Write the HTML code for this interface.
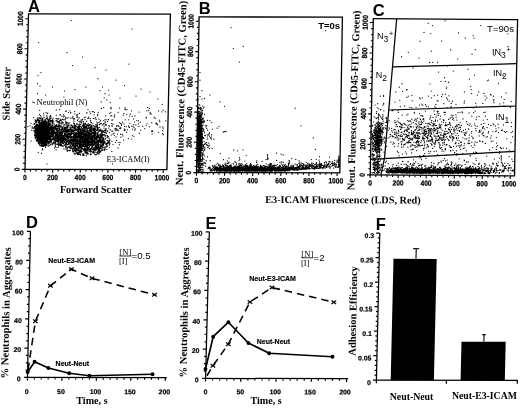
<!DOCTYPE html>
<html lang="en"><head><meta charset="utf-8"><title>Figure</title>
<style>
html,body{margin:0;padding:0;background:#fff;}
body{width:520px;height:408px;overflow:hidden;}
svg{display:block;}
.tk{font-family:"Liberation Sans", Arial, Helvetica, sans-serif;font-weight:bold;font-size:7.5px;stroke:#000;stroke-width:0.25px;}
.tk2{font-family:"Liberation Sans", Arial, Helvetica, sans-serif;font-weight:bold;font-size:6.9px;stroke:#000;stroke-width:0.2px;}
.tk3{font-family:"Liberation Sans", Arial, Helvetica, sans-serif;font-weight:bold;font-size:6.8px;stroke:#000;stroke-width:0.2px;}
.lb{font-family:"Liberation Sans", Arial, Helvetica, sans-serif;font-weight:bold;font-size:7px;stroke:#000;stroke-width:0.15px;}
.pl{font-family:"Liberation Sans", Arial, Helvetica, sans-serif;font-weight:bold;font-size:16.5px;}
.sb{font-family:"Liberation Serif", "Times New Roman", Times, serif;font-weight:bold;}
.sr{font-family:"Liberation Serif", "Times New Roman", Times, serif;}
</style></head><body>
<svg width="520" height="408" viewBox="0 0 520 408">
<rect width="520" height="408" fill="#fff"/>
<g transform="matrix(1 0.002 -0.0225 1 25.0 169.4)">
<rect x="0" y="-155.6" width="141.9" height="155.6" fill="none" stroke="#000" stroke-width="1.3"/>
<path d="M0 0v3.2M0 0h-3.2M5.5 0v2M0 -6h-2M11.1 0v2M0 -12.1h-2M16.6 0v2M0 -18.1h-2M22.1 0v2M0 -24.1h-2M27.7 0v3.2M0 -30.1h-3.2M33.2 0v2M0 -36.2h-2M38.7 0v2M0 -42.2h-2M44.3 0v2M0 -48.2h-2M49.8 0v2M0 -54.3h-2M55.3 0v3.2M0 -60.3h-3.2M60.9 0v2M0 -66.3h-2M66.4 0v2M0 -72.3h-2M71.9 0v2M0 -78.4h-2M77.4 0v2M0 -84.4h-2M83 0v3.2M0 -90.4h-3.2M88.5 0v2M0 -96.4h-2M94 0v2M0 -102.5h-2M99.6 0v2M0 -108.5h-2M105.1 0v2M0 -114.5h-2M110.6 0v3.2M0 -120.6h-3.2M116.2 0v2M0 -126.6h-2M121.7 0v2M0 -132.6h-2M127.2 0v2M0 -138.6h-2M132.8 0v2M0 -144.7h-2M138.3 0v3.2M0 -150.7h-3.2" stroke="#000" stroke-width="1.1" fill="none"/>
<text transform="translate(0 10.5) scale(0.88 1)" text-anchor="middle" class="tk">0</text>
<text transform="translate(-5.4 0) rotate(-90) scale(0.88 1)" text-anchor="middle" class="tk">0</text>
<text transform="translate(27.7 10.5) scale(0.88 1)" text-anchor="middle" class="tk">200</text>
<text transform="translate(-5.4 -30.1) rotate(-90) scale(0.88 1)" text-anchor="middle" class="tk">200</text>
<text transform="translate(55.3 10.5) scale(0.88 1)" text-anchor="middle" class="tk">400</text>
<text transform="translate(-5.4 -60.3) rotate(-90) scale(0.88 1)" text-anchor="middle" class="tk">400</text>
<text transform="translate(83 10.5) scale(0.88 1)" text-anchor="middle" class="tk">600</text>
<text transform="translate(-5.4 -90.4) rotate(-90) scale(0.88 1)" text-anchor="middle" class="tk">600</text>
<text transform="translate(110.6 10.5) scale(0.88 1)" text-anchor="middle" class="tk">800</text>
<text transform="translate(-5.4 -120.6) rotate(-90) scale(0.88 1)" text-anchor="middle" class="tk">800</text>
<text transform="translate(137.1 10.5) scale(0.88 1)" text-anchor="middle" class="tk">1000</text>
<text transform="translate(-5.4 -150.7) rotate(-90) scale(0.88 1)" text-anchor="middle" class="tk">1000</text>
</g>
<path d="M43 131.7h0M44.4 143.8h0M41.7 123.9h0M38.9 143.3h0M40.9 129.4h0M40.7 126.9h0M40.1 134.7h0M45.3 132.9h0M44.6 134.9h0M43.5 124.3h0M38.7 128.9h0M42.9 137.1h0M46.2 135.9h0M36.8 141h0M40.9 134.2h0M37.1 128.4h0M34.5 134.5h0M37.2 124.9h0M44.2 142.9h0M43.7 127.9h0M42.1 137.4h0M40.5 126.8h0M42.8 131.7h0M43.5 130.7h0M36 129.8h0M40.8 138.6h0M38.5 137.6h0M39.3 129.7h0M47.9 128.7h0M39.3 135.3h0M42.9 133.3h0M47.1 141.3h0M42.5 139.5h0M43.5 133.8h0M43.3 132.9h0M37.4 127.6h0M43.4 128.1h0M49.3 128.3h0M35.9 130.4h0M47 131.8h0M43.5 139h0M40 131h0M46.5 126.5h0M43.3 137.4h0M45.7 146.1h0M42.1 139.1h0M46.1 144.2h0M42.7 132.3h0M46.1 139.1h0M39.9 125.5h0M43.9 141.9h0M40.9 144.8h0M43.6 136.8h0M37.5 138.2h0M40.3 142h0M42.1 129.5h0M47.1 137.3h0M48.3 128.9h0M36.9 128.6h0M39.3 129.3h0M46 133.5h0M40.9 136.7h0M42.6 124.4h0M46.2 142.2h0M41.5 138.7h0M41.3 131.3h0M41.8 133.2h0M50 138.7h0M41 136.5h0M41.6 122.5h0M44.6 139.2h0M37.9 140h0M42.9 136.5h0M41 133h0M48.4 144h0M46 126.5h0M42.9 135.1h0M46.1 144.3h0M41.4 132.4h0M47.8 131.9h0M43 134.8h0M45.7 131.4h0M44.6 128.1h0M41.6 138.3h0M38.9 132.7h0M39.2 126.2h0M40.1 130.6h0M43.9 144.5h0M45.3 126.8h0M42.2 126.7h0M42.1 143.6h0M46.2 135.2h0M45.4 144.7h0M38.2 135.5h0M42.6 128h0M43.2 133.6h0M38.1 141.6h0M44.2 140.5h0M39.1 133.4h0M47.5 135h0M43.9 133.4h0M43.4 130.2h0M42.5 134h0M37.8 130h0M44.7 139.1h0M46.9 133.6h0M35 128.3h0M46.5 134.7h0M46.6 125.7h0M43.6 139.5h0M35.9 129.7h0M48.7 137.4h0M42.7 138.3h0M41.7 134h0M38.5 137.9h0M48.1 132.3h0M40.5 138.6h0M42.8 136.7h0M39.4 127.7h0M40.1 134.1h0M37.1 132h0M42.3 132.7h0M47.4 132.7h0M43.1 131h0M39.8 122.4h0M41.5 131.4h0M40.4 133.4h0M43 134.7h0M41.3 126.1h0M41.6 138.1h0M36.7 124.9h0M39.3 132h0M39.9 128.9h0M38.2 129.9h0M44.6 141.5h0M49.5 132.3h0M36.3 131h0M42 135.4h0M40.1 140.7h0M46.4 128.9h0M42.9 127.2h0M43.3 126.7h0M39.5 127.7h0M45.1 128.6h0M40.5 135.7h0M42.3 127.9h0M37.9 134.1h0M37.4 135.9h0M49.1 130h0M40.7 134.5h0M44.3 145.2h0M42.8 136.1h0M41 129.4h0M40.7 133.2h0M45.9 128.3h0M41.6 135.6h0M42.3 139.7h0M43.1 128.5h0M48.4 133.4h0M46.1 141.9h0M44.8 130.9h0M40.4 134.9h0M36.6 126.2h0M47.4 129.1h0M47.4 131.2h0M45.5 131.7h0M46.6 131h0M46.8 130.9h0M47.2 133.5h0M40.9 138h0M50 136.2h0M47 136h0M45.3 143.8h0M47 136.4h0M37.7 132.4h0M35.2 132.4h0M46.8 132.9h0M42.9 139.8h0M46.9 132h0M35.4 130h0M44.2 132.7h0M43.2 136.7h0M41.9 125.5h0M43.2 127.9h0M39 135.3h0M36 134h0M42.2 131.4h0M38.5 129.6h0M35.4 127.4h0M45.3 134h0M42.7 141.7h0M44.9 127.3h0M38.4 143.4h0M40 139.1h0M38.4 130.4h0M38.9 138.6h0M43.9 124.5h0M44.6 125.8h0M44.6 131.5h0M36.6 129.7h0M47.1 135.2h0M42.9 137.2h0M40.9 129.4h0M46.4 131.8h0M42.6 126.4h0M43.4 125.1h0M41.7 127.2h0M48.3 134.7h0M42.9 137.9h0M39.8 127h0M40.6 136.6h0M43.2 142.2h0M37.6 130h0M38.7 128.2h0M48.2 137h0M43.7 140.9h0M43.2 136.3h0M42.8 140.9h0M43.2 134.9h0M46.7 142.6h0M45.5 142.5h0M44 133.5h0M38.2 142.8h0M45.4 135.4h0M39.9 134.1h0M48 128.7h0M37.2 131.3h0M42.4 139h0M43 125.4h0M36.9 137.4h0M50.9 137.4h0M49.7 136.8h0M46.5 133.8h0M44.7 138.5h0M44.2 134.8h0M43.4 138.5h0M38 128.9h0M41.8 139.5h0M42.2 121.8h0M48.5 139.3h0M44.5 132.7h0M43 139.3h0M50 128.9h0M40.4 129.6h0M50.2 130.4h0M47.4 132.8h0M47.2 127.9h0M46.1 142.3h0M43.5 145.4h0M44 129.5h0M41.8 122.5h0M42.1 141.6h0M43.2 141.3h0M50 140.4h0M45.6 142h0M42.7 128.3h0M40.3 132.5h0M40.1 124.5h0M45.3 140.8h0M43.3 129.6h0M37.9 133.8h0M42.7 129.8h0M47 139.8h0M41.2 145.6h0M42 137h0M42 125.9h0M43.5 136.5h0M41.9 130.6h0M39.1 128.4h0M47.1 141.3h0M39.5 134.4h0M45.7 127.1h0M50 132.5h0M41.6 128.8h0M40.2 135.5h0M43.9 134.8h0M43 141.6h0M38.4 138h0M45.1 124h0M41.8 139.7h0M42.1 136.9h0M38.2 140.1h0M44.5 130.6h0M37.3 126.9h0M37.9 139.4h0M48.9 127.8h0M48 141.4h0M50 130.3h0M44.2 132.2h0M45.5 125.2h0M42.1 126.3h0M40.3 131.2h0M36.8 135.5h0M49.8 139.9h0M47.4 126.9h0M38.7 126.4h0M39.1 137.9h0M40.7 133.2h0M44.3 124.1h0M42.1 146h0M44 128.5h0M44.4 135.8h0M41.6 135.1h0M42.8 143.2h0M44 131.1h0M42.6 140.6h0M45.3 129.5h0M45.7 129.4h0M43.3 131.7h0M44.8 136.3h0M46.9 136.9h0M46.2 129.1h0M42.3 138.7h0M41.3 141.2h0M39.9 141.5h0M45.9 130.7h0M44 135.3h0M39.4 133.6h0M37.6 126.8h0M42.7 137.7h0M37.7 130.4h0M43.5 131.4h0M37.7 131.4h0M48.1 136.8h0M47.9 126.6h0M48 138.6h0M40.8 132.5h0M45.4 130.1h0M42.4 124.9h0M41.2 126h0M41.4 136.1h0M37 126.8h0M36.4 133.5h0M46.7 141.5h0M42.1 140.7h0M44 144.4h0M47.6 132.7h0M39.4 140.2h0M43.8 136.1h0M44.8 141.6h0M41.3 133.8h0M47.7 142.5h0M44 139.7h0M37.4 137.9h0M38.7 136.7h0M46.7 137.1h0M45.1 135.8h0M49.2 141.4h0M45.8 131h0M41.2 133h0M41.6 140.3h0M37.8 132.7h0M50.3 133h0M40 125.2h0M43.8 129.4h0M35.3 130.8h0M47.5 136h0M37.2 139.3h0M47.9 128.1h0M44.6 136.5h0M38.2 137.7h0M40.7 145.5h0M40.9 129.1h0M42.8 137.9h0M40.5 135.6h0M39.2 126.7h0M41.6 133.7h0M38.3 131.6h0M42.8 137.9h0M47.1 138.1h0M36 130.1h0M43 125.2h0M40 143.3h0M38.5 135.1h0M46.9 141.2h0M40.6 142.9h0M49.9 131.6h0M39.4 138.8h0M44.8 132.7h0M42 133.4h0M39.5 132.9h0M45.7 134.4h0M42.3 141.2h0M45.8 135.2h0M42.8 133h0M38 131.5h0M42.5 136.2h0M43.2 128.2h0M47.4 131.3h0M38.8 133.1h0M42.8 130.3h0M35.1 132.1h0M46 130.4h0M42.7 136.9h0M48.1 134.4h0M38 135.4h0M39.6 132.9h0M37.8 135.2h0M44.7 136.3h0M39.3 142.7h0M39.7 133.4h0M39.5 127.7h0M45 138.8h0M38.5 126.8h0M34.6 130.6h0M51.6 134.8h0M41.5 139.9h0M44.1 142.4h0M42.9 126.7h0M43.7 131.8h0M43.2 124.9h0M38.2 132.6h0M35.8 130.7h0M38.3 128.8h0M36.9 130.6h0M46.4 129.6h0M46.8 138h0M38.6 143.3h0M41.4 133h0M49.4 132.2h0M45.4 128.1h0M38.1 132.3h0M47.8 127.9h0M38 137.9h0M41.7 134.5h0M36.1 131.9h0M38.5 135.8h0M49.4 133.3h0M46.8 124.3h0M41.2 137.6h0M39 135.3h0M41.2 140.2h0M42.9 142h0M42.6 126.8h0M42.6 128.8h0M42.7 143.3h0M42.8 129.1h0M48.9 127.1h0M42.4 130.6h0M39.5 123.1h0M42.7 134.2h0M40.2 125.2h0M39.6 125.6h0M42.7 140h0M38.2 128.8h0M45.8 133.9h0M42.5 138.1h0M44.2 139.5h0M42.2 131.7h0M39.7 133.8h0M38.6 128h0M41.9 145.3h0M40.5 137.9h0M44.1 126.9h0M43 134h0M36.7 137.8h0M43.3 137.2h0M40.2 142.6h0M41.6 130.3h0M43.4 125.6h0M43.7 135.7h0M42.3 134.9h0M41.3 134.4h0M41.8 129.4h0M40.5 134.4h0M43.4 125.8h0M37.5 127.5h0M44.1 131.8h0M43.7 136.3h0M42.3 132.8h0M41 127.9h0M45.5 139.5h0M35.3 129.4h0M45.1 131h0M44.1 125.1h0M44.3 129h0M44.8 138.5h0M40 122.9h0M41.8 133.4h0M45.9 139.1h0M45 131.8h0M44 135.7h0M36 125.7h0M45.5 143h0M48.4 142h0M47.6 136.2h0M44.1 122.6h0M35.8 126.1h0M47.3 141h0M42.3 145.2h0M44.7 142.4h0M36.1 129h0M37 131.9h0M40.1 133.6h0M48.9 137.6h0M41.3 123.7h0M44.2 140.4h0M42.5 125h0M41.9 136.1h0M37.2 128.9h0M45 139.6h0M44.8 135.3h0M43.5 130.9h0M39.4 134.4h0M42.7 129h0M46.4 135.1h0M45.7 127.6h0M47.9 129.7h0M44.8 136.8h0M41.6 130.2h0M44.7 131.3h0M35.5 138.6h0M45.7 139.7h0M42.7 137.4h0M44.4 137.4h0M41.3 133.6h0M39 127.2h0M41.5 124.7h0M47.1 132.3h0M44.8 137.7h0M40.2 143.1h0M42.9 129.6h0M46.5 134.5h0M42.4 129.1h0M45.5 126.5h0M46.1 134.8h0M48.2 135.5h0M44.4 134.3h0M44.4 129.9h0M46.6 127.9h0M40.5 124.6h0M42.8 146.3h0M47.2 125.8h0M42.3 137.8h0M42.8 131.6h0M43.9 126.5h0M49.2 141.7h0M42.9 145.3h0M49.8 128.8h0M38.6 131.4h0M42.1 140.8h0M42.1 136.1h0M47.8 130.9h0M36.1 136.6h0M38.8 125.2h0M40 128.8h0M47.8 133.9h0M45.3 133.4h0M40.8 131.5h0M47.7 134.6h0M41.9 137.7h0M38.8 133h0M39.1 140.3h0M43.9 137.5h0M39.8 131.6h0M46.1 135h0M44.2 134.4h0M38.8 127.4h0M43.3 142h0M41.4 124.7h0M47.2 142.3h0M40.1 139.9h0M41 133.1h0M48.6 129.8h0M43.3 138.9h0M44 136h0M50.1 141.5h0M42.4 130.3h0M38.5 134.9h0M43.5 123.8h0M45.1 139.3h0M39.2 134.5h0M35.4 130.2h0M36.4 140.7h0M46.1 139h0M42.3 134.2h0M44 124.6h0M45.8 141.4h0M45.3 130.9h0M38.9 133.9h0M41.3 132.1h0M38.3 135.6h0M48.2 139h0M42.9 142.4h0M39.6 127h0M41.4 144.1h0M42 127.7h0M46.2 136.3h0M38.2 138h0M41.3 127.6h0M47.4 131.6h0M42.5 133.6h0M46.3 142h0M41.9 136.9h0M41.3 137.8h0M48.6 138.5h0M45.3 137.4h0M46.1 144.4h0M40.7 136.9h0M50.9 138.8h0M45.6 146.1h0M45.9 132.7h0M42.1 132h0M45 127.9h0M41.4 131.3h0M35.2 128.4h0M44.7 137.5h0M39.6 123.8h0M41.5 143.2h0M40.2 135.4h0M41.4 132.1h0M48.6 129.6h0M44.2 126.7h0M48.1 131.2h0M43.1 132.9h0M38.9 131.7h0M37.4 127.3h0M40.7 134.7h0M43.4 146.3h0M44.6 132.2h0M44.4 124.9h0M42.5 122.9h0M41.6 138.6h0M42.7 128.9h0M40.5 134.1h0M40.2 129.5h0M35.3 133.5h0M42.9 143.2h0M49.1 129.6h0M46.2 140.2h0M39.9 126.8h0M49.6 127.5h0M42.7 124.9h0M42.7 124.7h0M41.7 136.9h0M41 127.2h0M42.6 140.2h0M38 134.9h0M41.3 126.5h0M42.7 132.4h0M41.9 129.3h0M37.9 135.8h0M42 136h0M47.2 130.8h0M44.2 135.2h0M43.6 139.8h0M50.1 136h0M39.9 136.3h0M43.4 138.6h0M39.9 140h0M40.6 140.3h0M46.1 125.2h0M45.8 133.6h0M49.4 129.6h0M35.8 129.1h0M46.5 140.8h0M41.7 128.5h0M39.9 132.7h0M38.8 132.4h0M41.3 129.1h0M36.1 128.3h0M44.7 126.3h0M44.4 127.3h0M50.3 129.7h0M42.1 141.7h0M39.5 135.7h0M38.8 128.7h0M37.4 130.4h0M45 141.3h0M40 127.6h0M46.2 143.8h0M42.5 134.4h0M44.6 138.5h0M43.5 139h0M45.9 144.6h0M43.2 127.1h0M48.7 142.6h0M45 131.8h0M44.8 129.2h0M44.9 134.9h0M36.3 131.6h0M42.2 127.4h0M41.8 123.3h0M44 128h0M43.5 138.3h0M37.4 141h0M35.1 129.5h0M41.7 133.3h0M42.6 135.8h0M39.7 126.4h0M43.4 127.6h0M40.1 134.2h0M45.5 132.3h0M39.7 126.5h0M42.8 136.5h0M47.5 132.9h0M38.4 133.3h0M40.9 131.7h0M39.1 134.3h0M46.6 133.4h0M37.7 128.9h0M40.8 131h0M42.9 138.9h0M38.5 137.6h0M38.6 141.8h0M40.8 122.6h0M36.4 130.3h0M41.1 134.9h0M43.7 131.1h0M42.1 130.5h0M40.9 134.9h0M46.7 126.9h0M45.6 143.1h0M42.6 140.5h0M38.9 129.6h0M45.9 139.9h0M40.3 128.8h0M37.6 140.6h0M39.3 132h0M49.7 129.7h0M44 131.7h0M48.3 129.7h0M40.8 134.9h0M47.3 135.8h0M40.2 133.8h0M42.3 130.2h0M46.5 135.1h0M42.6 135.5h0M44.5 141.6h0M48.6 136.6h0M40.7 131.1h0M35 131.7h0M41.7 132.9h0M43.1 130.4h0M43.5 130.2h0M49.1 128.8h0M44.5 142h0M46.7 134.4h0M37.9 139.6h0M47 132.9h0M46.6 133.4h0M44.2 137.2h0M43.7 139.5h0M51.2 136.8h0M38.7 129h0M42.5 128.8h0M45.1 145.2h0M46.4 132.7h0M41 131.8h0M44.4 143.8h0M41.7 141h0M43.6 137.6h0M42.4 131.3h0M42.9 136.6h0M47 138.2h0M38.6 132.2h0M41.9 124.6h0M46.1 125.7h0M38.1 136h0M43.8 136.7h0M38.1 131.7h0M48.2 127.1h0M42 124.3h0M46.4 140.4h0M43.6 141.6h0M50.1 140.8h0M36.9 129.2h0M47.9 129h0M49.5 131h0M43.9 133h0M39.9 139.9h0M44.3 138.2h0M46.4 138.3h0M43.2 135.4h0M45.2 138.7h0M40.6 143.2h0M47.1 131.6h0M46.2 125.3h0M43.7 144.7h0M43.3 142.6h0M47.8 139.6h0M40.9 125.8h0M39.7 134.7h0M42.1 132.3h0M48.5 135.3h0M36.6 131.8h0M48.5 138.2h0M40.1 131h0M37.9 138.9h0M48.8 136.4h0M42.6 132h0M37 132.4h0M41.3 130.9h0M47.3 140h0M48.5 133h0M41 135.7h0M44.9 131.7h0M46.3 124.7h0M40 139.5h0M44.6 127.3h0M42.9 138.4h0M40.5 136.4h0M40.7 122.8h0M43.3 127.8h0M43.1 130.6h0M40.4 128.2h0M41 126h0M48.1 139.6h0M44 132.6h0M47.1 137.1h0M48.5 132h0M45.7 136.4h0M39.2 133.3h0M46.7 138.4h0M41.5 134.1h0M38.5 135.6h0M46.1 132.7h0M46.6 129.5h0M46.4 138h0M45.1 132.3h0M46 136.6h0M42.6 136.4h0M45.9 129.8h0M38.2 142.4h0M47.4 133h0M41.9 128.7h0M38.9 132h0M44.7 135.3h0M38.8 129.7h0M38.8 133.1h0M42.9 132.5h0M45.3 139.4h0M42.3 138.5h0M47.8 136.5h0M43.1 141.8h0M42.6 140.6h0M45.6 145.3h0M47.9 141.8h0M41.4 133h0M41.9 135.5h0M42.3 135.1h0M43.4 136h0M38.9 134.7h0M47.7 129.5h0M45.1 129.9h0M44.7 134.7h0M44.8 134.3h0M41.1 122.7h0M44.7 139.9h0M51.2 135.8h0M41.2 125.8h0M45 141.1h0M43.3 136.9h0M43.2 136.8h0M41.7 139.9h0M42 130h0M44.7 129.3h0M39.7 132.9h0M39.7 124h0M42 127h0M44.3 138h0M36.4 132.6h0M35 135.4h0M38.6 129.7h0M50.3 135.3h0M38.1 129.5h0M46 140.6h0M36.7 132.7h0M44.4 134.3h0M41.5 133.9h0M42.7 138.6h0M45.6 131.3h0M43.9 137.1h0M43.6 135.1h0M38.5 133.6h0M45.7 137.8h0M41.9 140.5h0M46.8 140.8h0M42.8 136.4h0M41.6 142h0M47.1 134.4h0M39.4 142.3h0M41.8 134.5h0M36.7 125.4h0M43.5 132.8h0M37.9 136.5h0M39 123.1h0M41.1 137.3h0M47.6 132h0M39.8 126.6h0M47 135h0M41.3 131.5h0M37.9 130.5h0M39.8 136.3h0M40.1 141.3h0M45.2 130.6h0M48.4 137.6h0M37.7 132h0M47 141.8h0M48.3 138.2h0M39.6 129.6h0M38.6 138h0M42.5 130.6h0M37.9 129.3h0M41.8 136h0M42 123.6h0M43.8 125.2h0M44.2 130.9h0M42 130.4h0M48.2 135.2h0M43 130.9h0M39.7 136.8h0M43.6 138h0M44 127h0M38.8 134.9h0M40.1 127.4h0M46.6 141.5h0M44.6 137.2h0M39.9 133.7h0M36.3 128h0M44.4 138.8h0M46.6 129.2h0M44 140.2h0M42 138.6h0M40.5 129.7h0M42 141.5h0M40.5 131.7h0M46.4 132.5h0M41.2 134.6h0M41 128.8h0M37.5 130.3h0M42.8 132.9h0M38.9 143.5h0M42.2 143.7h0M47.8 133h0M44.7 144.8h0M45.3 134h0M44.6 136.7h0M43.3 139.8h0M42.4 135.8h0M46.5 136.1h0M38 125.4h0M49.2 143.5h0M43.2 131.3h0M39.6 131.5h0M39.9 140.1h0M43.7 139.5h0M39.7 138.8h0M48.3 141.2h0M39.4 144.6h0M39.6 139.7h0M42.8 131.7h0M47.9 141.6h0M46 137h0M36.8 124.4h0M39.5 135.9h0M51.2 134h0M44.5 128.8h0M43 136.9h0M47.9 132h0M49 127.6h0M43.6 145.7h0M44.6 124.3h0M45.8 135.9h0M40.2 137.6h0M38.1 137.5h0M43.2 126h0M38.6 131.3h0M42.7 134.9h0M43.4 139.3h0M39.1 125.8h0M42.4 140.5h0M42.2 141.1h0M45 136.7h0M47.8 130.7h0M40.7 136.3h0M39.2 134.2h0M35.5 138.4h0M38.7 125.2h0M45.5 135.1h0M43.2 133h0M38.3 126h0M41.3 135.2h0M43.1 134.3h0M45.3 131.6h0M40.3 136.2h0M41.8 124.5h0M34.6 132.4h0M37.7 136.1h0M50.4 136.9h0M41.4 125.9h0M44 124.2h0M41.3 135.3h0M39.3 136.5h0M43 138h0M42.6 128.2h0M42.3 128.3h0M39.1 123.7h0M44 136.3h0M45.9 139.1h0M47.1 138.3h0M40.7 145.6h0M47.3 136.5h0M48.4 142.8h0M48.2 128h0M42.3 143.3h0M42.2 143.6h0M46.8 137.9h0M36.7 134.6h0M44 135.2h0M40.6 129.1h0M41.3 143.9h0M35 137.2h0M38.9 136.7h0M42.9 136.5h0M47.1 141.5h0M47.6 138h0M42.6 138.8h0M42.1 126.2h0M39.2 136.8h0M41.9 130.4h0M45.8 133.6h0M42.9 140.3h0M36.1 137.1h0M39 122.8h0M36.3 136.3h0M37.5 125.4h0M49 129.4h0M44 137.7h0M36 131.1h0M46 139.7h0M41.3 138.9h0M39.9 138.3h0M41.4 127.9h0M44.3 130h0M45.9 127.4h0M48.4 131.3h0M48.6 127.6h0M48.5 130.5h0M49.3 133.5h0M46 127.9h0M42.4 125h0M44.4 137.2h0M41.2 134.1h0M47.2 141.3h0M41.3 140.6h0M38.7 131.2h0M49.6 139.4h0M46.1 125h0M47.3 142.5h0M47.9 133.3h0M44.6 126.6h0M40.9 128.6h0M38.5 138.3h0M43.9 134.6h0M48.5 131.6h0M40.8 139.9h0M37.8 126.4h0M40.9 130.4h0M37.3 127.6h0M44.1 137.2h0M45 127.8h0M46.6 130.7h0M38.8 126.2h0M43.8 138.1h0M46.5 126.6h0M40.1 124.8h0M44.5 135.3h0M42.6 138.4h0M39.7 141.3h0M49.4 129.7h0M42.8 134.8h0M42.4 136.4h0M46.3 138.4h0M44.5 137.9h0M40.2 130.8h0M40.5 126.9h0M45.3 123.2h0M45.7 125.4h0M49.4 138.5h0M44.9 132h0M47.9 127.3h0M50 131.5h0M43.8 144.4h0M36.2 130.8h0M37.6 129.4h0M50.3 138.1h0M39.1 133.7h0M48.7 130.8h0M45.7 124.2h0M47.6 131.5h0M42.5 132.5h0M42.1 136.2h0M43.4 137.7h0M43.8 135.6h0M40.6 135.1h0M42.8 127.4h0M35.2 129.5h0M44.2 127.9h0M38.8 129.1h0M43.9 132.3h0M46.9 126.4h0M42.7 126.7h0M46.6 133.9h0M35.7 133.7h0M48.1 130.4h0M40.2 136.9h0M45.9 133h0M43.8 127.4h0M44 129.7h0M44.3 143.2h0M44.2 144h0M36.5 127.7h0M51.3 136h0M43.1 132.4h0M42 132.3h0M35.6 136.9h0M47.1 134.9h0M46.3 142.9h0M48.8 130.1h0M45.5 127.5h0M38.5 138.6h0M49.1 139.5h0M37.3 140.4h0M42 126.8h0M44.3 141.3h0M47.1 137.7h0M44.9 145.8h0M44.8 126.1h0M39.5 134.9h0M37.1 131.3h0M43.3 123.6h0M39.7 128.8h0M37 140.5h0M37.2 130.1h0M40.7 128.9h0M36.8 139.6h0M43.8 128.9h0M44.9 133.9h0M36.1 128.7h0M39.9 128.6h0M47.2 140h0M42 144.1h0M41.5 126.2h0M41.4 124.3h0M37.7 126.6h0M36.9 132.2h0M44.5 138.3h0M44.4 133.2h0M36.7 128.5h0M38.5 134.4h0M45.5 128h0M45.7 134.1h0M40 129.4h0M45.6 139.7h0M41.6 127.2h0M44.9 131.4h0M40.4 122.8h0M41.7 129h0M46.5 140.3h0M50.3 132.2h0M37.8 125.5h0M47.4 134.2h0M48.7 133.4h0M47.5 142.1h0M43.7 130h0M37.7 140.2h0M45.9 136.1h0M39.7 133.5h0M46.3 139.3h0M38.8 134.8h0M49.8 140h0M50.3 132.4h0M50.2 132.6h0M42.9 129.6h0M37.5 139.6h0M42.2 136.1h0M35.2 130.7h0M43.4 137.7h0M38.4 135.5h0M42.2 128.4h0M42.5 145.2h0M49 134.9h0M42.8 143.7h0M48.6 141.5h0M39.4 132.9h0M41.5 137.3h0M47.2 127.6h0M37.3 129h0M36.9 141.1h0M50.5 139.6h0M39.5 128h0M44 127.7h0M38.9 132.1h0M37.7 135h0M37.3 137.2h0M45.2 140.1h0M39.7 129.6h0M46.2 139.2h0M41.5 134.8h0M46.7 131.5h0M44.3 133.6h0M44.3 133.8h0M45.8 135.7h0M40.3 136.3h0M41.1 130.4h0M35.1 128h0M41 138.6h0M42.3 129.8h0M38.6 143.6h0M45.1 129.7h0M36.5 137.6h0M39.3 122.6h0M46.9 144.8h0M47.2 143h0M42 132.3h0M44.6 133.6h0M38.9 129.1h0M46.7 134h0M37.8 137.2h0M41.7 133.6h0M47.6 140.9h0M37.9 140.7h0M41.3 135.7h0M43.8 135.9h0M36.8 132.4h0M48.4 136.7h0M44.6 126.6h0M36 135.3h0M42.8 135h0M39.4 127.5h0M43.4 127.3h0M39.7 127.5h0M47.4 136.1h0M47.5 129.1h0M42.8 123.6h0M46.9 127.9h0M40.5 132.4h0M40.7 135.4h0M37.7 140.1h0M45.7 139.3h0M47.3 142h0M48.9 131.4h0M44.1 141.1h0M42 130.3h0M44.8 129.9h0M42.9 143.7h0M49.7 139.8h0M47.3 135.7h0M39.2 138h0M39.8 139h0M44.4 133.2h0M41.9 125.8h0M48.5 135.2h0M41.2 129h0M41.7 142.4h0M40.9 136.7h0M47 134.1h0M37.4 124.9h0M40.4 133.5h0M39.6 136.7h0M46.3 135.8h0M43.1 131.4h0M35.3 135.9h0M42.6 135.6h0M36.2 140.3h0M44.4 125.4h0M44.7 137.3h0M42.9 129.3h0M45.4 136.6h0M45.7 138.5h0M43.7 129.9h0M42.1 134.7h0M47.4 126.6h0M48.1 125.1h0M37 136.4h0M47.9 134h0M45.4 123.3h0M47.4 128.7h0M45.1 134.1h0M37.6 139.7h0M44.2 122.1h0M36.5 132h0M44.6 137h0M41.3 136h0M34.5 135.1h0M44.3 143.5h0M42.8 133h0M41.9 127h0M45.8 130.4h0M41.6 146h0M39.2 126.9h0M37.3 134.7h0M40.5 131h0M42.4 136.9h0M41.8 135.5h0M40.8 137.2h0M38.1 140.3h0M35.2 130.7h0M44.3 131.4h0M45.1 128.5h0M37.8 129.7h0M47.6 134.6h0M39.4 126.2h0M40.2 140.1h0M42.5 128.4h0M46.3 130.5h0M45.9 131.6h0M42.9 127.2h0M47.3 127.2h0M43.4 134.7h0M36.5 137.5h0M35.8 137.5h0M46.6 124.2h0M36.6 132.5h0M41.6 125.6h0M42.5 138.6h0M40.8 131.8h0M40.9 133.6h0M49.4 134h0M47.1 124.2h0M43.1 124.5h0M42.9 125.8h0M46.3 132.1h0M37.5 134.5h0M43.4 140.3h0M42.1 135.1h0M45.6 135.3h0M43.7 133.9h0M46 139.7h0M43.2 136.1h0M39.9 127h0M39.9 125.1h0M42.3 133.6h0M42.3 131h0M37.6 136.7h0M50.2 141.9h0M36.6 132.2h0M39.6 138.8h0M45.3 143.4h0M42.9 134.3h0M44.2 124.4h0M43.8 126.3h0M40.4 137.9h0M43.2 139.9h0M43.3 135.4h0M45 122.4h0M38.2 130.6h0M41.3 132.7h0M45.5 130.5h0M43.4 128.3h0M45.9 140.3h0M48.4 131.9h0M43.7 135.9h0M43.8 135h0M46.8 144h0M38.4 130.6h0M40.1 132.1h0M40.1 139.3h0M41.3 139.9h0M38.6 129h0M41.8 134.1h0M44.9 136.5h0M47.6 140.6h0M43 134.3h0M42.6 132h0M47.6 131.2h0M40.7 128h0M42.3 135.3h0M43.8 128.4h0M41.8 136.9h0M46.3 138.7h0M43.6 139.7h0M41.4 145.7h0M46.1 131.3h0M43.4 138.6h0M46.2 138.1h0M45.7 134.3h0M47.6 135.6h0M48.1 130.5h0M42.9 131.7h0M36.8 138.1h0M49.2 133.1h0M46.3 123.3h0M43.5 142.1h0M41 137.3h0M43.1 138.2h0M43.1 134.9h0M39.8 133.7h0M40.2 129.5h0M37 128.3h0M39.7 133h0M46.3 136.4h0M46.5 129.2h0M42 144.9h0M43.2 126.7h0M41.6 130.5h0M37.9 134.5h0M49 126.3h0M44.7 137.7h0M39.5 131.2h0M42.4 146.1h0M47.1 134.8h0M41.9 135.3h0M36.6 126.4h0M43.5 129.6h0M44.6 131.8h0M42.6 130.6h0M47.6 139.4h0M44.5 126.4h0M43.1 121.7h0M41.8 142.3h0M45.5 130.3h0M47.2 130.9h0M43.3 126.5h0M45.1 139.9h0M41.5 130.7h0M36.5 134.2h0M46.5 141.9h0M45.1 136.6h0M50.3 138.3h0M43.3 141.8h0M47 133h0M49.1 133.4h0M47.6 139h0M40.2 136.1h0M42.2 131.9h0M43.6 134h0M38.5 129.7h0M45.2 138.7h0M47.7 140.5h0M40.8 133.4h0M41.7 123.4h0M42.1 132h0M41.9 144.8h0M39.7 130.4h0M44.9 123.4h0M43.1 142.9h0M50.6 138.4h0M45.8 126.2h0M45.5 139.1h0M42 126.8h0M42.6 132.6h0M39.1 130h0M47.4 127.1h0M42.9 131.3h0M46.4 134.6h0M46.8 134.1h0M44.1 138.7h0M44 130.8h0M56.5 129.7h0M48.5 122h0M45.1 139.3h0M37.6 130.7h0M45.6 126.6h0M43.8 128.4h0M55.4 140h0M47.6 128.3h0M52.4 128.2h0M43.3 134.8h0M37.4 118.9h0M42.7 130h0M43.2 134.4h0M52.9 125.5h0M41.2 131.3h0M43.5 129h0M44.8 128.2h0M43.5 131.4h0M38.2 130.5h0M46.2 123.1h0M47.8 125.4h0M48 134.2h0M38.4 137.6h0M45 140.7h0M35.2 121.5h0M51.1 139.9h0M39.5 135h0M44 129.7h0M43 133.5h0M42.2 136.1h0M39.3 143h0M35.1 119.9h0M56.1 137.1h0M47.2 129.5h0M47.3 129h0M45.1 136.6h0M49 123h0M45.8 128.1h0M52.8 133.5h0M48.7 119.8h0M47.6 137.4h0M44.2 129.4h0M47.4 131.9h0M52.7 134.3h0M44.9 130.4h0M43.2 127h0M43.9 143.6h0M33.8 124h0M50.1 127.1h0M40.6 118.4h0M44.3 138.5h0M42.7 131.8h0M35.7 132h0M43 131.1h0M34.6 127h0M40 123h0M43.8 123.8h0M45.7 133.7h0M46 131.3h0M44.9 142.9h0M48.3 127h0M38.4 120.9h0M42 140.4h0M41.8 119.9h0M44.6 136.1h0M42.1 140.8h0M40.6 128.2h0M55.6 138h0M43.7 126.9h0M44.2 117h0M44.4 131.4h0M54.1 132.1h0M48.6 124.9h0M52.4 139.1h0M47.7 126.6h0M52.1 127.6h0M45.9 128.9h0M49.2 125.5h0M42.1 132.9h0M35 123.9h0M42 135.9h0M52 135h0M52.9 130h0M50 117.3h0M39.4 125.1h0M38.7 127h0M45.3 135.2h0M37 124.9h0M48.4 134.2h0M51.1 133.9h0M46.3 125.9h0M45.3 127.4h0M46.8 132.8h0M34.4 123.5h0M51.7 134.3h0M51.2 129.9h0M45.7 129.2h0M47.5 126.1h0M55.2 125.7h0M48.3 134h0M46 126.6h0M42.7 134h0M36.7 137.1h0M42.2 130.8h0M46.2 118.4h0M44.2 124.3h0M46.2 137.6h0M50.2 129.2h0M48.4 124.6h0M47.4 130h0M49.7 135.1h0M46.9 132.6h0M45.6 135.4h0M48.6 124.5h0M35.4 126.2h0M53.3 129.9h0M38 128.7h0M45.9 128.6h0M52.4 121.2h0M46 141.3h0M40.1 141.4h0M52.2 144.8h0M46.9 137h0M46.5 126.7h0M46.3 138h0M51.8 130h0M50.7 136.2h0M47.2 123.6h0M36.5 124h0M43.4 133.6h0M46.4 144.4h0M56.6 132.4h0M53 121.8h0M45.1 130.1h0M45.7 122.9h0M46.8 129.5h0M36.8 124.5h0M51.6 131.1h0M48.4 138.5h0M44.1 137.4h0M39 131.1h0M47.1 130.7h0M54.2 133h0M42 130.7h0M39.5 133.7h0M48.4 131h0M36.3 132.5h0M43.2 136.1h0M41.7 143.3h0M44.2 131.6h0M42.5 118.7h0M47.8 141.4h0M44.5 127.6h0M43.1 128.2h0M49.6 136h0M51.6 134.6h0M51.3 141.2h0M50 136.2h0M44 121.4h0M47.1 132.1h0M36.1 133.8h0M54.4 124.1h0M47.7 126h0M42.1 133.4h0M46.8 115.7h0M43.8 114.8h0M41.3 127.8h0M48.9 133.1h0M43.1 126.2h0M42.1 129.9h0M45.2 119.9h0M39.4 134.3h0M53.4 131.2h0M39.3 131.2h0M56.4 137.6h0M51.2 127.4h0M40.2 135.8h0M46.7 140.4h0M53 135h0M44.7 140.7h0M38.7 124.1h0M46.6 137.8h0M57.8 135h0M36.9 121h0M49.2 130.5h0M45.9 126.3h0M45.2 126h0M43.6 130.7h0M44 138.4h0M52.1 129.2h0M49.5 132.2h0M39.9 117.8h0M55.3 133.2h0M38.1 138h0M49.9 137.6h0M47 134.4h0M53.1 127.8h0M48.1 123.3h0M52.3 131h0M45.8 120h0M51.8 122h0M48 138.3h0M41.8 143.7h0M53.1 120.7h0M48.7 134.4h0M47 121.5h0M42.5 131.2h0M48.6 122.9h0M37.1 129h0M37.7 127.6h0M50.2 127.8h0M36.6 132.6h0M44.3 125.5h0M47.4 137.7h0M46.4 131.3h0M48.5 130.8h0M45.2 125h0M52.8 129.4h0M53.6 130.2h0M44.7 133h0M49.8 141.4h0M51 128.1h0M43.5 133.8h0M50.8 144.5h0M53.7 133.4h0M46.5 132.2h0M52.3 135.7h0M47.8 119.1h0M35.5 122.1h0M43.1 132.6h0M43.5 134.3h0M49.1 123.9h0M40.8 126.9h0M43.3 129h0M40.2 128.2h0M45.7 135.9h0M46.4 131.4h0M51.8 133h0M50.7 120.4h0M46.9 122.4h0M47.4 133.3h0M46.6 118.1h0M46.6 132.7h0M55.2 127.2h0M44.9 135.3h0M47.8 125.5h0M52.7 125.1h0M39.4 123.9h0M48 131.3h0M34.5 128h0M43.8 128.1h0M38.8 136.5h0M49.9 128.3h0M46.8 122h0M41.1 129h0M42.9 119.1h0M39.4 120.5h0M48.3 127h0M54.9 138.9h0M44.7 136.8h0M51.5 126.8h0M40.3 133.2h0M47.8 127.9h0M37.5 129.9h0M53.4 136.8h0M53 127h0M34.7 127.1h0M37.4 130.4h0M40.1 129.9h0M51.8 125.3h0M43.4 143.4h0M45 126.6h0M50.2 137.2h0M46.7 132.1h0M47.3 140.2h0M41.3 127.8h0M43.9 131h0M49.8 135.1h0M48.7 121.2h0M34.1 124.3h0M47.3 141.1h0M37.9 117.7h0M41 127.9h0M50.7 129h0M48.1 128.5h0M43.7 140.2h0M45.4 123.9h0M38.9 136.8h0M39.3 133.9h0M40.5 115.7h0M46.7 135.5h0M45.9 135.4h0M51.7 126.7h0M46.9 132.3h0M46.7 132.6h0M47.9 126.9h0M45.1 125.6h0M47.7 125.4h0M50.6 129.1h0M50.6 120.8h0M42.6 129.3h0M41 129.9h0M47.6 130h0M43 136.4h0M48.6 146.1h0M42.5 140h0M39.2 118.2h0M54.2 133.7h0M44.3 129.6h0M53.8 127.2h0M53.7 131.8h0M39.1 139.9h0M40.2 125.9h0M44.3 124.7h0M39.3 125.7h0M46.3 135h0M45.8 122h0M52.3 131.6h0M47.1 127.5h0M44.2 124.1h0M55.1 135.3h0M40.5 133.5h0M51.6 120.3h0M44 121.8h0M47.1 139.9h0M46 132.8h0M46.6 134.5h0M45.5 126.3h0M41.1 126.4h0M42.4 133.2h0M48.4 126.9h0M45.1 121.5h0M38.8 128.9h0M41.6 136.5h0M41.6 121.4h0M45.4 138.5h0M46.8 136h0M46.3 123.6h0M41.8 129.6h0M45.9 130h0M37.5 133.6h0M45.4 120h0M40.1 137.2h0M38.5 129.7h0M49.5 134.3h0M38.5 131.4h0M47.4 142.6h0M42.8 120.2h0M38.3 137.3h0M36.2 122h0M48.5 136.5h0M48 141.2h0M50.3 120.4h0M56.6 135.6h0M47.3 128.4h0M47.3 128.3h0M44.9 130.4h0M46.3 122.2h0M43.5 122.3h0M40.3 134.3h0M34.4 123.6h0M47.1 119.2h0M46.5 139h0M39.8 131.9h0M44.4 122h0M42.8 125.1h0M39.1 130.9h0M45.3 122.7h0M43.1 142.3h0M42.2 130.6h0M49.6 134.1h0M39.2 120.9h0M48.2 123.7h0M41.9 123.3h0M48.1 132.9h0M45.9 128.2h0M47 128.3h0M39.6 131.5h0M40.9 131.1h0M40.4 140.8h0M46.5 128.9h0M50 123.2h0M51.9 131.4h0M42.5 141h0M46 126h0M35.8 128.7h0M40.3 132.3h0M41.5 131.4h0M36.2 122h0M34.8 126.3h0M48.6 138.2h0M40.6 137.8h0M35.4 135.4h0M46.5 127.8h0M43.5 127h0M49.5 138.3h0M40.9 120.2h0M54.9 131.7h0M37.6 125.7h0M44.6 124.6h0M40.8 119.9h0M53.8 136.4h0M35.8 122.6h0M41 126.5h0M46.8 128.5h0M48.7 125.2h0M51.3 142.5h0M47.4 126.8h0M42.5 119.5h0M46.4 126.7h0M50.4 128.7h0M43.4 127.4h0M43.6 125.3h0M42.5 130.8h0M41.4 141.5h0M38.5 127.8h0M42 128.5h0M36 125.3h0M57.6 137h0M55.4 137.7h0M51.9 126h0M44 128.8h0M41.7 131.1h0M52.6 132.6h0M46.3 123.8h0M48.6 124.8h0M40.9 133.3h0M51.6 133.9h0M45.9 131h0M41.3 124.4h0M48.2 132.7h0M42.5 118.4h0M42.5 136.1h0M49.9 122.5h0M44.8 120.4h0M52.6 129.2h0M48.6 126.1h0M48.2 121h0M36 131.9h0M37.4 130.4h0M50.4 144.1h0M38.8 119.1h0M41.4 117.1h0M48.8 128.5h0M43.2 132.7h0M48 133.5h0M40 137.6h0M47 119h0M51.7 125.1h0M47.1 129.6h0M49.1 134.7h0M45.5 127h0M39.8 121.2h0M53.5 138.7h0M34.8 135.5h0M41.4 128.1h0M44.9 120.8h0M37.2 124.4h0M45.7 125.1h0M47.2 127h0M48.4 124.1h0M51.5 127.3h0M39.8 128.7h0M48.1 127.3h0M49.6 136.2h0M43.6 129.2h0M39.6 129.1h0M39.5 140.5h0M49.7 133.5h0M49.9 132.4h0M40.2 129.1h0M37.2 129.1h0M52.6 136.1h0M35.9 122.1h0M46.1 139.3h0M40.4 141.4h0M45.9 126.5h0M44 117.6h0M53.8 128.5h0M44 136.4h0M51.3 130h0M51.4 129.1h0M42 141.4h0M40 124h0M54.8 140.4h0M43 136.8h0M45 119.9h0M43.4 132h0M44.4 125.7h0M41.6 122.1h0M49.6 116.8h0M52.7 119.6h0M42.9 133h0M36.9 125.5h0M45.5 132.4h0M36.3 120.2h0M41.3 127h0M52.5 129.6h0M47.4 117.8h0M38.8 132.3h0M49.8 132.3h0M41 128.6h0M54.3 137.2h0M49.6 145.3h0M36.9 121.7h0M35.2 133h0M44.9 130.7h0M41.6 140.9h0M41.7 140.7h0M33.7 127.8h0M50 116.6h0M41.3 135.5h0M39.2 137.1h0M37.2 138h0M46.7 139.8h0M40.4 129h0M48.9 125.1h0M43.6 126.3h0M51.6 131.2h0M42.9 132.9h0M41.3 125.7h0M33.4 128.2h0M38.6 135.7h0M49.5 133.6h0M39 120.1h0M47.2 126.2h0M48 120.6h0M41.1 120.4h0M45.6 134.5h0M35.6 120.6h0M43.4 121.7h0M50.5 129.2h0M54.9 138.4h0M44.2 127.2h0M43.6 127.1h0M47.9 137.9h0M51.8 135.2h0M48.1 134.3h0M40.7 136.7h0M47.3 122.8h0M50.9 133h0M40.9 124.4h0M37.2 136.6h0M48.2 137.1h0M47.4 122.5h0M50.9 141.8h0M45.7 121.2h0M41.3 138.5h0M42.6 131.3h0M39 122.2h0M39.5 120.4h0M41.8 127.2h0M42.3 129.4h0M51.8 126h0M37.9 133.1h0M44.9 119.3h0M41.7 129.4h0M54.1 132h0M46.8 116h0M43 132.2h0M50.1 121.3h0M42.4 124.9h0M54.4 130.3h0M49.4 138.1h0M55.5 128.5h0M52.1 143.1h0M49.8 142.3h0M46 138.9h0M38.7 139.2h0M49.4 133.8h0M45.7 126h0M49.3 136.1h0M45.2 137.7h0M41.1 131.2h0M39.2 127.1h0M49.4 118.8h0M52.9 137h0M43.5 132.6h0M47.9 120.6h0M53.5 132.6h0M40.3 134.8h0M44.7 135.1h0M50 127.6h0M49.8 125h0M36.6 133.6h0M43.5 134.3h0M48.2 125.4h0M50.7 126.8h0M53.7 137.1h0M34 130.9h0M44.9 124.1h0M49.6 133.1h0M52.6 131.7h0M55.3 140.8h0M39.8 122.8h0M43.1 136.7h0M39.1 132.5h0M50.2 123.8h0M37.5 136.8h0M52.3 138.7h0M50.9 121.6h0M48.2 146h0M41.3 122.7h0M49.8 128.9h0M36.9 134.6h0M43.9 134.6h0M44.7 129.6h0M50.6 141.8h0M47 133.9h0M46.9 141.3h0M45.3 131.9h0M49.6 127.9h0M44.3 122.1h0M51.4 132.4h0M35.2 129.2h0M52.4 122.6h0M44.3 121.5h0M52 129.8h0M45.8 129.1h0M54.2 139.6h0M42 130h0M45.8 130.5h0M44.3 132.5h0M46.5 122.9h0M35.7 128.2h0M44.3 138.2h0M43.8 138.4h0M40.6 133.1h0M44.2 128.1h0M36.2 122.4h0M53.6 142.2h0M48 135h0M56.5 129.5h0M38.4 122.4h0M47 116h0M35.4 138h0M46.6 132.2h0M41.1 123.9h0M43.3 127.9h0M45.6 139.9h0M49 130.2h0M37.6 119.4h0M51.1 118.3h0M37.4 130.2h0M37.9 141h0M40.4 129.8h0M53.1 129.1h0M42 131.4h0M41.5 137.7h0M42 118.5h0M44 131.9h0M43.7 131.5h0M45.2 129h0M32.2 128.1h0M51.8 132.6h0M40 145.7h0M46.1 142.7h0M46.8 134.5h0M55.2 127.8h0M27.9 126.5h0M56.6 128.9h0M48.6 123.8h0M39.4 114.7h0M32.9 102.2h0M53.9 133.2h0M47 142.6h0M49.5 120.9h0M42.9 134.9h0M38.9 124.9h0M51.7 133.7h0M37.7 120.3h0M51.9 128.3h0M32.2 126.9h0M33.9 130.6h0M55 129.7h0M36.3 135.5h0M50 130.1h0M46.8 132.2h0M61.8 135.9h0M59.1 127.3h0M49.7 119.1h0M50.3 125.8h0M31 123.3h0M38.3 152.3h0M42.5 148.9h0M43.6 124.4h0M34.5 123.9h0M37.9 132.2h0M38.5 134.8h0M53.1 123.5h0M48.3 119.6h0M42.5 149.9h0M42.9 140.6h0M47.2 113.6h0M39.7 110.3h0M43 120.7h0M31.8 130.2h0M50.1 136.2h0M52.4 127.1h0M47.8 113h0M48.7 132.5h0M47.8 136.5h0M60.6 131.8h0M46.6 124.7h0M34.9 134.4h0M37 128h0M50.4 118.5h0M53.2 131.8h0M50.9 116.7h0M51.4 140.8h0M46.4 134.9h0M33.6 117.5h0M39.6 131.2h0M31.1 141.1h0M34.5 126.7h0M45.7 147.3h0M43.7 113h0M30 125.8h0M50.6 115.3h0M50.8 129.7h0M34.3 102.6h0M46.1 112.5h0M50.5 124.7h0M42.7 130.8h0M51.5 134.6h0M46.4 134.4h0M53.2 143.1h0M46.4 137.3h0M43.7 137.4h0M48.9 119.7h0M51 128.8h0M46.9 164h0M41.5 153.4h0M38.9 137.7h0M42.1 137.2h0M40.5 139.6h0M77.8 146.3h0M78.2 154.2h0M82 147.8h0M87.9 132.6h0M60.5 144h0M74.5 126.5h0M81.9 143.2h0M78.5 144.1h0M85.4 127.1h0M81.7 130.3h0M67.5 147.3h0M78 135.1h0M64.8 141.1h0M91.7 135h0M92.2 149h0M77.6 154.4h0M79.1 146h0M98.7 146.7h0M84.5 141.2h0M58.1 136.1h0M89.7 145.4h0M86.6 138.9h0M77.8 128.2h0M64.6 136h0M84.1 145h0M79 135.8h0M109.6 144.7h0M77.3 138.3h0M101.4 133.8h0M75 133.3h0M72.3 136.8h0M100.6 139.1h0M81.3 149h0M85.2 131.2h0M67 144.4h0M78.2 135.8h0M70.4 138.1h0M79.2 151.8h0M106.8 146.5h0M104.6 149.3h0M82.3 140.9h0M84.9 148h0M89.9 135.4h0M101.2 135.4h0M87.3 136.4h0M76.7 152.6h0M77.9 152.5h0M98.2 136.1h0M74.8 138.1h0M93.9 138.2h0M82.1 147.8h0M85 139.2h0M99.6 138.9h0M84 139.9h0M65.4 140.1h0M82.5 128.7h0M87 137.1h0M78.3 134.6h0M77.2 150.8h0M91.1 127.1h0M101 138.7h0M80.7 124.7h0M71.6 148.3h0M109.2 145h0M88 143.1h0M91.3 151.8h0M91.3 154.3h0M102.6 150h0M96.6 136.3h0M92.2 129.8h0M93.4 132.2h0M71.7 124.8h0M75 154.4h0M81.7 138.4h0M84.4 141.2h0M83.4 141.7h0M83.5 135.5h0M77.4 149.5h0M61.5 141h0M94.3 139.7h0M71.4 146.9h0M89.8 134.4h0M88.4 136.7h0M84.1 142h0M58.6 139.1h0M67 148.2h0M75.1 134h0M104.7 143h0M71.7 141.6h0M78.5 140h0M68.3 144.7h0M76.6 137.5h0M87.7 150.4h0M92 140.4h0M83.6 149.9h0M75.1 135.3h0M96.1 135.9h0M96.1 138.2h0M80.9 138.5h0M98 143.8h0M74.2 125.2h0M79 152.2h0M95.9 145.9h0M79.6 132.7h0M67.1 150.3h0M74 143.2h0M90.6 130.9h0M96.6 141.5h0M83.8 146.4h0M63.5 136.2h0M78.9 131.4h0M96.8 139.3h0M100.6 146.2h0M82 138.2h0M84.6 138h0M86.3 152.1h0M91.4 141h0M77.8 134.3h0M97.9 133.3h0M87.5 139.9h0M98.5 150h0M89.5 135.8h0M92.2 132.2h0M73.4 147h0M77.6 140.2h0M65.8 138.7h0M80.8 129.9h0M94.3 142.6h0M81.5 144.9h0M100 150.7h0M97.1 130.6h0M79.6 146.3h0M102.9 140.5h0M93.4 140.9h0M70.9 131.9h0M76.9 143.2h0M86.1 124.9h0M85.8 148.5h0M74.5 136.2h0M73.1 144.5h0M92.5 145.2h0M87.7 135.3h0M90.5 130h0M73.4 137h0M86.6 127.4h0M103.5 140.1h0M85.7 143.7h0M95.1 137.3h0M80.1 132.1h0M61 136.8h0M91 142.6h0M90.4 148.5h0M86.7 129.6h0M68.1 131.4h0M79.9 138.6h0M84.4 131.6h0M66.8 136.8h0M68.8 134.3h0M90.6 130.5h0M96.9 137.7h0M75.5 139.4h0M73.7 139.3h0M73.3 143.8h0M89.6 128.2h0M82.2 146.6h0M96.5 137.4h0M98.7 143.8h0M81.9 144.5h0M77.6 131.3h0M78.4 141.9h0M66.7 149.1h0M68.5 138.5h0M87.5 146.2h0M83.6 142.6h0M64 145.3h0M76.5 136.4h0M91.7 143.1h0M89.6 144.5h0M82.1 133.8h0M76.3 148.7h0M73 140h0M78.5 137.9h0M66.6 136h0M77.2 140.8h0M74 149.2h0M92.4 136.9h0M80.4 132.2h0M82.3 133.5h0M81.4 148.1h0M85.5 142.1h0M77.5 142.2h0M82.7 144.1h0M96.8 144.2h0M94.1 139.9h0M87.1 131.8h0M100.9 136.3h0M86 141.3h0M69.8 142.4h0M59.5 135.3h0M73.6 136h0M82.1 151.3h0M88.3 136.6h0M97.4 143h0M75.2 136.9h0M72.1 132.2h0M93.3 128.3h0M98.8 136.8h0M76.5 132.9h0M87.5 147.4h0M101.4 132h0M87.3 137h0M82.2 145.4h0M100.8 145.5h0M91.6 147.6h0M84.7 126.6h0M76.7 136.3h0M66.2 131h0M81.6 151.1h0M81.5 139h0M97.7 145.3h0M102.3 138.6h0M83.4 140.7h0M98.9 144.6h0M69.9 137h0M87.6 150.7h0M99.4 148h0M84.5 148.4h0M63.2 139.1h0M78.5 137h0M90.2 137.7h0M64.2 135.7h0M86.1 143.3h0M70.2 145.8h0M92.1 140.7h0M67.2 134.9h0M58.3 138.6h0M72.5 141.2h0M103 144.2h0M82.9 133.1h0M86.3 143.3h0M70.2 144.8h0M97.6 141.8h0M85.3 138.3h0M89 132.1h0M60.4 133.6h0M59.5 144.1h0M80.4 134.5h0M79.9 143.7h0M92.7 145h0M102.9 149.8h0M79.6 141.8h0M79.4 143.4h0M89 147.8h0M103.5 132.1h0M71.9 139.7h0M91.4 126.3h0M79.7 123.8h0M78.5 133h0M93.9 128.3h0M72.4 143.4h0M68.7 147.1h0M91.9 138.2h0M82.7 138.9h0M79.5 137.9h0M81.2 137.8h0M89.7 141.6h0M78 142.6h0M93.3 137h0M88.6 134.1h0M102.9 137.3h0M100 147.8h0M94.5 137.5h0M80.3 151.6h0M84.6 138.2h0M75.1 150.6h0M80.1 134.2h0M90.5 144.5h0M101.3 145.3h0M64.8 137.5h0M77.7 140.2h0M69.7 141.4h0M66 134.2h0M76.1 153h0M100.4 148.2h0M92.8 144.1h0M83.5 126.8h0M83.4 143h0M60.8 134.7h0M92.4 143.9h0M88.8 147.9h0M68.6 132.9h0M85.8 142h0M80.5 147h0M76.1 140.9h0M69.8 136.4h0M74 130.8h0M70.4 133.7h0M89.3 130.2h0M88 148.4h0M87.4 141.2h0M80.6 130h0M77.6 139.6h0M99.1 151h0M87.8 149.8h0M84 128.2h0M76.3 133.7h0M80.2 141.5h0M67.2 135.8h0M64.5 131.8h0M81.6 135.8h0M60.9 136.5h0M94.3 136.4h0M98 142.8h0M62.3 132.4h0M86.8 140.5h0M85.9 126.8h0M84.6 151.8h0M88.8 126.4h0M93.1 140.1h0M94.7 143.6h0M107.1 145.1h0M83.5 142.1h0M94.7 151h0M61.4 129.4h0M81.4 139.3h0M66.8 140h0M101.8 137.4h0M90.4 150.9h0M65.7 133h0M81.6 136h0M83.5 137.8h0M85.8 138.5h0M97.8 142.4h0M95.9 139.3h0M101.5 142.4h0M76.5 143.4h0M75.7 150.5h0M102.2 134.6h0M79.6 153h0M64.8 135h0M65.4 144h0M84 141.3h0M95.3 138.5h0M80.9 152.8h0M76.9 133.4h0M104.9 135.2h0M77.1 148.1h0M102.7 142h0M86.3 155.5h0M86.4 153.7h0M80 145.4h0M87.2 142.3h0M77 145.6h0M74.1 128.7h0M81.4 141.2h0M74.5 140.5h0M87.3 136.5h0M84.3 142.1h0M79.7 128h0M80.5 147h0M80.1 150.1h0M83.1 141.1h0M75.2 151.8h0M79.2 143h0M92.1 132.3h0M80.5 131.9h0M81.2 146.6h0M79.8 154.4h0M85.4 131.4h0M88.4 140.6h0M89.1 134.2h0M61.3 136.1h0M68.9 141.4h0M93.9 135.2h0M100.6 139.9h0M85.1 138.6h0M98.6 149.9h0M82.7 140h0M81.6 138.2h0M62.5 146h0M72.7 130.9h0M75.3 145.3h0M95.5 149.1h0M105.4 146.8h0M76.9 138.1h0M88.2 140.2h0M86.9 126.5h0M72.8 138.1h0M60.1 140.6h0M73.1 146.1h0M63.9 139.7h0M78.9 136.5h0M81.3 133.1h0M80.7 139.4h0M80.9 140.8h0M89.6 150h0M70.7 139.1h0M95 136.8h0M60.8 137.5h0M84 136.1h0M88.4 138.4h0M91.7 131h0M74.1 143h0M93.6 140.1h0M93.4 141.8h0M83.1 149.2h0M83.1 131.6h0M96.3 150h0M88.2 143.3h0M70.7 133.3h0M85.4 151.9h0M90.5 129.1h0M85.8 131.2h0M85.7 138.4h0M81.2 143h0M81.6 138.3h0M64 136.2h0M98.2 140.3h0M86.1 151h0M63.1 139.4h0M85.2 131.4h0M72.1 141.8h0M69.5 140.5h0M70.2 141.9h0M95.7 137.6h0M98.3 143h0M86.5 135.6h0M94.8 152.9h0M66.8 143.3h0M92.2 138.1h0M76.1 133.3h0M69.8 140.3h0M78.4 144.1h0M77 146.2h0M77.1 130.6h0M94.5 149.9h0M82.2 146.4h0M100.9 151.8h0M79.6 127.8h0M87.8 137.3h0M84.4 135.9h0M85.3 149.5h0M80.3 130.3h0M81.7 137.2h0M74.1 144.4h0M75.8 136.3h0M78.5 154.5h0M90.7 129.9h0M88.4 143.9h0M95.6 139h0M65.3 142.6h0M86.6 137.9h0M80.8 133.1h0M79.3 141.3h0M85.3 129.6h0M86.7 137.6h0M85 147.3h0M64.1 135h0M81.8 134.5h0M103.7 144.5h0M78 149.3h0M80.1 140.6h0M72.3 144.1h0M70.9 127.7h0M77.8 132.5h0M100.4 146.2h0M94 134.1h0M73.7 134.1h0M96.4 154.4h0M81.4 132.3h0M73.9 132.4h0M71 130.3h0M62.3 128.6h0M90.3 130.4h0M82.7 145.9h0M80.5 138.2h0M77.3 145.8h0M81.7 133.7h0M82.6 125.9h0M71.2 131.8h0M82.2 139.7h0M96.3 138h0M73.6 133.3h0M86.5 147.8h0M67.9 130.3h0M88.2 147.3h0M91.6 136.6h0M95.1 131.8h0M88.9 140.2h0M101.8 135h0M70 125.1h0M97.3 140.7h0M75.9 138.9h0M75 145.8h0M97.7 143.1h0M86.3 132h0M100.7 136.2h0M86.8 131.2h0M76.2 149.6h0M79.6 151.6h0M95.6 143.1h0M86 144.7h0M70.2 142.7h0M71.7 132.1h0M101.7 150.6h0M81.9 149.1h0M78.8 141.4h0M89.7 137.8h0M83.4 136.8h0M86.3 135.7h0M93.1 133.2h0M87.6 124.9h0M94.9 141.9h0M67.6 135.1h0M84.1 138.2h0M78.6 153.1h0M84.7 144.6h0M82.8 134.2h0M74.9 143.8h0M78.7 127.6h0M95.8 149.1h0M76.1 141.4h0M67 137.1h0M91.2 144.9h0M96.2 152.3h0M79.8 135.9h0M85.1 132.1h0M80.7 139.8h0M98 152.8h0M93.9 135.2h0M85.4 143h0M79.8 134.5h0M62 143.3h0M87.6 137.9h0M89.5 134.9h0M97.3 153.2h0M96 138.9h0M68.8 131.5h0M99.3 131.3h0M94.9 136h0M101.4 137.3h0M92.3 140.7h0M89.4 133.9h0M74.8 134.9h0M92 147.4h0M97.7 130h0M73.2 144h0M68.4 142.4h0M89.2 136.7h0M85.2 142.4h0M91.5 134.4h0M92 137.2h0M73.5 131h0M88 143.9h0M98.3 151.8h0M79 134.1h0M79.9 149.1h0M94.3 133.5h0M93.6 135.8h0M95.4 146.9h0M78.8 140.4h0M70 143.4h0M73.4 138.8h0M92.2 141.9h0M85.2 146.4h0M94.9 151.2h0M86.4 143.2h0M102.7 139.5h0M99.2 148.2h0M74.4 132.6h0M106.9 146h0M89.9 136.4h0M85.5 140.7h0M93 141.7h0M80.6 142.3h0M71.4 133h0M103.5 141.8h0M90.2 138.1h0M67.1 126.9h0M75.2 126.9h0M94.9 142.9h0M107.1 140.8h0M78.8 137h0M61 137.6h0M81.7 144.5h0M62.9 128.4h0M76.8 144.1h0M105 138.9h0M90.6 136.2h0M94.1 139.4h0M91.7 148.3h0M88.5 144.6h0M96.6 147.9h0M68.7 133.2h0M79.2 137.2h0M95.1 131.3h0M74.4 134.7h0M78.2 136.2h0M99.7 137.2h0M104 147h0M76 142.7h0M73.3 145.2h0M91.6 141.4h0M87.5 148.7h0M75.2 140.1h0M91.8 148.2h0M91.2 144.4h0M85.1 145.8h0M101.8 131.2h0M94.7 129h0M98.4 144.4h0M74.6 137.8h0M88.2 136.5h0M76.6 130.3h0M87.4 139.6h0M87.3 139.7h0M83.3 130.7h0M77.7 129.2h0M94.9 135h0M63.2 135.6h0M94.8 136.7h0M84.2 146.4h0M87.7 130.6h0M61.4 145.4h0M72.7 129.9h0M76.1 146.1h0M78.7 143.4h0M78.3 149.7h0M86.9 136.8h0M93 141.4h0M80.3 131.2h0M86.9 142.6h0M89.8 136.8h0M75.2 135.2h0M74.2 147.8h0M109.8 143.4h0M72.9 127h0M100.3 146.6h0M85 146.6h0M103.4 134.6h0M75.7 136.1h0M90.9 140.8h0M88.4 138.2h0M81.1 140.6h0M88.2 145.4h0M74 135.2h0M78.9 133.7h0M94.1 136.2h0M82.9 155.6h0M79.2 139.8h0M82.8 138.2h0M72.2 130.4h0M101.6 150.3h0M89.4 141.6h0M95.2 133.8h0M74.1 142.4h0M78.9 150.5h0M97.3 146.3h0M88.9 149.5h0M85.3 143.5h0M77.5 139.1h0M85.3 144.4h0M70 148.6h0M87.1 147h0M68.1 147.2h0M67.3 140.4h0M102.5 147.3h0M74.9 148.9h0M96.9 130.4h0M73.9 153h0M83.4 136.3h0M96.3 142.6h0M88.7 138.2h0M82.5 138.2h0M92 129h0M70.9 140.5h0M86.3 139.1h0M104.3 150.4h0M90.8 139.4h0M86.3 143h0M58.1 135.6h0M79.2 136.4h0M67.1 127.4h0M94.4 148.6h0M74.4 140.5h0M88.9 135.5h0M70.9 140.6h0M109 138.3h0M68.7 132.9h0M85.9 142h0M87 137.9h0M72.6 127.6h0M92.2 135.5h0M95.6 134.2h0M87 138.1h0M109.2 140.8h0M85.1 127.2h0M78 136.1h0M90.6 139.3h0M68.5 143.3h0M105.6 138.7h0M80.9 138.6h0M60.9 140.8h0M102.6 145h0M100.7 140.9h0M91.4 138.9h0M72.4 133.7h0M96.6 130.2h0M94.9 146h0M73.9 150.4h0M97.7 147.7h0M96.6 138.4h0M64.4 129.1h0M62.6 138.5h0M74.6 139.4h0M85.3 149h0M90.2 134.3h0M81.2 136.6h0M83.3 139.4h0M82.7 137.5h0M85.4 134.9h0M91.9 126.6h0M90.8 127.2h0M83.5 134.4h0M87.6 138.3h0M78.2 147.5h0M77.5 153.2h0M106 144.6h0M83.9 155h0M87.8 139.2h0M74.1 134.9h0M86.4 131.5h0M84.5 136.6h0M75.9 137.2h0M68.8 150.5h0M84.7 135.1h0M86.3 146.3h0M91.5 137.1h0M100.8 131.2h0M80.1 141.5h0M57.7 139.3h0M82.3 130.5h0M59.7 131.1h0M67.1 132.3h0M97.9 148.6h0M91.8 144.1h0M75.6 141.2h0M75.8 143.2h0M83 136h0M60.9 142h0M90.6 135.5h0M79.6 128.8h0M70.1 140.6h0M97.6 141.6h0M75.2 147.7h0M97.8 127.3h0M71.2 137.2h0M94 143.8h0M78.4 131.7h0M73.2 141.1h0M82.2 136.5h0M90.6 131.3h0M89.6 149.3h0M95.2 148.7h0M78.9 132h0M79.1 133.6h0M92.6 133.7h0M66.4 140.8h0M86.2 150h0M80.4 146.3h0M88.6 132.3h0M107.6 136.6h0M77.6 138.1h0M84.2 142.4h0M71 134.8h0M87.7 139.5h0M98.1 142.1h0M83.8 154.4h0M74.8 130.2h0M74 141.3h0M65.7 147.2h0M85.9 133.8h0M102.4 141.3h0M103 149.7h0M62.8 140.7h0M88.7 142.1h0M67.5 144.5h0M94.8 138.8h0M94.8 139h0M86.6 147.8h0M95.4 142.9h0M85 144h0M91.9 130.9h0M108.7 141.9h0M99 150.8h0M75.5 146.6h0M73.6 142h0M81.2 135.6h0M81.3 134.8h0M85.3 143.6h0M76.3 150.8h0M93.1 141h0M84.9 150.5h0M89.2 137.9h0M84.5 149.6h0M92.6 132.6h0M68.4 140.3h0M105.6 132.9h0M89 145.6h0M90.4 145h0M92.6 133h0M98.9 135.1h0M94.3 137.1h0M87.6 128.3h0M82 132.4h0M62.4 131.4h0M87.3 146.5h0M80.3 150.8h0M80.3 136.1h0M59.6 139.9h0M85.2 135.9h0M100.7 138.9h0M97.4 147.7h0M101.1 143h0M67.5 138.1h0M71.6 134.5h0M92.8 152.4h0M80.6 134.8h0M107.5 142.6h0M87.6 131.9h0M87.2 135.4h0M90.5 141.2h0M80.9 136.6h0M86.2 144.4h0M75.5 139.9h0M84.1 128.9h0M88 148.2h0M65.6 133.9h0M90.8 140.6h0M87.6 134.1h0M71.7 143.5h0M81.6 137.6h0M70.6 139.1h0M63.7 143.6h0M73.6 135h0M90.3 154.7h0M81.1 135.2h0M79.5 141.6h0M97.2 127.8h0M72.5 150.6h0M86.6 141.9h0M80.7 143.1h0M88.6 140.9h0M85.8 142.5h0M100.7 133.8h0M71.8 137.8h0M85 130.9h0M74.2 136.4h0M102.2 144.2h0M83.5 137.7h0M91.9 137.1h0M103.5 141.5h0M80.7 147.1h0M72.2 141h0M98.6 144.2h0M91.5 128.9h0M81.9 136.9h0M104.3 148h0M87.9 133.3h0M60.9 134.8h0M89.4 132.5h0M83.9 150.6h0M84.5 134.1h0M82 144.7h0M90.6 149.2h0M88 144.2h0M65.9 146.5h0M86.3 141.8h0M80.3 138.6h0M103.5 137.8h0M69.8 134.1h0M71.8 142h0M73.4 138.2h0M75.9 140h0M75.5 144.2h0M85.5 139.6h0M99.3 130h0M67.3 132.3h0M64.1 129.5h0M99.6 141.9h0M102.5 131.6h0M64.2 128.2h0M62.9 129.7h0M86.5 147.1h0M99.4 138.5h0M98.3 149h0M87.3 139.4h0M93.9 137.1h0M89.1 144.8h0M77.3 144.2h0M84.7 131.6h0M69.9 135.2h0M78.5 130h0M64.1 136.4h0M85 140.7h0M99.5 152.9h0M67.8 150.1h0M99.9 146.5h0M89.8 142.1h0M73.3 151.4h0M67.6 141.7h0M68 142h0M81.3 148.1h0M82.4 141.3h0M92.9 143h0M68.7 130.8h0M99 142h0M96.7 147.3h0M76 137.5h0M80.2 143.6h0M99.1 130.7h0M72.7 131.2h0M78.7 137h0M109.9 139.7h0M82.7 153.9h0M87.5 148.2h0M87.4 135.1h0M74.4 124.6h0M82.1 142.6h0M79 146.1h0M91 149.6h0M71.9 131.4h0M94.5 142.5h0M86.3 127.9h0M96.7 145.3h0M93.2 125.6h0M94.3 144.4h0M82.4 140.8h0M92.4 137.9h0M72.7 144h0M94.8 143.6h0M84.1 125.3h0M90.8 139h0M70.6 128.3h0M103.1 134.8h0M77 141.9h0M90.1 138.9h0M84.5 131.3h0M97.3 140.6h0M79.6 132.9h0M71.3 143.1h0M59.3 136.1h0M80.7 142.7h0M68.7 136.5h0M92 146.4h0M104.1 140.1h0M67.5 134h0M88.9 141.3h0M89.1 134.7h0M91.6 141.1h0M92.5 136.6h0M106.9 137.5h0M93 143.6h0M68.1 134.5h0M78.4 135.9h0M87.6 128.9h0M73.9 131.6h0M81.3 130.1h0M77.7 153.8h0M75.3 128.4h0M94.1 131.8h0M79.5 141h0M70.1 150.2h0M75.1 125.5h0M85.3 127.4h0M88.2 142.7h0M91.4 125.8h0M89.9 146.1h0M73.3 138.6h0M66.5 144.4h0M70.2 137.8h0M108.9 141.2h0M63.5 143.1h0M76.4 138.2h0M100.4 142.8h0M93.7 133.1h0M61.7 133.2h0M83.3 143.4h0M77.8 137.3h0M82.1 133.5h0M94.9 145.8h0M77 143.6h0M80.4 139.4h0M104.4 135.1h0M59.9 145.1h0M91.1 133.6h0M67.9 126.1h0M76.2 132.8h0M67 130.9h0M86.8 129.7h0M76.3 129.6h0M95.3 147.3h0M98.5 147.6h0M85.4 151.7h0M79.6 145.3h0M88.2 136.1h0M85.5 148.5h0M68.3 133.6h0M99.2 138h0M87.8 130.5h0M95.4 150.3h0M66.3 146.5h0M96.6 136.8h0M93 140.6h0M65.1 139.9h0M85.2 146.5h0M83.9 140.2h0M87.7 143.1h0M81.5 127.4h0M91.4 137.7h0M78.4 124.8h0M87.8 154.2h0M75.4 150.2h0M86 145.5h0M98.1 149.6h0M93.7 147.9h0M72.7 126h0M79.7 137.6h0M101.5 134.3h0M74.3 128.9h0M101.1 140.8h0M64.9 141.3h0M82.5 132h0M97 138.3h0M94.1 142.6h0M71 137.4h0M68.1 137h0M67.6 134.8h0M92.5 146.6h0M77.6 141.2h0M84.5 127.7h0M105.6 143.3h0M96 132.6h0M66 143.7h0M89 133.5h0M85.4 137h0M83.3 138.6h0M61.4 135.3h0M88.9 135.3h0M86.3 145.5h0M74.5 135.1h0M108 142.8h0M85 142h0M85.7 139.5h0M65.2 149.1h0M71.5 136.7h0M95.3 138.8h0M97.4 129.9h0M92.7 127.1h0M87.9 135.2h0M87.5 143.7h0M77.6 146.1h0M100.5 135.6h0M94.2 131.7h0M95.6 141.7h0M70.6 140h0M85.6 136.2h0M67.8 138.9h0M96.7 148.8h0M81.7 135.2h0M73.4 144.6h0M78.2 137.2h0M90.8 131.5h0M76.9 149.3h0M87.5 142.9h0M70.9 139.7h0M103.5 143.8h0M75.8 137.6h0M98.3 132.1h0M71.1 140.7h0M81.7 147.1h0M100.4 151h0M77.9 137.5h0M89.7 144.6h0M74.6 136.2h0M92.2 145.3h0M68 136.3h0M58.8 141.8h0M109.3 145.1h0M86.8 137h0M72.3 146.2h0M98.8 137.3h0M99.9 140.7h0M78.7 133.1h0M92.9 149.8h0M91.4 145.1h0M61.9 145.8h0M92.6 129.3h0M82 141.5h0M102 134.6h0M102.3 141.5h0M75.7 149.1h0M76.2 141h0M87.1 138.3h0M93.4 149.2h0M78.8 147.3h0M82.9 154.3h0M90.2 142.6h0M100.3 137.3h0M87.7 132.7h0M72.3 139.6h0M79.9 131.9h0M79.7 137.1h0M80.5 154.3h0M62.9 132.2h0M79.1 129.7h0M78.9 136.3h0M72.2 136.7h0M109.6 142.6h0M90.5 128.4h0M81.5 133.2h0M94.4 141.6h0M74 126.2h0M79.5 148.5h0M85.4 142.4h0M57.4 140.4h0M95.3 132h0M71.3 130.2h0M83.5 141.3h0M76.6 146h0M80.7 155.1h0M67.4 136.3h0M69.8 147.1h0M100.1 135.6h0M89.5 149.9h0M88.9 136.3h0M75.4 141.9h0M85 130.5h0M83 132.1h0M77.5 148h0M85 136.5h0M85 136.4h0M70.3 128.4h0M66.5 139.9h0M72.6 145h0M86 136h0M103.4 139.4h0M88.7 151.2h0M97.4 135.5h0M86 138.4h0M86.1 137.9h0M89.7 127.5h0M80.4 131.8h0M84.2 136.7h0M67.7 140.2h0M84.3 137.8h0M76.1 145.7h0M97.6 151.1h0M80 150.8h0M92.8 143.8h0M61 139.5h0M80.9 150.6h0M83.3 137.3h0M93.6 140.9h0M90.4 131.8h0M87.6 144.6h0M69.5 140.9h0M74.4 145.6h0M75.5 137.2h0M90.9 150.6h0M70.6 134.1h0M104.5 142.2h0M89.5 129.9h0M107.6 143h0M86.4 134.5h0M76.6 135.4h0M85.6 138.1h0M58.8 139.9h0M86.8 146h0M70 146.9h0M103 142.7h0M101.7 136.5h0M79.4 126.4h0M70.7 135.9h0M97.1 134.1h0M83.5 124.9h0M87.1 153.2h0M69.2 141.5h0M95.2 145h0M62.3 138.2h0M75.4 132.8h0M74.8 153.3h0M94.3 133.9h0M94.5 128.7h0M89.1 131.8h0M91.7 135h0M90.6 140.5h0M83.1 142.3h0M83.4 133.8h0M80.9 138.4h0M82.1 145.2h0M87.2 149.7h0M80.8 134h0M70.1 130.8h0M63 129.9h0M101 148.2h0M80.2 129.3h0M90.2 127.9h0M106.3 144.6h0M75.6 140.8h0M86.4 155.8h0M100.2 147.3h0M59.7 138.9h0M73.7 148.5h0M83.4 132.3h0M73.9 127.5h0M96.1 148.2h0M86.7 126.6h0M70.5 146h0M96.1 147.5h0M92.8 136.2h0M76.7 140.5h0M77.9 137h0M63.5 138.8h0M82.8 146.2h0M96 134h0M97.9 149.2h0M92 147.3h0M95.5 147.9h0M77.3 124h0M100.8 146.5h0M90.2 135.3h0M72.8 133.2h0M90.9 133.9h0M95.5 129.5h0M93.8 138h0M85.4 133.9h0M76.7 133.8h0M89.5 144h0M85.9 149h0M66.6 127.3h0M87.1 144.6h0M79.7 146.8h0M97.2 140.6h0M85.3 145.8h0M98.5 139.8h0M80.8 142.2h0M72.2 148.2h0M90.3 135.6h0M82.6 125.7h0M85.8 134.9h0M75.4 141.7h0M91.6 142.7h0M84.8 148.8h0M80.5 143.6h0M75.8 139.5h0M72.6 145.9h0M99.8 138h0M75.3 137.8h0M85.3 140.2h0M90.4 153h0M94.1 152.8h0M83.9 144.7h0M97.9 137.4h0M77.7 143.5h0M76.5 135.4h0M96 140.9h0M69 146.6h0M77.1 153.3h0M57.1 140.4h0M95 137.9h0M87.2 137.5h0M86.7 140.6h0M92.7 138.9h0M79.1 136.7h0M76 148h0M93.5 150h0M65.7 136.4h0M75.2 145.4h0M70.3 129.6h0M85.9 137.6h0M75 138.9h0M101.1 131h0M82.9 136.3h0M77.7 145.1h0M67.4 134.8h0M80.3 138.2h0M95.2 133.2h0M93.1 151.8h0M105.4 143h0M80.3 138.6h0M85.5 143.8h0M75.1 133.6h0M75.7 128.1h0M74.9 134.3h0M76.7 134.4h0M90.9 140.3h0M76.4 137.5h0M100.3 151.9h0M91.1 138.3h0M92.2 143.5h0M86.2 131.4h0M101.6 130.8h0M79.1 133.4h0M69.9 140.6h0M88.4 134.6h0M78.5 143.3h0M86.6 138.6h0M77.9 137.1h0M101.1 136h0M85.2 153h0M78.1 135.4h0M98.8 145.2h0M74.2 150.6h0M77.9 148.7h0M94 142.2h0M91.9 140.5h0M80.6 147.1h0M92.8 136.8h0M101 144.8h0M81.3 142.7h0M105.2 147.1h0M108.3 143.3h0M74.4 150.4h0M76.9 141h0M66.3 145.9h0M91.1 140.7h0M93.5 135.8h0M92 132.6h0M66.5 137.2h0M73 143.5h0M63.8 148.8h0M61.3 137.4h0M64.9 134.2h0M61.7 134h0M81 150.3h0M89.4 141.1h0M92.2 136.3h0M83.3 145.9h0M74.3 128.2h0M83.4 140.7h0M91.4 140h0M79.5 138.4h0M84.3 130.3h0M79.3 147.6h0M76.3 153.1h0M84 128.9h0M68.1 139.7h0M98.1 146.2h0M89.9 136.8h0M64.7 130.6h0M104.4 141.3h0M72.3 139.6h0M77.3 141.5h0M64.7 144.8h0M100.6 129.6h0M75.5 143.5h0M87.3 140.4h0M95.6 142.5h0M91 133.7h0M89.3 136.5h0M80.8 132.4h0M83.4 140.2h0M85.6 138h0M63.3 143.5h0M76.7 126.3h0M66.3 142h0M70.2 150.6h0M72.5 141.3h0M98.6 149.9h0M102.2 147h0M67.2 130.9h0M84.5 146.4h0M67.9 127.3h0M89.6 150.9h0M95.5 145h0M81.5 138.2h0M82.1 139.5h0M91.4 133.1h0M101 142.8h0M78.7 142.3h0M84.5 143.9h0M98.1 134.8h0M82.5 140.3h0M68.4 143.3h0M98.4 137.2h0M89.2 130.3h0M88.8 135.5h0M66 147.3h0M83.4 137.6h0M59.8 143.1h0M80.2 143.2h0M77.5 133.8h0M91.3 133.4h0M103.3 142.2h0M83 140.2h0M75.4 125.8h0M94 144.8h0M85.2 151.2h0M79.1 136.3h0M80.6 134h0M91.6 136.3h0M57.5 140.4h0M85.1 141.5h0M72.3 141.9h0M85.1 144.9h0M88.9 131.4h0M78.4 130.1h0M78.4 129.3h0M67.6 127.6h0M91 139.5h0M74.2 141.7h0M63.9 142.8h0M102.3 141.3h0M69.4 150.5h0M99.4 134.9h0M77.3 142.2h0M91 148.4h0M81.5 146.1h0M92.8 143.8h0M83.6 136.9h0M101 130.8h0M92.7 139.2h0M92.9 135.6h0M106.4 147.1h0M73.9 138h0M101.4 145.7h0M84.5 126.6h0M63.2 146.3h0M90.1 133.2h0M80.7 126.7h0M76.7 134.1h0M84.2 149.1h0M86.7 145.9h0M90.5 141h0M69.8 137.9h0M106.4 133.3h0M61.7 131h0M85.9 133.4h0M93.4 132.8h0M79.4 132.9h0M67.1 131.8h0M81.5 149.2h0M70.8 136h0M107.8 143.6h0M73.8 145.3h0M74.5 146.6h0M82.9 145.4h0M66.5 134h0M77.4 130.3h0M81.6 133.3h0M76.8 135.4h0M80 139.6h0M100.6 140.3h0M89.5 149.3h0M65.1 137.6h0M77.6 154.1h0M93.8 149h0M74.6 135.2h0M84.6 147h0M90.8 151.7h0M81 143h0M81.6 142.9h0M71.7 125.1h0M70.8 136.8h0M107.3 140.3h0M83.2 149h0M80.4 138h0M94.3 133.6h0M82.3 145.1h0M84.7 131.5h0M82.8 145.9h0M73.5 140.2h0M70.8 148.2h0M73.9 129.1h0M99 151.2h0M74.9 141.6h0M77.3 134h0M70.8 145.4h0M91 134.4h0M85.1 144.5h0M79.3 145h0M90.4 133.5h0M66.1 129h0M94.9 134.3h0M86.5 152h0M69.8 140.1h0M105.4 149.1h0M95.2 143h0M99.4 141.9h0M63.5 140.2h0M79.8 136.2h0M76.3 149.3h0M92.1 141.8h0M102.1 143h0M83.8 142.4h0M81.8 134.1h0M97.2 136.7h0M82.9 148.3h0M66.1 129.6h0M80.8 138h0M69.3 143.9h0M72.8 148.5h0M84.1 135.6h0M76.9 141.9h0M87.3 142.4h0M62.7 129h0M93.3 145.4h0M65.8 139.4h0M71.7 133.7h0M80.3 136.3h0M101.4 140.8h0M100.1 134.6h0M100.3 142.2h0M83.7 133.5h0M100.2 135.8h0M88 132.9h0M74.5 137.2h0M67.4 134.1h0M81.8 142.5h0M97.2 142.5h0M64.9 131.1h0M91 130.7h0M77.5 133.5h0M93.5 151.4h0M63.6 141.1h0M79.6 140.3h0M81.7 135.2h0M86.6 150.5h0M98 134.9h0M101.7 149.9h0M85 135.4h0M78.9 143.9h0M83 130.9h0M87.7 136.8h0M101.4 133.6h0M85.4 134.1h0M108.4 143.1h0M71.7 137.5h0M90.8 141.9h0M101.1 140.1h0M88.1 124.8h0M71.4 136.5h0M73.7 139.7h0M81.4 148h0M87.8 148.6h0M80.1 147.4h0M63.6 136.5h0M73.4 144.4h0M90.6 128.5h0M94.9 151.2h0M64.3 142h0M78.5 143.6h0M60.6 135h0M75.8 139.7h0M84.4 144.5h0M78.8 128.5h0M75.4 147.2h0M66.9 143.1h0M82.9 139.4h0M79.7 138.8h0M103.7 142.9h0M61.1 138.5h0M89.5 139.3h0M101.9 132.1h0M92.5 135.8h0M61.4 135.8h0M90.7 130.6h0M103.7 131.7h0M83.4 137.5h0M87.4 146.2h0M74 137.5h0M87.5 145.7h0M99 148.9h0M81 145.9h0M81.6 136.2h0M88.8 136.9h0M61.1 132.6h0M84.3 143.7h0M74.1 130.2h0M90.3 151.4h0M97.7 152.6h0M87.8 137.1h0M101.2 148.7h0M69.9 127.2h0M77.9 130.8h0M69.9 135.8h0M84.3 139.9h0M84.8 138.4h0M80.8 132.5h0M82.5 142.1h0M77.5 141.7h0M91.8 146h0M79.8 141h0M99.5 139.1h0M86.7 135.5h0M81.1 151.9h0M63.9 130.8h0M96.8 127.1h0M103.2 134.6h0M83.1 126.6h0M63.7 141.4h0M75.9 151.2h0M80 144.2h0M62.8 143h0M84.8 134h0M87.8 139.4h0M92.3 135.5h0M104.8 141.7h0M94.6 134.9h0M78.5 149.8h0M85 146.2h0M91.8 139.5h0M101.7 146.7h0M95.9 148h0M80.4 139h0M74.8 128.8h0M97.9 153.7h0M91.2 129.2h0M58.7 135.4h0M84.6 140.4h0M107.4 146h0M84.8 147.7h0M90.1 149.2h0M79.1 151.2h0M83.4 132.3h0M79.2 140.7h0M78.3 130.9h0M83.7 125.7h0M86.4 139.8h0M98.7 148.8h0M78.5 126.9h0M66.1 128.9h0M101.6 140.3h0M82.5 134.4h0M72.8 139.6h0M74 134.2h0M74.3 136.4h0M75.2 130.1h0M99.9 138.5h0M88.7 130.8h0M96.8 146.2h0M78.8 143.3h0M88.2 141.9h0M85.8 141.8h0M99.5 137.8h0M94.6 139.6h0M74.6 126.7h0M67.1 128.8h0M72.6 141.3h0M74.9 148.9h0M76.2 138h0M66.6 136.5h0M87.2 137.2h0M68.6 142.2h0M65.2 127.9h0M86.8 142.6h0M98 142.5h0M70.1 129.7h0M91.9 132.2h0M79.7 129.4h0M99.2 151.9h0M87.7 145.8h0M93.3 153.1h0M83.5 129h0M78.4 150.7h0M88 153.1h0M82.5 132.2h0M78.3 148.1h0M82.5 138.8h0M81 148.2h0M69.4 133.7h0M76.3 139.4h0M99 136.4h0M80.3 143.4h0M102.5 140.4h0M67.8 147.6h0M65.1 145.1h0M85.2 143.3h0M94 140.3h0M74.6 136.8h0M92 140.5h0M96.2 146.7h0M98.1 141.9h0M82 142h0M82.8 139.5h0M61.1 137.6h0M83.8 134.5h0M87.3 125.1h0M102.7 145.8h0M66.2 143.1h0M72 131.2h0M95.7 131.4h0M68.8 140.8h0M92.4 149.6h0M65.5 145.9h0M82.7 140h0M95 132.2h0M91 130.6h0M80.5 141.1h0M72.8 151.7h0M94.8 147.7h0M83.4 139.6h0M94.5 143.3h0M88.9 145.7h0M77.2 153.2h0M103 135.2h0M76.7 145.2h0M89.3 142.5h0M74.9 133.1h0M80.4 131.5h0M80.1 149.8h0M74.5 141.8h0M86.7 138.4h0M101.2 141.9h0M102.9 142h0M81.2 152.5h0M103.2 139.2h0M89.2 134h0M107.8 140.7h0M66.5 131.1h0M103.6 138.5h0M75.4 149.1h0M77.2 144.5h0M95.8 142.3h0M79.7 132.3h0M70.4 141.9h0M80.2 140.9h0M83.8 135.2h0M67.3 151.2h0M73.6 147.1h0M80.6 140.1h0M86.5 141.9h0M72.4 149.3h0M63 141.2h0M87.6 142.1h0M79 126.9h0M95.5 127.2h0M76.4 124h0M71.5 138.9h0M87.1 142.8h0M84.7 132.9h0M89.6 143.8h0M70.9 142.5h0M81.9 139.1h0M72.1 127.2h0M81.3 151.3h0M91.9 151.5h0M84 155.5h0M93.2 140.9h0M85 133.6h0M98.8 137.7h0M89.7 125.4h0M97.6 138.1h0M88.3 127.3h0M102.1 143.8h0M87.6 144.7h0M84.6 126.1h0M71.9 142.8h0M77.3 139.9h0M73.6 130.1h0M85.3 139.1h0M59.4 136.6h0M93.6 141h0M94 152.5h0M88.3 153.8h0M79.1 152.2h0M83.6 134.8h0M77.3 133.4h0M99 141.1h0M90.4 143.8h0M78.6 134.5h0M75.8 129.3h0M81.3 133.7h0M69.5 133.1h0M90.6 144.3h0M82.8 139.3h0M91.9 137.8h0M82.8 144.7h0M88.7 140.2h0M95.7 135.4h0M82.8 140h0M76.2 145.6h0M88.4 128.3h0M90.4 127.8h0M94.1 132.4h0M94.8 133.6h0M89.6 135.4h0M100.1 150h0M77.3 136.7h0M88.5 148.3h0M85.8 139.1h0M85.9 152.6h0M70.6 134.8h0M88.2 133.5h0M86.5 143.1h0M98.6 131.1h0M65.2 135.5h0M71.3 125.5h0M82.5 140.4h0M62.7 138.3h0M98.9 154h0M72.4 133.7h0M63.8 137.6h0M74.8 128.8h0M94.4 140.9h0M91.7 138.7h0M96 144.1h0M91.7 147.9h0M87.7 142.7h0M58.8 144h0M76.8 129.7h0M78.3 154.7h0M76.3 133.5h0M72.7 145.3h0M106.9 149.3h0M91.6 142.6h0M99.5 149.1h0M93.8 132.2h0M95.6 134.2h0M83 124h0M69.5 133.1h0M89.8 146.3h0M83.7 144.6h0M80.6 128.8h0M87.9 145.8h0M73.5 141.2h0M95.3 142.3h0M94.2 144.3h0M84.9 139.7h0M93.5 140.6h0M69.7 147.3h0M75.8 129.6h0M80.4 133.4h0M80.5 137h0M85.2 136.3h0M92.4 142.6h0M81 150.4h0M72 137.5h0M70.1 130.6h0M73.1 145.8h0M81.6 144.3h0M83.9 142.2h0M76 132.5h0M83.2 135.9h0M83.1 142.1h0M92.4 140.7h0M95.9 138.7h0M86.7 142.3h0M102.1 135.8h0M69.9 139.5h0M80.3 134.8h0M85.9 141.6h0M98.4 146.9h0M91.6 142.3h0M80.7 144.9h0M90.3 129.1h0M97.5 144.6h0M88.9 142.5h0M108.6 136.6h0M89.3 138.9h0M73.1 139.7h0M81.8 136.4h0M92 144.5h0M88.4 135h0M106.7 143.7h0M94.5 138.6h0M103.6 145.1h0M73.4 139.7h0M77.9 137h0M92.8 144.4h0M84.9 146.6h0M87 140.2h0M75.4 134.4h0M99 151.4h0M62.8 146h0M75.4 130.8h0M84 130.8h0M92.8 147h0M82.7 134.7h0M65.4 135.8h0M80.9 138.5h0M99.8 150.1h0M87.8 136.4h0M97.1 139.8h0M94.9 154.6h0M95.6 147.7h0M76.9 150.7h0M97.5 145.8h0M86.5 149.6h0M78.5 132.8h0M79.2 126.1h0M92.9 141.9h0M68.8 137.7h0M93.5 134.4h0M82.9 131.5h0M73.6 138.4h0M67.8 139.1h0M93.9 129.2h0M95.8 140.1h0M113 134.1h0M86.7 121.2h0M111.2 135.1h0M66 123.6h0M123 135.9h0M130.4 114.2h0M70.9 148h0M87.2 152.2h0M85 139.1h0M98.1 127.6h0M62.8 132.4h0M96.4 143.1h0M101.3 141h0M76.1 128.9h0M44.5 145.9h0M74.6 141.6h0M80 139.9h0M102 132h0M75.8 135.1h0M65.7 128.8h0M99.3 136.8h0M94.6 129.2h0M101.5 145.6h0M88.5 135.4h0M107.7 137h0M97.3 138h0M53.7 138h0M91.4 122.4h0M102.3 146.5h0M88.3 136h0M115.4 130.2h0M79 126.4h0M100.9 129h0M64.3 129.6h0M87.6 135.2h0M77.2 127.4h0M68.6 136h0M62.8 136.4h0M91.9 128.9h0M95.8 154.8h0M75.6 134h0M64.2 138h0M71 136h0M102.1 133.6h0M64.8 141h0M109.3 147.3h0M56 134.4h0M93 127.3h0M100.3 139.9h0M110.9 115.8h0M79.5 136.4h0M73.2 133.3h0M60.7 137.8h0M105 121.5h0M85.3 131h0M79 125.8h0M79.7 130.1h0M92.5 140.1h0M88.3 133.1h0M110.1 129.5h0M46.9 145.4h0M103.8 134.9h0M77.6 116.8h0M86.3 125.5h0M81.8 138.4h0M86.1 138.6h0M102.1 136.7h0M92 137h0M60.4 126.7h0M86.5 133.8h0M85.9 124.1h0M94.9 127.2h0M88.6 126.5h0M86.3 127.1h0M107.3 131.5h0M67.1 132.5h0M129.2 127.4h0M77.1 144.1h0M68.2 130.4h0M102.7 148.1h0M108.3 143.3h0M111.6 123.6h0M115.6 142.3h0M96.9 122h0M89.1 147.2h0M95.1 137.2h0M87.8 125.5h0M77.6 114.8h0M118.4 130.7h0M122.4 122.2h0M88.1 143.9h0M83.6 123.1h0M78.6 132.1h0M56 138.5h0M75.1 134.2h0M78.1 136.4h0M87.6 131.9h0M68.9 140.5h0M51.8 125.8h0M100.4 139.1h0M120.7 123.4h0M47.5 135.6h0M85.4 123.9h0M104.3 132.2h0M65.8 139.2h0M60.7 145h0M88.7 118h0M83.6 127.2h0M75.9 125.3h0M119.3 144.7h0M116.5 126.3h0M100.5 140.2h0M86.8 129.4h0M81.9 121.2h0M104.9 134.9h0M83.7 123.8h0M116.5 140.4h0M111.9 141.3h0M76.8 145.8h0M102.7 124.9h0M118.1 147.9h0M100.8 142.5h0M70.4 118h0M83.3 153.6h0M82 148.9h0M90.8 124.7h0M89.1 136.8h0M81.8 122h0M104.9 132.7h0M114.3 135.6h0M77.9 139.4h0M60.6 126.6h0M95.8 133.7h0M88.8 125.6h0M96.8 137.3h0M75.8 139.8h0M94.4 134.5h0M71.6 144.1h0M109.6 140.6h0M120.9 137.2h0M71.3 144.2h0M39.6 122.9h0M79.7 133.6h0M79 118.1h0M92.8 133.7h0M89.5 129.7h0M98.5 141.2h0M140.7 130h0M78.6 128.2h0M82.1 133h0M97.5 132.7h0M54.1 138.5h0M104.2 126.1h0M77.5 120.6h0M62 119.7h0M73.2 144.1h0M98.9 122.7h0M105.3 129.8h0M113.1 124.1h0M97.7 141.7h0M75.7 128.9h0M100 144.8h0M88 127.6h0M133.9 136.5h0M50.4 140.6h0M120.1 142.5h0M104.2 123.3h0M97.3 130.6h0M87.8 133.2h0M78.9 117.6h0M71.3 140.2h0M60 137.4h0M128.4 138.5h0M107.5 121.5h0M102.5 135.6h0M96.6 137.8h0M53.3 143.1h0M84.5 129.3h0M92.1 140h0M111.8 151.4h0M70.8 130.1h0M95 130.3h0M85.3 131.1h0M90.4 120.7h0M75.1 130.7h0M96.8 148.4h0M91.5 125.7h0M54.4 132.2h0M113 144.6h0M131.7 139h0M73.3 136h0M111.8 131h0M71.4 132.9h0M80 134.1h0M123.5 140.1h0M93.9 134.7h0M118.9 142.3h0M95.7 117.4h0M109.4 141.3h0M87 129.3h0M117.4 134.1h0M124.2 130.2h0M103.1 139.7h0M79.5 132.9h0M83.3 139.6h0M72.3 126.8h0M101.8 135.7h0M100.2 144.9h0M77.1 143.9h0M107.8 130.8h0M79.4 135.3h0M125 130.7h0M106.1 132.9h0M120.6 134.2h0M76.9 144.8h0M71.5 139.2h0M55.8 147h0M102.8 147.7h0M69.1 122.8h0M116 136.8h0M93.3 130.1h0M105.1 119.7h0M66.2 124.4h0M79.3 129.6h0M94.1 148.9h0M104.6 134.8h0M66.2 132.4h0M97.1 133.8h0M74.9 127.4h0M106 135.6h0M86.3 133.2h0M85 119.6h0M98.9 129.3h0M112.6 163.8h0M86.1 139.6h0M113.9 133.2h0M71.7 139.9h0M96 125.4h0M69.4 134.8h0M94.7 141.8h0M73.4 119.8h0M91.3 127.5h0M102.4 130.5h0M72.3 131.6h0M57.4 129.5h0M87.3 136.5h0M100.5 143.1h0M95 137.1h0M73.4 143.1h0M106.4 143.3h0M85.1 128.8h0M105.1 136.5h0M73.9 130.8h0M98.9 139.9h0M112.8 131h0M78 132.4h0M85 149.1h0M102.3 132.5h0M100.4 120.3h0M97.3 135.1h0M61.6 134.9h0M57.3 131.4h0M60.4 135.9h0M65.5 131.4h0M57.3 121.2h0M59 132.7h0M56.2 134.2h0M61.8 133.5h0M59.4 128.7h0M59.2 124.9h0M69.9 131.4h0M50.9 132.1h0M52.6 122.2h0M61.9 121.3h0M52.6 135.6h0M52.1 131.6h0M53.1 118.2h0M57.3 128.2h0M65.9 132.3h0M64.4 135.2h0M63.1 139.6h0M61.7 134h0M67.1 137.9h0M67.8 138.1h0M54.3 127.1h0M61.8 134.2h0M66.6 132.1h0M66.8 122.6h0M59.3 123.5h0M70.1 133.8h0M62.8 129.1h0M65.8 136.1h0M54.3 127.5h0M56 128.5h0M50.2 134.7h0M64.4 139.1h0M60.9 120.4h0M58 133.6h0M58.4 139.2h0M66.6 140.9h0M49.8 134.7h0M57.2 138.5h0M65.8 121.5h0M64.2 127.2h0M55.2 141.5h0M58.5 126.2h0M52.2 128.6h0M57.8 129h0M66.9 118.2h0M64.4 133.2h0M55.4 141.7h0M59.3 132.8h0M63.6 131.7h0M62.5 127.3h0M68.3 134.6h0M66.1 121.9h0M61.8 126.9h0M56.3 120.4h0M56.9 126.1h0M63.3 119.7h0M61.9 139.8h0M54.2 128.6h0M59.7 120.6h0M55.9 120.8h0M57.2 138.9h0M67 135.5h0M55.1 136.5h0M56.6 129.9h0M63.2 137.2h0M60.5 140.4h0M61 135.4h0M60 115.2h0M58.2 119.1h0M55.8 132.4h0M57.2 118.8h0M58.6 122h0M64.6 130.5h0M60.8 120.4h0M68.1 137.6h0M60.8 134h0M52.3 136.3h0M60.5 137.3h0M67 141.3h0M67.6 129.9h0M55.5 128.8h0M56.3 128.3h0M56.3 125.6h0M57.4 138.2h0M67.9 135.3h0M62.3 141.4h0M65 138.5h0M59.9 134.2h0M59.6 131.2h0M63.9 127.2h0M57.7 129.9h0M66.6 122.8h0M56.5 133.1h0M52.8 129.4h0M64.3 124.4h0M56.1 126.4h0M66.1 127.7h0M59.3 140h0M59.6 125.2h0M52.5 120.3h0M57.3 132.9h0M60.8 137.7h0M61.3 142.6h0M57.2 122.2h0M65.5 128.1h0M67.9 126.7h0M55.9 141.6h0M62.4 135.3h0M52.1 130.2h0M62.4 135.5h0M55.1 127.2h0M59.4 128.4h0M61.2 129.7h0M59 126.1h0M65.8 128h0M56.1 132.7h0M57.8 131.8h0M62 141.3h0M60.1 136.6h0M61.6 129.4h0M56 118.6h0M63.8 126.1h0M60.7 127h0M65.1 119.9h0M67.4 127h0M58.4 130.8h0M56.3 125h0M57.9 128.8h0M56.8 129.1h0M49.7 124.5h0M69 123.2h0M62.5 128.9h0M57.3 121.9h0M61.7 122.5h0M59.9 133.7h0M65.5 117.5h0M60.3 136.9h0M59.9 125.3h0M61.2 130.8h0M56.5 134.2h0M56.4 130.2h0M69 132.6h0M63.4 114.9h0M64.5 135.3h0M63.6 116.9h0M59.3 127.2h0M69.1 133.7h0M59.2 128.3h0M52.8 133.6h0M63.6 131h0M66.6 130.4h0M60.9 123.6h0M62.3 137.4h0M65.4 138.3h0M68.4 125.7h0M63.4 122.9h0M69.2 131.3h0M61.9 124h0M53 135.9h0M65.3 134.8h0M61.9 141h0M61 133.2h0M53.6 121.8h0M66 123.2h0M59.3 133.8h0M55.1 144.2h0M57 127h0M59.1 122.8h0M60.9 140.3h0M55.5 128.8h0M55.5 135h0M62.5 137.9h0M60 122.3h0M70.7 127h0M58.1 125.5h0M64.3 133.7h0M69.6 134.7h0M59.3 126h0M65.6 133.9h0M61.9 116.2h0M60.6 132.4h0M68.8 132.3h0M55.1 129.7h0M57.1 118.7h0M51 128.9h0M59.7 121.6h0M65.5 140.7h0M59 127.5h0M64.7 128.1h0M56.3 128.9h0M66.4 133.8h0M59.7 130.3h0M57.8 133.7h0M69 122.7h0M60.3 138h0M57.2 134.9h0M63.7 131.1h0M61 125.9h0M65.3 129.3h0M59.4 132.7h0M52.2 123.8h0M53.8 135.6h0M58.6 138.7h0M67 138.3h0M57.6 139.2h0M60.1 140.1h0M66.3 135.5h0M56.9 140.2h0M61.4 130.6h0M61.2 133.3h0M56.7 141.1h0M61 145.1h0M65.2 127.4h0M65.2 118.9h0M61.6 144.3h0M58.4 137.1h0M53.1 143.7h0M56 136.8h0M55.3 134h0M61 129.4h0M52.3 144.7h0M52.2 138.7h0M62 139.6h0M58.8 139.3h0M52 139.8h0M62.2 142.4h0M61.5 130.1h0M57.9 134h0M54.5 147.9h0M56.6 135.1h0M63.6 136.8h0M55.1 132.2h0M58.5 132.2h0M60.3 134.1h0M59.6 128.5h0M58.9 124.4h0M56.1 149.7h0M58.3 136.1h0M56.7 130.9h0M61 145.6h0M55.3 125.6h0M55.7 134.1h0M56 138.8h0M52.6 131.5h0M53.2 139.9h0M59.1 132.6h0M61.6 136.2h0M57.8 139.8h0M53.5 137.2h0M62.1 132.5h0M56.4 134.6h0M58.1 134.3h0M62.5 135h0M56.1 138.7h0M55.3 140.7h0M56.5 139.2h0M54.5 132.5h0M55.6 126.2h0M58.4 135.8h0M55 131.8h0M60.7 133.4h0M54.1 136.9h0M60 138.5h0M58.7 145.4h0M56.1 136h0M56.4 125.7h0M56.3 140.8h0M63.4 143h0M54.6 126.2h0M61.6 140.9h0M61 138.2h0M56.3 133.4h0M63.1 138.1h0M58.3 140.8h0M57.9 144.4h0M57.5 136.9h0M60.4 136.9h0M56.8 130h0M61.5 135.2h0M57.1 134.6h0M53.9 141.9h0M59.5 144.2h0M57.2 128.3h0M55.5 145h0M59.4 129.2h0M54 132.6h0M56.6 144.1h0M56.8 135.2h0M57.7 141.6h0M53.3 132.1h0M63.5 137.8h0M59.8 137.1h0M58 137.6h0M58.3 142.1h0M60.7 134.8h0M53.9 128.4h0M59.2 136h0M53.3 133.8h0M60.9 142.7h0M55.6 141.3h0M56.7 132.2h0M62.8 139.8h0M60.9 145.5h0M52.7 135.6h0M55 129.3h0M56.7 140.6h0M60.3 141.5h0M54.3 138.9h0M56.8 124.6h0M59.4 140.2h0M60.1 139.5h0M61.8 131.9h0M58.3 131.4h0M56.8 135.8h0M60 135.5h0M57.1 147.3h0M55.8 135.4h0M55.8 135.9h0M60.7 135.8h0M62.1 133.8h0M61.3 137.8h0M56.3 129.6h0M59.5 138.6h0M53.2 126.8h0M54.8 143.4h0M61.2 136.9h0M54.3 138.9h0M58 130h0M58 126h0M58.6 146.9h0M55 133.3h0M62.5 140.3h0M56.1 132h0M60.3 139.3h0M58.8 128h0M58 130.1h0M62.2 132.9h0M59.4 134.8h0M60.3 139.8h0M56.6 133.5h0M62.1 143h0M60.6 141.3h0M60.3 145.5h0M59.6 125.5h0M55.1 146.2h0M53.8 136.9h0M61.6 139.2h0M59.6 130.8h0M55.1 143h0M57.6 141.4h0M62.6 133.3h0M51.5 132.9h0M54.3 142.5h0M59.9 143.7h0M60.4 142h0M53.4 134.5h0M54 137h0M58.1 143.1h0M62.4 142.4h0M57.5 144.3h0M55 139.7h0M58.5 126.6h0M59.1 141.9h0M55.6 142.4h0M54.5 140.2h0M58.4 138.2h0M55.4 132.9h0M58.4 140.1h0M52.9 129.8h0M53.2 127.6h0M59.9 129.3h0M56.9 130.3h0M58.6 144.2h0M52 138.8h0M52.2 136.7h0M57.9 142.6h0M56.7 137h0M52.8 137.1h0M54.7 131.5h0M60.2 132.9h0M56 137.1h0M59.5 129.3h0M58.7 137.7h0M57.9 133.3h0M55.4 143.2h0M61.7 130h0M71.7 130.4h0M133.5 118.9h0M74.7 118.9h0M69.7 129.3h0M68.7 125.5h0M77 123.7h0M125.4 109.7h0M63.3 130.9h0M92.5 129.2h0M108.5 119.7h0M97.8 114.4h0M56.1 125.2h0M90.5 129.1h0M138.4 123.8h0M90.3 126.5h0M77.8 114.3h0M73.7 118.3h0M57.5 130h0M96.2 119.3h0M149.3 126.8h0M127.3 129.8h0M133.1 126.4h0M56.3 109.9h0M149.4 108.4h0M97.7 129.4h0M87.8 118.6h0M59.4 127.1h0M57.7 121.2h0M62.2 127.8h0M98.9 119.2h0M155.9 123.6h0M81 126.7h0M72.7 127.9h0M98 128.4h0M125.3 119.8h0M163.2 128h0M62.6 122.7h0M116.8 125.9h0M69.7 129.1h0M77 117.1h0M163.1 110.2h0M99.8 130.2h0M105.7 115.9h0M66.3 110.8h0M84.8 126.1h0M62.8 129.3h0M72 118.1h0M147.7 107.4h0M94.2 129.6h0M58.5 127.8h0M78.6 129.5h0M116.3 129.8h0M81.2 119.8h0M106.7 99.8h0M84.2 130.4h0M65 119.7h0M83.6 128.9h0M85.4 124h0M90.4 113.7h0M104.2 97.8h0M159.3 120.2h0M110.9 112.3h0M67.9 124.1h0M99.8 124.8h0M96.2 126.1h0M53.7 127.5h0M97.4 124.6h0M77.1 129.8h0M68.8 129.5h0M124.5 126.4h0M85.7 117.2h0M93.5 130.4h0M64 124.9h0M103.7 107.7h0M81.8 128.8h0M93.2 111.5h0M84.8 124.1h0M88 109.6h0M67 126.4h0M82.6 130.2h0M97.6 115.5h0M86.6 129.3h0M120.7 127.3h0M154.2 117.2h0M111.8 120.1h0M63.9 97.1h0M114.3 116.6h0M125.1 107.9h0M121.5 125.4h0M60.3 119h0M76.2 129.7h0M108.8 125.8h0M89.6 124.6h0M66 125.4h0M76.8 117.2h0M79.6 113.4h0M72.4 117.8h0M129.8 123.3h0M114.4 117.1h0M90.3 118.7h0M61.2 129.5h0M67.7 129.7h0M119.6 128.2h0M123.9 123.9h0M74.4 123.3h0M92.4 111.7h0M80 122.8h0M97.6 128.9h0M106.9 119.8h0M96 124.4h0M112 125.5h0M72.9 116.5h0M69.9 110.8h0M112.1 126.3h0M128.7 119.8h0M135 115.9h0M60.4 114.6h0M160 126.9h0M68 117.6h0M75.8 129.2h0M119.4 108h0M155.9 123.6h0M75.9 128.9h0M97.3 125.3h0M92.7 129.3h0M106 124.5h0M71.9 129.8h0M62.6 119.3h0M99.3 124.4h0M77 130.8h0M162.3 104.3h0M98.3 112.3h0M133.8 124.6h0M94.2 126.2h0M81.6 130.9h0M59.6 109.6h0M90.9 122h0M109.7 113.4h0M108.8 128.1h0M118.1 125.6h0M123.3 115.2h0M89.8 111.8h0M105.6 122.8h0M74 121.3h0M76.5 115.2h0M85.3 129.8h0M75.8 125.3h0M114.6 114.9h0M132.6 129.1h0M128.7 125.9h0M66.2 127.4h0M104.8 130.4h0M118.1 112.3h0M71.9 125.7h0M55.9 128.1h0M58.8 118.6h0M82.5 128.4h0M68.4 124.8h0M74.7 114.1h0M93.3 118.4h0M146.9 110.8h0M83.5 121.6h0M73.6 130.7h0M103.5 123.9h0M146.1 125.6h0M78 126.6h0M94.7 130.7h0M127.1 109.7h0M61.7 128.5h0M71.3 129.1h0M81.3 131h0M94.3 129.1h0M129.6 116.1h0M144.8 128.5h0M79.1 121.4h0M60.5 120.1h0M120.7 128.4h0M56.2 115.4h0M80.4 121.2h0M101.2 101.9h0M58.6 121.7h0M105.2 124.5h0M58 126.4h0M92.8 123.8h0M118.8 126.4h0M97.5 127.2h0M88.2 123.7h0M134.6 122h0M119.5 122.5h0M75.7 127.9h0M84.2 117.7h0M59 123.5h0M162.7 126.8h0M68.8 130.6h0M110.2 102.3h0M94.5 112.3h0M73.7 130.3h0M129.4 127.4h0M95.8 128.6h0M65.8 122.6h0M86.9 113h0M78 119.5h0M67.4 122.9h0M80.8 129.6h0M61.3 126.7h0M81.1 126.4h0M79.6 125.2h0M65.7 111.4h0M114.9 128.8h0M139.2 112h0M111.1 108.4h0M56.8 129.6h0M84.4 130.3h0M97.4 126h0M106 128.4h0M105.8 130.9h0M93.4 130.5h0M121.5 124.4h0M103.9 130.3h0M117 130.2h0M150.1 113.9h0M75.6 129h0M65.4 128.4h0M82 129.2h0M101.4 108.4h0M97.5 123.1h0M94 114.8h0M86.8 112.6h0M84.3 126.2h0M73.5 123.2h0M126.3 126.6h0M91.5 122.7h0M165.3 111.8h0M74.7 111.6h0M70.6 112.3h0M105.6 129.9h0M81.3 122.8h0M85.5 123h0M101.3 123.7h0M112.9 124h0M58.8 130.3h0M68.9 130h0M106.1 129.4h0M106.2 125.3h0M68.5 112.5h0M95.3 126.8h0M100.6 123.5h0M68.1 129h0M134.7 130.2h0M57.7 121.4h0M86 128h0M112.8 119.8h0M109.4 126h0M88.7 117h0M64.7 116.1h0M110.1 129.9h0M100.8 129.9h0M100.5 129.9h0M94.9 118.7h0M162.8 130.7h0M66.4 130.8h0M70.8 112.9h0M91.7 126.4h0M103.7 120.5h0M96 126.8h0M100 121.5h0M99.4 127.4h0M159.8 121.7h0M84.5 124.2h0M157.5 124.9h0M95.7 129.3h0M124.8 129.4h0M104 128.1h0M68 125.2h0M65.5 130h0M83.5 127.6h0M111 108.8h0M82.6 119.3h0M146.1 117.4h0M110.9 107.4h0M82.6 119.7h0M124.5 129.1h0M151.7 131.3h0M131.8 126h0M107.6 135.6h0M138.5 120.8h0M158.6 110.9h0M136.9 120.5h0M151.8 122.7h0M117.1 129.2h0M152.7 131.3h0M125.1 109.2h0M126.8 114.6h0M150.1 112.4h0M139.2 133.4h0M131.4 110.8h0M126.7 132.3h0M124 113.4h0M158.6 132.3h0M140.3 122.2h0M152 130.5h0M163.3 134.7h0M132.7 135.6h0M148.7 110.3h0M109.4 132.7h0M135.3 128.9h0M146.4 117.9h0M151.3 113.8h0M142.7 126.2h0M134 127.5h0M161.8 111.8h0M115.8 128.4h0M147 123.5h0M128.9 127.1h0M105.8 131.3h0M165.8 120.9h0M152.1 133.9h0M156.8 124h0M111.8 115.6h0M155.2 118.4h0M132.2 116.3h0M122.2 134.4h0M138.9 126.4h0M156.8 123.1h0M162.5 133.6h0M135.9 124.9h0M71.2 20.5h0M38.7 42.5h0M67 52.5h0M82.5 57h0M72.5 65.5h0M95 67.5h0M106 70h0M41 72.5h0M38 75.5h0M98 78.7h0M37.5 83.7h0M40 86h0M52.5 87h0M86 87h0M75 89.5h0M64.5 91h0M102.5 87h0M108.7 90h0M100 90.5h0M105 93.7h0M109 95h0M124.5 85.5h0M37.5 93.7h0M45.7 95h0M132 29h0M141 89h0M129 64h0M136 96h0M150 92h0M158 99h0M120 98h0M116 80h0" stroke="#000" stroke-width="1.25" stroke-linecap="round" fill="none" opacity="1"/>
<text x="36.5" y="105" class="sr" font-size="8.5">Neutrophil (N)</text>
<text x="106.6" y="162" class="sr" font-size="8.5">E3-ICAM(I)</text>
<g transform="matrix(1 0.002 -0.0167 1 196.5 172.6)">
<rect x="0" y="-155.7" width="143.3" height="155.7" fill="none" stroke="#000" stroke-width="1.3"/>
<path d="M0 0v3.2M0 0h-3.2M5.6 0v2M0 -6.1h-2M11.2 0v2M0 -12.1h-2M16.9 0v2M0 -18.2h-2M22.5 0v2M0 -24.2h-2M28.1 0v3.2M0 -30.3h-3.2M33.7 0v2M0 -36.3h-2M39.4 0v2M0 -42.4h-2M45 0v2M0 -48.4h-2M50.6 0v2M0 -54.5h-2M56.2 0v3.2M0 -60.5h-3.2M61.9 0v2M0 -66.6h-2M67.5 0v2M0 -72.6h-2M73.1 0v2M0 -78.7h-2M78.7 0v2M0 -84.7h-2M84.4 0v3.2M0 -90.8h-3.2M90 0v2M0 -96.8h-2M95.6 0v2M0 -102.9h-2M101.2 0v2M0 -108.9h-2M106.9 0v2M0 -115h-2M112.5 0v3.2M0 -121h-3.2M118.1 0v2M0 -127.1h-2M123.7 0v2M0 -133.1h-2M129.4 0v2M0 -139.2h-2M135 0v2M0 -145.2h-2M140.6 0v3.2M0 -151.3h-3.2" stroke="#000" stroke-width="1.1" fill="none"/>
<text transform="translate(0 10.5) scale(0.88 1)" text-anchor="middle" class="tk">0</text>
<text transform="translate(-5.4 0) rotate(-90) scale(0.88 1)" text-anchor="middle" class="tk">0</text>
<text transform="translate(28.1 10.5) scale(0.88 1)" text-anchor="middle" class="tk">200</text>
<text transform="translate(-5.4 -30.3) rotate(-90) scale(0.88 1)" text-anchor="middle" class="tk">200</text>
<text transform="translate(56.2 10.5) scale(0.88 1)" text-anchor="middle" class="tk">400</text>
<text transform="translate(-5.4 -60.5) rotate(-90) scale(0.88 1)" text-anchor="middle" class="tk">400</text>
<text transform="translate(84.4 10.5) scale(0.88 1)" text-anchor="middle" class="tk">600</text>
<text transform="translate(-5.4 -90.8) rotate(-90) scale(0.88 1)" text-anchor="middle" class="tk">600</text>
<text transform="translate(112.5 10.5) scale(0.88 1)" text-anchor="middle" class="tk">800</text>
<text transform="translate(-5.4 -121) rotate(-90) scale(0.88 1)" text-anchor="middle" class="tk">800</text>
<text transform="translate(139.4 10.5) scale(0.88 1)" text-anchor="middle" class="tk">1000</text>
<text transform="translate(-5.4 -151.3) rotate(-90) scale(0.88 1)" text-anchor="middle" class="tk">1000</text>
</g>
<path d="M198.5 133.2h0M200.4 138.9h0M197.7 139.4h0M200.6 125.2h0M198.4 157.1h0M199.5 156.5h0M198.7 156.7h0M199.6 151h0M200.5 137h0M199.9 128.8h0M197.8 130h0M198.9 121.6h0M199.4 135.7h0M201.4 119.5h0M198.6 140.9h0M198.7 142.4h0M198.3 134.4h0M199.1 133.7h0M200 137.8h0M198.1 146h0M200.8 134.2h0M200.7 155.2h0M200.1 129.1h0M199.9 132.1h0M202 131.6h0M198 138.2h0M198.6 141.9h0M201.7 142.4h0M197.8 137h0M199.6 155h0M199 120.2h0M198.1 142.8h0M198.1 140.5h0M199 125.3h0M199.5 124.1h0M199.8 139.6h0M199.9 150.1h0M199.3 143h0M199.2 138.1h0M199.9 135h0M198.5 134.5h0M197.7 136.2h0M200.2 144.5h0M199.8 143.8h0M200.7 130.5h0M197.8 146h0M198.2 121.1h0M199.6 141.7h0M198.1 134.3h0M200.4 138.9h0M199.9 125.1h0M198.1 129h0M200.1 136.8h0M197.5 134.7h0M198.7 134.2h0M199.5 129.5h0M200.7 141.8h0M200.1 148.8h0M200.9 127.4h0M197.5 142.9h0M202.9 130.8h0M198.2 142.3h0M199.5 149.7h0M201 139.7h0M199.8 136.9h0M200.6 126.8h0M197.8 151.4h0M197.9 156.6h0M198.7 119.7h0M198.5 145.2h0M199.3 136.8h0M198.8 126.1h0M197.8 157.5h0M199.5 143.8h0M197.6 161.4h0M198.4 131.4h0M199.6 133.6h0M198.2 124.4h0M199.2 139.4h0M200 120.9h0M200.9 133.9h0M200.6 149h0M200.2 143.1h0M199.8 147.9h0M197.7 141.3h0M198.2 147.3h0M198.2 138.4h0M198.6 126.4h0M199 143.7h0M198.1 139h0M198.7 131.1h0M200.5 126.3h0M198.7 151.4h0M198.9 130.5h0M199 142.5h0M198.8 145.2h0M201.7 138.8h0M200.3 122.3h0M201.2 147.9h0M198.5 138.2h0M200.1 122.9h0M199.5 149.3h0M199.1 137.7h0M198.2 120.9h0M199.4 111.5h0M200.3 131.2h0M202.4 138.4h0M200.9 138.6h0M199.4 142.7h0M198.3 141.7h0M198.5 128.5h0M198.9 146.9h0M200.5 139.4h0M200 136h0M198.2 143.1h0M199.8 129.8h0M199.4 130.4h0M201.5 135.4h0M197.5 130.6h0M199 154.2h0M198.1 142.2h0M199.1 146h0M198.1 154.3h0M199 160.1h0M198.5 130.7h0M198.1 156.4h0M199 134.7h0M198.5 137.3h0M198.1 141.9h0M198.9 140h0M199.2 138.7h0M199.5 141.7h0M198.7 117.1h0M200.5 122.9h0M197.5 127.3h0M199.3 141.8h0M198.6 140.6h0M200.4 141.8h0M200.6 156.9h0M199.5 139h0M198.6 125.1h0M197.3 145.1h0M198.6 158h0M198.2 160h0M199.2 138.3h0M200.9 139h0M201.4 140.4h0M199.5 144.8h0M199.3 137.5h0M199 134.4h0M199.5 154.5h0M198.9 154.9h0M201.2 137.4h0M198.3 133.9h0M199.3 132.6h0M198.5 128h0M200.3 125.5h0M201.2 134.4h0M199.9 131h0M199.4 141.6h0M199.2 133.8h0M199.8 129.1h0M198.6 135.6h0M201.1 111.9h0M201.2 140.9h0M200.3 135.5h0M200.1 152.1h0M198.7 134.9h0M201.3 135.5h0M197.6 131.2h0M198.4 160.9h0M201.6 139.6h0M198.7 151.8h0M198.3 136.4h0M197.3 146.7h0M200.4 128.3h0M200.6 131.4h0M199.4 135.7h0M197.3 131.6h0M199.1 146.4h0M198.3 148.2h0M200.2 150h0M200.9 128.1h0M199.7 132.5h0M199.7 138h0M201 143.9h0M201.2 124.3h0M197.9 137.4h0M199.7 148.8h0M197.9 141h0M198.4 138.5h0M200.5 126.2h0M198 136.6h0M199 146h0M200.7 147.8h0M199.8 121.2h0M197.4 144.5h0M199.1 135.1h0M199 129.4h0M198.2 158.3h0M201.6 143.3h0M199.3 127.6h0M199.3 128.2h0M200.4 139.3h0M199.4 123.4h0M197.7 137.9h0M199.3 143.6h0M199.7 124.7h0M199.4 140.1h0M200.5 141.8h0M200.3 130.9h0M199.8 141.7h0M199.1 145.3h0M199.3 142.7h0M201.5 129.6h0M197.4 148.8h0M200.6 133.9h0M199.8 140h0M198.5 139.8h0M199.3 138.4h0M200 117.4h0M197.7 150.4h0M199.5 143.1h0M199.9 139.1h0M198.3 145.5h0M199.4 134h0M200.9 135.4h0M199.5 143.3h0M198.3 117.4h0M197.5 132.5h0M200.4 134.3h0M199.1 133.1h0M199.2 130.6h0M199 141h0M198.4 147h0M201.3 141.1h0M200.1 147.9h0M201 142h0M197.9 154.5h0M200 153.8h0M200 133h0M198 131.3h0M198.3 133.2h0M198.4 135.7h0M200.4 144.6h0M199.5 143.4h0M198.5 141.3h0M200.1 130.9h0M198.5 134.8h0M199.4 136.2h0M199.2 140.7h0M198.3 108.7h0M200.4 139.9h0M199.3 143.3h0M199.1 153h0M201 144.6h0M200.3 121.3h0M199.5 146.2h0M197.9 141.2h0M199.3 140.4h0M198 116.3h0M197.6 124.2h0M199.7 134.9h0M199.6 124.5h0M198.7 127.5h0M199.3 145.9h0M197.5 143.7h0M200.5 165.9h0M198.4 139.7h0M199.7 153.1h0M200 133.3h0M198.2 127.8h0M199.7 141.7h0M199.4 151.3h0M199.7 132.5h0M198.8 149.5h0M200.4 143.4h0M200.1 137.9h0M201 139h0M200.5 138.8h0M197.7 133.7h0M198.6 140.6h0M199.8 142.3h0M200.4 130h0M198.5 112.7h0M199.3 145h0M199.6 131.3h0M199.2 144.3h0M200.4 128.8h0M198.2 143.5h0M199.9 135.7h0M198.4 136.1h0M199.8 137.6h0M198.2 143.1h0M199 120.9h0M200.3 150.2h0M198.2 149.8h0M199.4 141.7h0M200 121.2h0M199.2 147.2h0M199 138.8h0M199.3 155.3h0M198.3 134.7h0M200.1 135.8h0M200.1 147.8h0M201.2 114.9h0M199.6 134.2h0M200.5 135.6h0M198.7 115.5h0M199.8 128.4h0M198.2 141.9h0M199.6 141.7h0M198.9 155.7h0M200.4 147.3h0M199.1 146.8h0M198.9 142.8h0M200 139h0M198.5 127.7h0M198.8 158h0M200.7 155.2h0M198.6 142.3h0M198.8 130.7h0M200.6 125.8h0M199.7 147.3h0M199.7 120.9h0M199.6 150h0M197.7 143.7h0M198.4 147.2h0M198.3 164h0M200 145.5h0M198.8 137.4h0M200.9 141h0M199.3 140.1h0M200 138.4h0M198.5 140.4h0M198.6 129.1h0M199.8 141.5h0M200.3 123.9h0M198.5 150.9h0M200.7 133.5h0M199 127h0M201 143.8h0M197.9 146.9h0M198.9 140.1h0M200 122.6h0M199.2 125.5h0M198.6 144.8h0M200 161.1h0M200.3 140.4h0M198.8 142.1h0M200.1 143.9h0M198.8 130.3h0M198.4 150.9h0M200.7 131h0M198.7 139.7h0M198.7 130.9h0M200.1 125.6h0M198.2 131.9h0M198.2 130.2h0M199 134.9h0M199.4 154.4h0M200.3 140.8h0M199.1 133.2h0M198.6 143.6h0M197.8 134.2h0M198.9 150.7h0M198.8 147.4h0M200.5 134h0M197.5 140h0M199 127.3h0M199.8 137h0M201.1 128h0M197.5 140.2h0M199.4 147.4h0M198.6 137.2h0M201.1 143.2h0M199.7 156.5h0M201 132.9h0M199.2 153.6h0M200.5 129.4h0M199.7 126.8h0M198.6 141.4h0M200.3 136.3h0M198.9 124.2h0M199.1 147.8h0M197.9 130.3h0M199.9 136.4h0M201 136.5h0M199.6 125.9h0M199.9 141.7h0M197.9 126.4h0M198.4 122.1h0M198.6 154.3h0M201.5 130.5h0M198.8 131.6h0M199.6 136.4h0M198.7 161.4h0M199.4 143.5h0M199.1 147.6h0M198.9 148.3h0M199.8 160.3h0M199.8 115.6h0M197.9 148.1h0M197.8 142.1h0M199.9 139.2h0M200.2 150.1h0M197.7 146.7h0M200 120.6h0M197.7 142.9h0M199.1 137.4h0M200.7 149h0M197.4 119.3h0M199.2 145.5h0M199 140.7h0M198 146.9h0M200.1 142.2h0M198.2 118.6h0M198.5 146.7h0M198 139.7h0M199.7 130.4h0M199.9 148h0M200.8 137.1h0M199 156.2h0M198.3 150.8h0M200.9 126h0M198.5 147.6h0M200 138.2h0M201.1 137h0M200.1 136.6h0M198.1 131.8h0M198.3 144.2h0M200.2 122.3h0M198.4 143.1h0M200.1 125.2h0M199.5 125.7h0M199.4 138.3h0M199.2 127.5h0M198.4 151h0M200.8 126.3h0M199.4 155.3h0M200.9 145.8h0M198.2 140.9h0M197.3 147.2h0M200.8 139.7h0M197.9 164.4h0M199.3 144h0M198.8 133.4h0M199 143.1h0M198.8 135.9h0M198 139.4h0M197.8 134.2h0M199.5 133.3h0M198.4 148.4h0M201.2 136.8h0M199.3 146.8h0M200.8 134.4h0M198.7 138.6h0M200.1 133.4h0M198.5 152.9h0M198.1 156.9h0M198.9 138.4h0M199 148.5h0M202.2 121.6h0M197.7 127.4h0M198.5 147.3h0M200 120.5h0M199 167.9h0M199.4 149.3h0M200.1 156.1h0M199 138.4h0M198.4 126h0M197.6 131.4h0M199.1 130.2h0M199.8 147.3h0M199.4 128.3h0M200.5 129.6h0M198.7 155.7h0M199.5 126.3h0M198.2 133.5h0M199.8 164.4h0M198.7 122.7h0M199.9 113.5h0M198.5 132.6h0M197.4 143h0M198.1 139.7h0M198.8 133.7h0M198.4 126.6h0M198.9 148.3h0M199.8 133.3h0M199.2 132.5h0M199.7 139.2h0M199 154.4h0M198.4 141.8h0M198.1 167.1h0M199.8 145h0M200.4 115.9h0M198 133.5h0M198.1 140h0M198.2 132.9h0M199.6 130.8h0M199.3 133.4h0M198.9 129.4h0M199.1 133.7h0M199 143.3h0M198.9 128.3h0M199.7 136.7h0M198.4 131.7h0M198.6 149.4h0M199.4 157.2h0M202.2 138.6h0M198.5 144.3h0M201.5 134.4h0M198.1 145.4h0M199.2 137.2h0M198.1 127.1h0M200.7 150.9h0M199.3 162.7h0M199.4 145.7h0M200.3 138.3h0M200.7 143h0M198.4 157.6h0M199.5 134.3h0M198.6 147.7h0M200.5 140.1h0M201.7 133.5h0M198.9 145.6h0M199.5 138h0M198.2 127.3h0M199.2 142.1h0M199.3 141.2h0M200.4 144.1h0M199.6 139.6h0M200.5 149.8h0M197.7 146h0M200 167.7h0M200.1 144h0M198.6 167.8h0M199.4 126.8h0M198.6 145.2h0M201 136.6h0M198.9 153.6h0M200 147.5h0M199.6 148h0M199.4 131.4h0M197.8 140.8h0M198.4 149.5h0M199.3 133.8h0M199.1 140.1h0M199.1 152.7h0M200.1 138.7h0M199.2 142.4h0M200 152h0M199.3 144.6h0M199.6 124.3h0M198.6 141.8h0M197.5 141.8h0M200.2 142.7h0M200.2 163.1h0M199.9 151.3h0M198.3 142.4h0M200.4 131.9h0M199.3 148.8h0M199.4 141.8h0M198.4 154.5h0M198.6 143.9h0M198.5 151.2h0M199.6 131.2h0M198.4 138.9h0M199.2 140.6h0M198.6 132h0M197.7 145.4h0M199.2 136h0M199.3 136.1h0M199.3 132.6h0M200.4 121.8h0M199.2 149.4h0M198.1 145.2h0M201.4 144h0M199.2 153.1h0M200 142.1h0M199.3 136.7h0M200.5 134.7h0M197.9 142.8h0M200.4 116.2h0M199 134.3h0M198.2 140.5h0M198.6 145.8h0M198 150.9h0M199.2 133.9h0M197.9 135h0M200 141.2h0M198.6 131.9h0M198.7 136h0M201.4 138.2h0M200.1 118h0M198.4 123.7h0M199.6 143.5h0M197.3 133.7h0M198.3 148.1h0M199 134.6h0M198.3 129.4h0M198 146.9h0M199.9 136h0M198.5 143.9h0M198.3 133.2h0M198.5 131.6h0M198.4 136.6h0M200.1 130.3h0M199.5 137.1h0M197.5 130.3h0M200.7 141.5h0M200.4 146.3h0M198.9 144.4h0M198.1 127h0M199.2 152.1h0M198.5 121.6h0M199.8 140.9h0M199.1 140.3h0M200.6 145.9h0M197.3 133.9h0M198.5 134.6h0M199.5 151h0M198.6 151.5h0M198.7 129h0M197.9 137.5h0M201.3 129h0M199 112.3h0M200 150.3h0M198.3 133.1h0M198.6 140.3h0M199.1 141.9h0M201 124.1h0M200.7 147.2h0M201.5 130.1h0M200.9 122.4h0M200.9 141.1h0M198.9 141.1h0M198.4 134.2h0M200.7 137.2h0M198.4 157.5h0M199.8 145.9h0M198.5 139.9h0M198 136.5h0M199.2 158.3h0M198.2 135.6h0M198.8 119.1h0M200.2 151h0M199 134.2h0M200.3 115.5h0M198.7 125h0M199.6 124.6h0M198 117.3h0M200.7 129.9h0M199.5 155.9h0M199.8 137.7h0M197.3 139.1h0M197.5 142.7h0M199.1 149.6h0M198.9 153.1h0M198.8 119.1h0M199.9 123.1h0M201.7 136.6h0M198 160.2h0M199.6 133.6h0M199.2 150.4h0M200.4 132.2h0M197.3 138.1h0M198 154.8h0M197.9 135.3h0M199.4 139.7h0M198.6 143.1h0M198.3 140.6h0M197.3 150.2h0M198.3 157.7h0M198.9 147.7h0M198.3 136.1h0M200.5 136.6h0M201.7 139.9h0M199.7 136h0M197.4 129.2h0M200.8 128h0M201.5 131.3h0M199 118.9h0M199.6 169.3h0M200.4 147.1h0M199.4 133.2h0M200.6 130.2h0M199.8 151.5h0M198.5 125.2h0M198.6 129.1h0M198.9 150.4h0M198.4 139.2h0M200.6 146.1h0M199.5 140.1h0M198.9 139.5h0M200.1 131.7h0M199.2 144.3h0M200.3 140.7h0M201 140.1h0M199.4 134.7h0M198.5 152.5h0M197.8 141.3h0M201.1 143.8h0M199.6 126.7h0M198.5 122.6h0M199.1 147.1h0M197.9 133.6h0M200.7 129.1h0M199.5 142.8h0M198.7 153.6h0M197.5 137.9h0M201.5 134.1h0M199.3 143.8h0M198.5 140.6h0M199.1 120.4h0M199.3 147.2h0M197.9 132.3h0M200.5 160h0M199.8 131.5h0M199.2 141.6h0M198.4 139.4h0M198.6 166h0M198.9 136.9h0M197.8 151.3h0M199.5 139.1h0M200 134.9h0M198.6 147.8h0M198.7 143.3h0M199.1 137.5h0M201 127.5h0M200.8 142.4h0M198.6 138.5h0M202 143.4h0M198.8 133.6h0M199.7 124h0M200.6 132h0M198.8 120.1h0M199.3 146.6h0M199.8 140.5h0M199.1 143.9h0M199.1 139.3h0M200.8 154.3h0M199 154h0M200.6 150.3h0M198.5 111.9h0M198.8 130.2h0M200 139.8h0M199.7 148.2h0M200.3 109.7h0M199.2 156h0M199.1 143h0M198.6 156.7h0M197.4 128.8h0M198.7 131.8h0M200.3 127.4h0M199.1 132.9h0M199.4 131h0M200.6 119.8h0M198.1 154h0M199.6 144.7h0M198.5 131.3h0M200.4 116.6h0M197.5 153h0M198.8 115.7h0M198.6 128.2h0M198.8 126.3h0M198.5 132.1h0M201.3 142.2h0M198.9 148.5h0M199 142.7h0M197.6 128.5h0M197.7 154.3h0M198.3 152.5h0M197.8 148.7h0M199.7 163.6h0M198.5 128.6h0M198.7 131.6h0M199 131.1h0M198.1 133.6h0M197.8 147.3h0M198.4 142.1h0M199.4 134.7h0M199 151.4h0M198.2 139.2h0M200.9 131.7h0M199.6 132.2h0M199.9 124.7h0M200.9 135.1h0M198.1 130.9h0M200.2 136.9h0M199.5 142.8h0M199.5 143.6h0M197.5 135.9h0M198.3 159.8h0M199.2 126.9h0M199.1 146.5h0M200.9 137.7h0M198.7 142.4h0M199.4 131.6h0M198.8 131.1h0M197.7 147h0M198.8 121.2h0M199.3 140.3h0M201.1 121.9h0M200.6 118.5h0M198.6 140.3h0M198.2 133.9h0M199.1 159.4h0M198.5 121.1h0M201.9 138h0M200.1 139.2h0M199.1 140.8h0M198.6 134.6h0M198 123.1h0M199.1 146.8h0M198.7 143.4h0M198.7 142.3h0M200.9 150h0M200.2 145.4h0M198.8 132.7h0M200 148.8h0M198.4 130.6h0M199.6 142.7h0M200.1 127.6h0M202 134.7h0M198.3 148.1h0M199 135.9h0M199.1 149.1h0M198.5 134.6h0M199.1 156.6h0M199.2 137.3h0M198.8 166.7h0M199.5 138.3h0M197.6 128.7h0M199.1 134.7h0M200.3 158.7h0M197.8 127.2h0M199 122.7h0M199.4 141.9h0M199.1 152.3h0M198.7 135.5h0M199.2 130h0M199.9 136h0M198.1 137.8h0M199 151h0M200 158h0M198.5 138.1h0M197.9 131.6h0M200 125.6h0M200 120.1h0M200.3 137.2h0M199.2 122.6h0M198.5 147.1h0M200.9 135h0M200.6 130.3h0M200.1 153.2h0M198.6 121.2h0M199.3 148.3h0M198.2 141h0M198 142.7h0M199.3 138.7h0M199.6 126.7h0M199.8 144.7h0M199.3 151.4h0M201.5 115.6h0M198.1 141h0M200.7 136.3h0M198.7 136.2h0M200.2 142.2h0M198.2 137.7h0M201.6 132.4h0M200.8 150h0M197.4 130.3h0M200.7 133.2h0M199.4 134.2h0M200.2 129.5h0M199.2 133.3h0M199.1 153.7h0M197.7 131.4h0M198.7 165.6h0M199.2 122.2h0M197.4 114.9h0M198.1 132.4h0M199.2 125.3h0M199.7 151.4h0M198.7 144h0M200.8 126h0M198.7 137.1h0M199.9 134.7h0M200.7 165h0M198.4 141h0M200.5 140.3h0M199.1 144.4h0M198.3 141.9h0M201 137h0M201.1 127.9h0M198.9 139.9h0M200.4 139.7h0M200.3 123.5h0M199.2 139.5h0M201.7 123.2h0M199.1 121.1h0M198.5 138.5h0M199.3 144h0M199.1 148.6h0M198.8 133.1h0M198.9 123.4h0M197.8 130.5h0M199.9 135.2h0M197.7 138.8h0M200.5 142.4h0M200 135.9h0M198.8 150.1h0M198.8 132.2h0M198.5 144.2h0M199.3 145.3h0M201.2 140.9h0M199.6 143.9h0M198.8 127.5h0M201.2 146.1h0M198.8 133.6h0M198.9 137h0M201.6 125.7h0M200 141.8h0M200.6 132.7h0M200 130.8h0M199.9 145.3h0M200 129.9h0M200.1 141.7h0M201.7 138.3h0M198 145.4h0M199 126.2h0M197.6 141.7h0M199.4 142.4h0M197.9 159.6h0M199.3 158.3h0M200.5 146.9h0M198.7 149.6h0M198.4 112.4h0M200.1 132.3h0M198.4 128h0M199.2 145.2h0M199.1 144.6h0M197.8 145.8h0M200.3 144h0M198 143.7h0M200.3 136.7h0M199.7 132.2h0M198.1 147.4h0M198.9 139.2h0M200.2 149.2h0M198.9 134.4h0M201.7 133.7h0M198.2 131.5h0M200.6 144.6h0M197.4 131.8h0M199 114.1h0M200.4 129.3h0M199.6 138.5h0M198 136.2h0M197.8 153.6h0M198.4 143h0M198.6 149.7h0M198.7 154.1h0M198.6 150.6h0M198.3 149.5h0M200.8 142.2h0M201.6 135.7h0M199.8 146.7h0M198.9 133.1h0M198.1 147h0M199.6 133.4h0M199.6 146.6h0M198.2 152.9h0M199 152.2h0M200.1 134h0M199.6 152.7h0M199.2 121h0M199.4 140.7h0M198.4 124.8h0M199.2 139.3h0M199.3 126.5h0M198.4 139.4h0M199.1 131.7h0M200.3 151.6h0M200.4 160.9h0M197.6 151.5h0M200.4 143.1h0M199.7 137.8h0M199.7 136.4h0M197.7 128.3h0M199.3 130.8h0M199.9 147h0M199.7 134.4h0M198.4 144h0M198.6 130.4h0M199.6 163.1h0M199.4 153.4h0M200.7 137h0M198.6 145.3h0M200.6 149.6h0M198 138.9h0M199.4 134.5h0M200.8 152.9h0M198.1 148.2h0M199.6 147.8h0M201.4 148h0M197.8 142.1h0M200.4 142.4h0M198.7 121.5h0M199.2 140.4h0M199.3 151.2h0M200.6 135.8h0M198.9 159.4h0M200.4 134.8h0M200.1 127.8h0M199.2 145.6h0M200.4 136.6h0M199.6 145.6h0M199.1 132.8h0M202.6 142.1h0M197.9 143.3h0M198.1 150.5h0M198.8 131.8h0M199.4 137.5h0M199 151.3h0M201.8 150h0M198.6 147.5h0M198 128.9h0M199.2 141.6h0M198.7 135.7h0M198.7 136.6h0M200.3 122.3h0M199.6 117.2h0M200.5 148.6h0M198 149h0M199.9 123.6h0M199.2 135.7h0M198.5 140.6h0M197.4 134.9h0M199.1 144.7h0M197.9 136.5h0M200 124.1h0M199.7 134.5h0M199.8 143.5h0M202.4 126.8h0M200.7 145.9h0M199.9 145.1h0M199.5 145h0M199.5 138.1h0M198.7 145.5h0M200.3 130.7h0M197.7 133.3h0M199.9 153.8h0M199.4 149.9h0M200.3 127.1h0M198.8 137.3h0M198.6 132.2h0M200.1 126h0M199.4 135.5h0M200.3 138.7h0M198 137.6h0M200.2 115.6h0M199.4 161.8h0M199.9 126.4h0M200.4 138.2h0M198.1 148.7h0M200 140.3h0M199.1 147.8h0M198.9 115h0M199.2 129.9h0M198.6 132.5h0M199.3 124.9h0M199.5 122.2h0M198.5 148.8h0M200.4 124.5h0M199.3 150.3h0M198 149.5h0M199.7 134.9h0M199.8 123.9h0M197.6 134.3h0M199.5 131.2h0M198.8 132.5h0M199.5 130.6h0M199 139.6h0M199.6 135.5h0M199.4 138.2h0M199.3 151.6h0M199.8 159.3h0M200 138.4h0M200.6 136.8h0M199.6 136.9h0M200.7 147.6h0M200.2 145.3h0M198.7 140.6h0M198.4 138.2h0M200.7 143.6h0M200 149.1h0M198 144.5h0M200.5 118.9h0M199.4 131.8h0M199.7 122h0M200.3 122.2h0M200 140.9h0M199.2 118.5h0M199 135.8h0M198.6 161.2h0M198.6 143.1h0M199.5 157h0M202.1 152.6h0M202.1 128.4h0M199 137.1h0M197.5 144.4h0M199.1 150.6h0M198.9 154.2h0M198.9 147.4h0M197.3 144.2h0M199.1 128.1h0M198.5 150.6h0M199.3 132.9h0M197.5 150.9h0M199.2 152.9h0M197.8 125.2h0M198.3 160.9h0M198.5 137.7h0M198.6 150.9h0M198.6 149.5h0M198.6 159h0M198.5 152.1h0M198.4 156.9h0M198.6 148.5h0M198.8 131.3h0M201.3 135.2h0M200.3 145.4h0M198.5 149.7h0M197.7 142.1h0M200.5 130.5h0M199.2 126h0M199.6 139.7h0M200.5 169.3h0M198.5 134.7h0M199.4 145.3h0M200.8 145.3h0M199.1 140.6h0M199.3 118.1h0M199.2 132.1h0M199.2 132.6h0M199.4 145.5h0M198.6 133.2h0M198.4 137.5h0M198.8 128h0M199.9 132.7h0M200.5 161h0M199.4 147.7h0M198.9 143.9h0M200.6 129.1h0M199.8 125.8h0M200 149.1h0M199.1 139.2h0M198.7 145.8h0M199.8 141.8h0M199 140.7h0M200.5 112.1h0M198.2 149.6h0M199.6 157.3h0M199.2 140h0M198.1 138.5h0M198.8 141.9h0M198 137.7h0M198.8 120.5h0M198.9 135.8h0M202.2 136.4h0M198 151.4h0M199.9 128.3h0M198.7 136.4h0M199.6 139.1h0M198.8 144.5h0M198.3 160.4h0M200.8 144.5h0M200.5 145h0M199 156.2h0M198.8 121.7h0M197.4 155.1h0M199.4 148.3h0M199.8 139.9h0M199.3 128.3h0M199.7 144.5h0M201.2 132.6h0M198.7 154h0M200.6 107.4h0M201.7 138h0M199 140.3h0M200.8 134.7h0M199.6 147.8h0M198.5 128h0M200.8 127.5h0M200.2 115.8h0M197.4 136.2h0M200.2 140.2h0M199 136.8h0M199.4 128.8h0M197.9 138.1h0M199.8 144.5h0M199.4 142.2h0M198.2 119.6h0M198.8 134.3h0M200.8 128.4h0M201 108.5h0M197.5 147h0M199.8 142h0M198.9 128.6h0M198.6 145.2h0M199.5 141.4h0M200.9 132.5h0M199.9 141.8h0M198.1 137.9h0M199.3 131.9h0M199.7 149.5h0M200.5 121.6h0M199.2 159.2h0M199.4 141.6h0M199.5 134.5h0M200 142.9h0M200.8 133.4h0M199.6 159.7h0M199.2 144.1h0M198 138.6h0M199.5 137.3h0M201.5 146.8h0M198.6 149.4h0M197.4 137.4h0M199.7 151.1h0M199.3 138.9h0M199.2 138.8h0M197.5 148.7h0M199.7 131h0M200 122.2h0M199.4 148.3h0M200.1 135.3h0M198.2 149.4h0M199.3 135.5h0M201.7 137.1h0M199.6 137.4h0M201.8 143.8h0M199.6 144h0M199 141.5h0M198.4 154.4h0M200.8 142h0M197.7 143.7h0M198.5 132.2h0M198.8 140.5h0M199.6 153h0M199.3 146.7h0M197.5 142.1h0M197.9 139.6h0M201.2 127.9h0M199.3 131.7h0M199.2 150.1h0M198.8 140h0M199.6 140h0M198.4 153.4h0M200.5 133.9h0M200.2 133.5h0M199.2 154.3h0M200.3 145h0M199.1 123.1h0M198.8 139.7h0M200.4 130.3h0M199.1 134.3h0M198.3 137.9h0M201.1 120.7h0M199 132.1h0M199.8 158h0M201 135.8h0M197.8 135.8h0M198.9 149.8h0M200.3 124.2h0M198.9 137.4h0M198.7 153.4h0M199.1 139.7h0M198.9 143.3h0M198.9 137.5h0M199.7 142.7h0M199.3 146.7h0M201.2 136h0M199.6 140.3h0M201.2 140.4h0M199.4 119.6h0M201.2 147.2h0M199.1 158.6h0M200.6 146.8h0M199.4 141.9h0M201.1 134.1h0M198.4 144.2h0M198.7 160.4h0M199.7 154.7h0M198.2 133.4h0M200.9 153.9h0M199.1 132.6h0M199.9 132.4h0M200.4 137.1h0M199.9 145.6h0M198.4 138.1h0M197.7 151.4h0M197.4 144.6h0M198.2 157h0M198.4 126.1h0M198.4 141.7h0M199.8 146.2h0M197.7 157.1h0M197.4 119.8h0M199.5 137.1h0M201.3 117.4h0M198.2 145.2h0M199.1 134.1h0M199.2 143.2h0M200.5 149.1h0M200.2 147.9h0M198.7 138.1h0M200.3 145.3h0M199.3 171.9h0M200.2 134h0M201.3 143.9h0M197.6 150.1h0M197.7 133h0M197.8 147.4h0M199.4 124.4h0M199.4 141.8h0M201.2 164.2h0M200.9 126.6h0M199.6 133.6h0M199.1 149.6h0M200 127.9h0M199.7 115.3h0M198.7 123.3h0M200 141.3h0M198.7 151.9h0M199.1 141h0M199.1 140.8h0M198.6 151.8h0M200.1 121.9h0M202.9 137.2h0M203.2 118.4h0M199.6 143h0M202.7 110.3h0M201.6 146.9h0M200 141.4h0M200.2 140.7h0M202.3 133.4h0M197.7 140.7h0M202.5 134.3h0M204.1 141.6h0M200.7 141.7h0M202.3 118.6h0M197.5 118.1h0M199.1 124.3h0M199.5 122h0M200.5 125.1h0M199.2 133.9h0M200 146.1h0M199.8 152.4h0M201.4 141.3h0M202.3 121.6h0M201.9 145.7h0M203 148.6h0M199.8 123.2h0M199.3 116.8h0M201.8 128.9h0M201.1 131.5h0M200.2 146.3h0M199.5 116.7h0M197.7 119.7h0M199 149.5h0M199.6 130.5h0M202.8 106.2h0M198.8 161.5h0M201 114.2h0M202.7 154h0M203.1 121.2h0M199.5 153.9h0M202.1 160.8h0M201.9 119.5h0M200.2 144.2h0M200.8 146.3h0M198.4 156.5h0M200.6 129.6h0M198.8 155.9h0M199.7 137h0M200.3 118.7h0M202 149.6h0M199.6 155.7h0M199.6 135.2h0M199.3 133.7h0M205.6 143h0M199.3 162.7h0M201.1 114.4h0M200.2 167.4h0M197.7 122.9h0M199 145.1h0M201.6 134.8h0M203.6 137.9h0M200.5 154.8h0M201.3 108.5h0M200.5 126.6h0M199.2 113.6h0M200.3 129.8h0M202.1 163.4h0M200.5 117.9h0M199.4 128.1h0M199.2 126h0M201.1 140.6h0M199.5 130.4h0M202 121h0M201.7 131.2h0M198.5 116.6h0M200 96.5h0M204.4 150.2h0M202.2 135.3h0M199.1 126.2h0M199.3 133h0M201.9 145.2h0M202 119.7h0M200.1 135.4h0M201.6 125.2h0M199.3 155.3h0M202.3 110.7h0M199.1 158.2h0M201.3 114.9h0M199.8 122.5h0M199.6 115.8h0M198.3 99h0M201.7 132.1h0M201.8 144.4h0M202.7 137.8h0M201.5 113.9h0M201 125.6h0M199.1 162h0M200.2 131.7h0M201 119.2h0M197.8 131.9h0M199.8 105.1h0M201.8 119.7h0M203 147.2h0M203.6 129.3h0M198.6 134.4h0M200.3 144.9h0M199.1 123.1h0M198.5 112h0M199.4 135h0M200.4 124.4h0M201.8 133.3h0M199.9 122.9h0M198.1 113.7h0M202.9 137h0M203.6 163.1h0M199.2 115.8h0M198.7 154.4h0M201.4 144.7h0M202 122.9h0M198.1 120.1h0M199.2 144.1h0M200.6 128.7h0M198 132h0M203.1 125.1h0M200.2 165.4h0M200.2 108.9h0M197.7 143.7h0M202.6 163.3h0M197.4 139.7h0M198.6 170.4h0M198.9 136h0M199.8 137.9h0M198.5 124.7h0M201.3 134.6h0M200 144.3h0M200.3 124.2h0M202 141h0M201 151.9h0M202.1 114.8h0M200.1 133.1h0M198.3 142.9h0M203.4 120.9h0M197.3 157.1h0M197.8 128h0M204.8 135.3h0M200.2 125h0M202.3 131.5h0M197.9 134.6h0M200.7 137.5h0M199.1 128.9h0M200.3 154.2h0M201.3 149.3h0M200.3 125.2h0M200.3 144.1h0M199.7 128.3h0M200.7 157.1h0M198.2 133.7h0M200.6 147.9h0M201.9 99h0M199.7 157.9h0M199.9 146.1h0M203.8 146h0M202.4 136.9h0M204.7 147.4h0M203.9 150.5h0M199.4 147.6h0M198.7 132.4h0M199.5 133.5h0M201.9 134.9h0M200.2 122.3h0M202.5 113.4h0M200.2 134h0M200.8 120.4h0M199.6 130.2h0M202 112.3h0M199.5 129.4h0M201.1 131.1h0M200.2 170.3h0M204 131.2h0M201.1 151.6h0M201 142.9h0M199.9 140.6h0M198.5 132.1h0M200.9 145.3h0M202.3 142.3h0M200.1 113.2h0M198.6 133.6h0M204 107h0M199 124.1h0M200.5 146.6h0M199 134.6h0M198.4 156.5h0M201.7 147h0M201.4 109.8h0M201.2 117.2h0M202.2 139.5h0M199.1 122h0M203.5 122.8h0M199.6 140.7h0M202 129.4h0M204.4 121h0M199.1 113.9h0M200.9 167.8h0M199.9 113.4h0M200.4 128.4h0M200.7 152.5h0M200 134h0M200.1 120.2h0M201.5 116h0M197.5 156.1h0M198.6 149.1h0M199.1 104.9h0M197.4 115.4h0M200.8 145.1h0M199.2 162.2h0M198.4 128h0M197.4 153h0M198.3 111.1h0M201 107.8h0M197.6 117.3h0M201.9 141.9h0M201.4 137.7h0M200.7 146.5h0M198.6 163.5h0M202.2 127.1h0M198.6 140.8h0M198.7 107.4h0M200.9 134.1h0M202.2 158.6h0M200.6 138.5h0M198 157.2h0M201.3 121.4h0M197.6 139.7h0M200.7 136h0M203.1 117.8h0M197.7 145.7h0M200 129.7h0M200.3 127.1h0M198.6 128.5h0M198.5 145.2h0M203.2 130.7h0M198.2 143.8h0M199.2 131h0M202.7 128.7h0M201.5 129.3h0M200 159.3h0M197.5 135.4h0M199.9 136.4h0M205.8 125.6h0M201.3 148.7h0M202.2 140.1h0M199.2 151.1h0M198.9 142.6h0M203.5 151.8h0M199.5 144.2h0M199.9 134.3h0M199.1 119.6h0M202.3 153.4h0M198.9 135h0M198.8 133.9h0M199.1 142.1h0M199 129.8h0M203 122.3h0M197.6 156.7h0M199.4 108h0M201.1 144.5h0M199.2 122.9h0M199 136.4h0M203.9 121h0M201.6 136.3h0M207.6 130h0M200.2 141.3h0M203 148h0M201.8 137.7h0M197.7 144.7h0M199.9 149h0M199.7 130.4h0M198.1 143.6h0M198.2 125.6h0M198.1 145.9h0M199.7 138.7h0M203 119.2h0M204.6 114.3h0M199 138.7h0M197.8 109.1h0M199.8 127.1h0M200 80.2h0M199.8 137.3h0M198 117.3h0M197.7 125.5h0M200 72.4h0M213.9 139.2h0M203.4 128.8h0M209.1 133.9h0M200.9 137.7h0M199.9 119.7h0M198.5 128.1h0M204.7 121.8h0M206.6 144.6h0M198.3 147.6h0M199 148h0M200.2 115.2h0M209.9 120.5h0M205 148.8h0M198.6 149.7h0M206.7 125.6h0M204.5 144.2h0M198.2 128.4h0M206.7 142.7h0M201.1 126.7h0M207.4 120.3h0M203.4 146.7h0M197.9 99.8h0M199 124.6h0M209.3 145h0M203.9 138.2h0M204.4 98.4h0M199.6 148.8h0M199.9 149h0M200.2 129.4h0M197.6 107.4h0M200.9 131.4h0M201.4 144.2h0M201.5 123.5h0M198 136h0M198.9 149.5h0M198.4 145.5h0M199 135.2h0M200 120.6h0M208.8 143.2h0M206.7 128.6h0M212.2 129.1h0M199.8 132h0M208.9 146.1h0M201.3 147.2h0M197.8 147.6h0M202 90.7h0M208 147.2h0M197.8 135.3h0M200.2 135.1h0M198.2 134.5h0M197.6 131.9h0M209.4 132.7h0M211.8 122.5h0M200.8 149.9h0M201.2 122h0M197.9 115.9h0M205.2 143.9h0M199.9 134.3h0M198.3 137.1h0M202.7 148.8h0M200.2 135.9h0M202.3 142.1h0M200.4 149.4h0M199.2 148.1h0M207.2 145.3h0M203 145h0M203.7 144.9h0M217.2 128.2h0M201.4 125.6h0M199.2 148.2h0M200.9 148.9h0M198.7 143.6h0M202.3 144.5h0M201.2 140.8h0M202.1 148.6h0M212.1 148.4h0M200.1 147.5h0M209.4 148.3h0M209.9 95h0M205.4 135.6h0M200.3 142.6h0M199.8 128.8h0M204.3 149.7h0M219 126.6h0M233.8 149.9h0M207.8 147.6h0M198.9 117.6h0M198 149.3h0M200.6 143.3h0M197.8 125.8h0M206.7 144.5h0M199.9 129.2h0M207.8 145.3h0M199.9 120.4h0M203 147.6h0M203.2 108.3h0M200.3 118.6h0M198.3 38.3h0M199.8 147.3h0M206 127h0M199.9 124.6h0M203 146.3h0M198.1 111.4h0M199.3 134.5h0M202.2 125.4h0M204.5 132.8h0M199.1 156.4h0M198.2 164.4h0M199.2 161.9h0M197.9 166.3h0M204 159.2h0M198.9 159.2h0M198.4 155.6h0M199.8 158.9h0M198.5 169.5h0M198.8 161.5h0M198.3 161.7h0M201.3 171.6h0M197.5 162.4h0M197.7 163.2h0M199.2 167.7h0M197.5 156.7h0M200.7 170.7h0M199.6 164.2h0M201 159.1h0M198.1 171.5h0M199.9 170.3h0M198.5 154.8h0M198.2 163.9h0M199.2 161.3h0M198.3 150h0M200.1 159.6h0M203.7 165.2h0M202.7 167.2h0M198 170.6h0M200.9 161.4h0M200.2 154.7h0M202.3 164h0M200.6 156h0M207.4 156.9h0M197.7 152.2h0M198.3 163.3h0M198.1 152.8h0M198.3 171.8h0M201.7 167.3h0M200.5 167.1h0M197.9 166.6h0M203.9 154h0M200.1 151.3h0M202 165.1h0M198.8 156.5h0M198.2 164.4h0M201.3 163.8h0M197.9 164.3h0M198.3 156.7h0M199.2 171.1h0M197.7 171.8h0M197.6 159.4h0M198.7 158h0M198.3 155.6h0M198.3 161.2h0M202.4 158.6h0M203 169.2h0M198.5 157.6h0M203.2 170.1h0M201.4 164.8h0M202.7 157.6h0M198.8 164.8h0M199.1 152.6h0M197.5 169.8h0M205.6 163.5h0M198.5 167.9h0M198.6 156.3h0M200.6 163h0M198.6 154.3h0M197.6 152.5h0M198.7 153.3h0M198.4 159.4h0M197.8 165.3h0M205.6 166.2h0M197.8 154.7h0M198.1 166h0M201.8 159.5h0M200.6 155.5h0M198.4 150.5h0M197.8 156h0M199.1 164.1h0M198.2 157.3h0M197.9 156.3h0M201.7 169.4h0M198.9 164.9h0M204.7 156h0M204 163.2h0M200.4 158.5h0M198.7 154.7h0M198 166.7h0M200.2 157.1h0M198.2 171.4h0M197.8 150.8h0M198.6 153.4h0M200.4 159.4h0M199.1 167h0M200.2 153h0M197.9 159.3h0M197.6 159h0M202.3 150.4h0M202.2 156.3h0M200.3 150.4h0M200.5 154h0M202.6 165.1h0M198.8 168.1h0M197.7 161.7h0M202.5 159.3h0M199.7 158.2h0M201.2 161.5h0M202 155.1h0M197.9 150.4h0M198 167.4h0M198.6 156.7h0M204.9 162.4h0M198.5 161.1h0M197.9 155.8h0M198 159.8h0M199.5 154.1h0M200.2 154.5h0M202.6 160.9h0M199.6 168.5h0M199.8 156.6h0M198.2 164.4h0M198.9 157.4h0M206.1 160.7h0M197.5 152.1h0M203 158h0M204 171.8h0M198.8 165.4h0M201.7 160.7h0M197.7 154.3h0M199.5 154.2h0M198.6 164.5h0M197.9 156.2h0M200.9 155.5h0M200.1 155.4h0M197.8 166.8h0M198.3 151.1h0M199.6 159.8h0M200.8 156.7h0M199.6 158.9h0M198.2 156.6h0M199.5 166.9h0M197.7 160.4h0M198.5 166.9h0M202.3 153.1h0M199.1 161.9h0M203 155.2h0M197.5 160.2h0M202.5 171h0M261 168.2h0M305.4 168.1h0M261.1 168.9h0M255.5 170.9h0M336 163.9h0M249.4 170.7h0M278.6 168.9h0M283.1 169.1h0M239.3 169.6h0M233.9 168.5h0M231.5 170h0M223.5 166.6h0M251.2 165.6h0M242.5 171h0M239.4 169h0M256.2 169.7h0M256.6 162.4h0M223.5 167.5h0M232.8 168.4h0M228.8 169.5h0M223 170.1h0M299.6 166.7h0M258.5 169.8h0M254.6 170h0M290 170.2h0M239.6 169.4h0M220.5 171.3h0M262 169h0M238.6 169.5h0M294.4 169.3h0M268 170.3h0M229.4 169.2h0M220.4 166.2h0M293.5 169.4h0M281 169.5h0M220.2 167.2h0M273.8 168.8h0M237.7 169.4h0M268 169.3h0M251.5 169.5h0M224.2 170.2h0M233.7 170.4h0M313.6 168.4h0M221.8 170.2h0M245.6 170.2h0M249.8 171.1h0M227.3 163.5h0M247.7 168.7h0M268.7 168.1h0M236.3 170.6h0M272.9 168.8h0M215.8 167.7h0M256.8 169.7h0M263.4 168.7h0M248 169.1h0M215.5 168.8h0M239.9 169.9h0M286.7 169.7h0M248.5 169.6h0M336.1 167.2h0M235.4 167.8h0M230.2 170.4h0M255.2 171.1h0M240.6 169.4h0M290.8 166.9h0M218.1 169.9h0M291 167.5h0M268.8 170.6h0M278 169.6h0M241.8 169.6h0M285.7 169.2h0M267.7 170.1h0M219.1 169.1h0M233.7 171.1h0M250.4 167.3h0M233.9 170.4h0M285.3 170.9h0M244.7 170.3h0M268.1 169.3h0M280.6 166.8h0M257.1 169.1h0M237.8 169.9h0M222.9 168.9h0M240.8 169.4h0M246.7 169h0M234.4 167.7h0M236.2 170.3h0M256.6 170.6h0M232.5 168.8h0M333.7 168h0M281.4 169.5h0M244.4 168.3h0M237.1 168.5h0M248.8 168.3h0M271.8 167.8h0M218 168.6h0M281.4 167.4h0M243.6 170.4h0M227.7 171.1h0M292.6 167.8h0M236.7 167.1h0M252.4 169.8h0M246.6 168.4h0M221.4 168.7h0M227.2 168.7h0M319.2 168h0M243.8 166.8h0M269.3 170.1h0M304.1 167.8h0M239.3 166.7h0M269.4 169.1h0M269.2 169.2h0M233.3 168.5h0M233.9 169.6h0M254 167.9h0M226 168.4h0M254.8 171.1h0M278.8 169.3h0M247.7 170.1h0M252.1 170h0M237.6 170.2h0M300.2 166.8h0M262.1 169.1h0M257.1 169.9h0M253.1 170.5h0M271.2 170.7h0M226.7 170.9h0M287.9 169.5h0M228.4 170.3h0M238.2 168.9h0M225.2 170.4h0M335 165.6h0M252.9 170.6h0M243.4 169.6h0M263.1 165.7h0M269.8 167.9h0M232.8 170.1h0M323.4 167.2h0M250.4 167.9h0M235 169.4h0M230 169.2h0M246.7 166.3h0M309.8 166.4h0M286.3 168.3h0M268.9 167.7h0M248 170.7h0M280.7 170.4h0M272.4 170.1h0M227 165.7h0M225.4 168h0M248.3 170.3h0M314.3 168.8h0M247 167h0M266.5 168.2h0M224.3 166.8h0M338.2 165.6h0M272.3 168.7h0M235.5 170.3h0M214.4 170.7h0M254.2 169.4h0M237.1 169.9h0M266.8 169.4h0M232 170.5h0M259.8 168.4h0M248.8 170.1h0M218.9 165.9h0M260.5 170.4h0M277.6 169h0M243 168.7h0M306.7 165.8h0M296.8 167h0M241.8 170.6h0M249.9 170h0M332 163.2h0M271 170.1h0M228.9 169.1h0M248.6 169.7h0M234.2 170.1h0M244.7 168.7h0M213.5 169.9h0M308.9 164h0M240.3 170.3h0M273.2 169.7h0M328.2 164.6h0M251.8 169.7h0M309.3 168.9h0M270.9 169.2h0M231.5 169.3h0M266.5 171.1h0M212.7 165.4h0M308.5 167.4h0M234.6 171.3h0M231.6 169.5h0M255.6 168.4h0M324.3 162.6h0M270.7 170.6h0M322.3 167.6h0M269.4 170.6h0M271.6 168.3h0M247.8 170.2h0M311.3 165.9h0M273.9 168.9h0M254.9 170.1h0M245.2 167.8h0M299.6 165.4h0M242.7 170.5h0M269.9 169.5h0M234.7 168.6h0M291.8 169.1h0M282.9 167h0M237.8 171.1h0M286.1 170h0M212.8 168.7h0M232.5 170.7h0M291.9 169.2h0M229 169.3h0M285 168.4h0M233.1 170.2h0M218.7 168.6h0M251.3 169.9h0M235.1 168.7h0M290.8 168.3h0M294.1 169.1h0M242.2 169.6h0M253.9 167.3h0M307 165.7h0M323.6 166h0M231.1 166.8h0M224.1 169.8h0M319.3 164.6h0M326.2 162.9h0M217.1 169.8h0M234.5 168.1h0M244.8 169h0M230.5 169h0M292.9 168.9h0M264.4 167.7h0M249.3 167.8h0M296.8 169h0M277.7 170.3h0M278.7 170.1h0M250.6 170.6h0M230.5 169.8h0M333.3 165.3h0M246.3 171h0M232.8 167.9h0M250.4 169.5h0M227.4 165.7h0M226.8 169h0M260.6 170.1h0M217 171.2h0M254.2 170.1h0M250.2 167.3h0M253.6 169.8h0M321.1 166.6h0M238.7 170.5h0M246.9 169.5h0M252.4 171h0M225.6 170.2h0M251.2 169.2h0M321.8 164.7h0M251.8 169.8h0M240.3 167.9h0M311.3 163.9h0M243.6 168h0M222.6 169.4h0M265.7 170.5h0M336 164.2h0M263.4 171h0M256.6 170.1h0M246.2 167.1h0M246.5 169.4h0M231.3 170.1h0M278.2 167.9h0M236.4 169.5h0M278.5 167.9h0M253.8 170.5h0M227.2 170.7h0M286.2 168.2h0M266.6 166.4h0M242.5 168.6h0M329.1 162.8h0M273.4 170.1h0M265.5 168.8h0M234.3 168.7h0M252 168.7h0M260.6 170.4h0M292.6 168.6h0M293.2 168.7h0M282.3 167.4h0M235.6 169.1h0M224.3 170.8h0M246.6 170.8h0M259.7 171.2h0M245.3 168.7h0M242.7 170.3h0M250.7 168.8h0M293.6 167.1h0M235.2 168.8h0M241.6 168.4h0M261.8 166.6h0M260.8 167.3h0M282.8 168.7h0M258.1 167.8h0M221.5 169.9h0M240.3 170.6h0M222.5 169.2h0M238.9 170.2h0M279.7 170.6h0M285.7 170.3h0M252.2 166.7h0M251 170.8h0M251.7 170.3h0M247.7 171h0M263.6 167.9h0M262.9 170.6h0M232 169.3h0M307.5 163.5h0M264.9 167.6h0M270.2 168.6h0M284.8 168h0M229 169.5h0M221.7 169.7h0M248.9 167.8h0M224.7 170.3h0M275.1 168.7h0M225.9 168.9h0M241.3 168.5h0M233.7 168.2h0M283.9 168.2h0M306.5 167h0M236.7 168.5h0M247.2 168.8h0M229.6 169.9h0M234.2 170.7h0M235.7 167.4h0M244.1 168.4h0M326.7 167.4h0M315.7 164.4h0M214 169.3h0M222.9 169.3h0M239.9 170.9h0M308.6 167.8h0M230.5 165.8h0M232.4 169.5h0M289 170.6h0M278 168.9h0M264.7 169.7h0M238.9 168.5h0M258.8 170.8h0M271.8 170.4h0M238.3 170.4h0M256.3 167.8h0M224.1 171h0M253.2 168.4h0M239.9 170h0M231.8 171h0M283.2 167.2h0M246.2 169.4h0M235.6 169.3h0M239.3 168.2h0M245.6 170.1h0M259.5 169.4h0M240 164.3h0M273.1 169.1h0M276.1 170.8h0M256.4 170.5h0M229.1 169.8h0M231.1 171.3h0M248.7 171h0M243.2 168.8h0M336.5 164.7h0M240 169h0M295.7 167.7h0M225.2 170h0M224.2 169.1h0M255 170h0M219.2 170.2h0M260.4 169.9h0M258.5 166.5h0M236.9 170.6h0M283.2 169.7h0M286.8 168.1h0M224.3 170.2h0M312.2 167.7h0M237.6 167.9h0M308.8 168.7h0M231.6 167.7h0M289.3 168.8h0M243.7 170h0M300.5 164.8h0M287.3 168.9h0M239 169.5h0M271.3 166.9h0M237.2 168.2h0M296.5 167.9h0M251.7 168.7h0M224.2 169.4h0M246 169.7h0M254.5 170.8h0M226.5 167.4h0M234 169h0M304.6 169.2h0M279.9 170.8h0M239.2 170.1h0M253.1 167.5h0M275.9 169.6h0M269.2 168.2h0M259.5 169.1h0M234.6 169.1h0M270.6 168.6h0M256.8 168.5h0M248.1 170.1h0M240 169.2h0M251.2 170.3h0M247 169.4h0M263.6 169.4h0M261.1 170.3h0M249.3 168.9h0M214.8 170.1h0M250.3 169.4h0M248.9 168.3h0M253.2 169.9h0M247.9 171h0M315.5 167.9h0M268.2 169.6h0M319.6 166.3h0M250.4 171h0M274.1 169.4h0M261.9 169.5h0M258.4 170.1h0M285.3 168.6h0M232.7 170.6h0M339.7 166.6h0M275.6 170.3h0M252.6 171h0M243.2 169.5h0M297.5 168.9h0M245.9 170.1h0M217.3 168.3h0M248.2 168.5h0M229.4 170.1h0M248.9 170.1h0M263.1 168.7h0M265.5 167.9h0M311.6 167.6h0M319.5 161.9h0M236.8 169.1h0M235.7 169.9h0M274.7 170.2h0M219 169.1h0M269.8 167.3h0M295.2 167.5h0M273.3 168.2h0M242.3 170h0M282.8 170.8h0M276.7 170.8h0M224.1 170.5h0M217.3 169.4h0M303.4 169.2h0M260.3 170.9h0M229.5 169.7h0M236.4 167.9h0M222 170.7h0M294.6 167.9h0M280.3 169.5h0M276.3 170.3h0M256.6 168.5h0M285.3 166.1h0M215.2 167.2h0M236.4 168.1h0M259.3 168h0M270.3 168.4h0M240.7 169.5h0M269.8 168h0M232.3 169.4h0M292.7 167.5h0M262.1 161.5h0M221 169.9h0M231 169.7h0M242.8 169.9h0M303 168.3h0M235.6 170.4h0M256.7 170.4h0M289.3 167.2h0M255.1 170.8h0M225.4 171.1h0M303.8 169.2h0M223.3 168.6h0M266.7 170h0M301.3 165.7h0M266.3 170h0M253.3 168h0M272.6 167.5h0M247.1 169.8h0M287.5 168.3h0M261.8 168.6h0M306.4 168.8h0M247.5 167.5h0M242.8 169.2h0M267.5 168.6h0M244.6 169.8h0M303.1 167.8h0M279.1 169.7h0M247.2 168.3h0M257.3 169.5h0M289.2 169.4h0M222.8 164.9h0M231.6 167.5h0M258.3 170.2h0M232.2 170.6h0M226.8 168.3h0M293.7 169.6h0M241 168.3h0M248.6 169.5h0M255.6 168.5h0M236.6 170h0M293.5 166.7h0M273.1 165.7h0M262.4 167.7h0M251.8 169h0M282.4 168.2h0M226.1 171.3h0M222.2 169.2h0M227 169.5h0M219.9 168.7h0M237.7 169h0M220.9 170.1h0M221.2 170.6h0M231.9 168h0M233.5 169.7h0M249.6 169.4h0M223.1 167.1h0M252.5 166.9h0M236 168.8h0M296.2 167.5h0M277.8 169.3h0M253.1 170h0M234.8 167.2h0M334.4 162.6h0M264.2 170.9h0M260.9 168.1h0M262.5 169.6h0M222.8 168.3h0M239.8 170.8h0M316.9 165.5h0M225.6 167.8h0M230.1 168.6h0M266 169.8h0M327 166.3h0M277.3 166.9h0M235.9 168.4h0M243.3 167.5h0M250.9 169.6h0M247.2 168.5h0M323.2 165.5h0M265.6 171.2h0M299.9 168.8h0M254.6 168.5h0M244.6 166.3h0M222.5 169.9h0M228.4 170.7h0M263.7 168h0M248.8 168.9h0M234.5 170.7h0M248.1 169.2h0M238.9 169.6h0M275.1 168h0M273.4 169.5h0M234.4 169.9h0M253.3 170.6h0M255.7 169h0M245.9 169.2h0M219.2 171h0M290.6 168.9h0M327.4 164.4h0M275.5 170.7h0M242.2 171.1h0M289.3 169.5h0M293.3 167.7h0M237.2 170.4h0M229.2 168.9h0M250.4 167.6h0M337 162.3h0M247.5 166.8h0M252.9 168.1h0M263.1 169h0M234.4 167.2h0M289.8 167.8h0M247.6 169.2h0M265.8 170.1h0M272.4 169.6h0M227.5 167.7h0M291.7 167.9h0M240.8 170.9h0M309.6 166.8h0M212.9 170.6h0M226.4 168.3h0M296.3 167.9h0M266.3 170.3h0M276.4 169h0M223.9 169.1h0M217 168.2h0M269.7 169.2h0M266.5 170.4h0M301.4 165h0M251.3 171h0M261.5 169.5h0M280.1 169.9h0M227.6 170h0M253 169.7h0M267.5 168h0M281.5 169.8h0M239 167.8h0M242.3 168.8h0M236.1 169.6h0M220.1 170.6h0M274.2 169.6h0M273.5 168.7h0M263 170h0M241.2 170.5h0M214.8 167.8h0M254.2 168.3h0M222.9 170.9h0M218.6 170.7h0M285.8 169.8h0M262.1 170.2h0M230.7 168.9h0M319.9 163.2h0M285.9 170.3h0M245 166.3h0M232.6 169.1h0M275.3 171.1h0M239.7 171.2h0M234.6 168.7h0M223.8 166.6h0M249.4 170.2h0M297.2 167.2h0M274.9 170.2h0M245.9 170h0M294.9 170.1h0M299.4 169.3h0M265.7 168.5h0M272.1 171.1h0M332.2 165.8h0M318.1 166.2h0M255.4 171.1h0M272 170.5h0M273 167.7h0M247.2 169.2h0M223.9 169.7h0M320.6 167h0M246.4 169.8h0M252.3 169.6h0M293.1 167.7h0M216.3 169h0M242.9 168.1h0M237.7 170.1h0M248.6 169.3h0M286.1 170.6h0M246.4 170.4h0M287.6 170.2h0M287.7 170.6h0M210.1 168.9h0M253.3 167.9h0M256.5 169.7h0M245.7 169.4h0M293.4 168.6h0M287.7 168.6h0M225.2 170.4h0M237.5 170.4h0M329 161.4h0M298.9 166.7h0M216.7 167.4h0M238 168.9h0M230.7 167.6h0M242.2 169.7h0M230.3 166.4h0M254.7 171.2h0M266.4 169.6h0M271.6 170.1h0M298.1 169.5h0M241.1 167.3h0M240.4 169h0M288.4 167.2h0M237.6 168.2h0M222.6 168.6h0M232.3 170.9h0M315.1 167.8h0M237.7 167.3h0M247.9 169.2h0M217.3 169.3h0M257.7 170.4h0M279.9 169.4h0M276.6 169.4h0M298.3 168.1h0M251.5 171.1h0M236.4 169.1h0M272.1 166.3h0M245.5 169.9h0M270.6 164.6h0M232.2 167.9h0M279 169h0M305.2 166.6h0M239.6 169.9h0M247.6 170.8h0M252 170.7h0M285.5 168.4h0M236.9 167h0M221.7 166.6h0M260.6 169.1h0M239.9 170.7h0M235.8 170.5h0M256.9 169.4h0M293.5 169.4h0M244.2 171.1h0M252.8 168.5h0M256.4 166.8h0M275.8 170.8h0M279.5 170.3h0M231.4 170.8h0M234.9 170.6h0M287.2 169h0M216 167.8h0M276.8 168.8h0M290.7 167.8h0M254.1 170.1h0M251.3 169h0M249.8 170h0M299.5 168.1h0M309.4 168.1h0M216.1 170.3h0M241.6 169.7h0M300.6 169.1h0M237.2 168.9h0M261.3 170.5h0M282.2 167.4h0M212.1 168.9h0M266.9 170.2h0M229.6 170.5h0M273.3 168.3h0M239.6 167.9h0M263.3 171h0M251.3 168.7h0M249.1 169.1h0M268.1 168.2h0M259.2 167.5h0M253.6 169.7h0M223 166.9h0M259.7 169.7h0M287 170.6h0M293.8 170h0M262.5 169.5h0M248.6 170h0M301.9 169.2h0M283.2 170.6h0M230.2 169.3h0M252.2 170.5h0M253.9 168.1h0M288.5 169.9h0M258.3 169.4h0M305.5 167.3h0M218.9 169h0M274 165.6h0M223.5 169.7h0M220.8 170.5h0M261.2 171.1h0M285.4 164h0M283.3 170.7h0M265.7 169.5h0M225.9 167.7h0M250.8 170h0M287.6 168.4h0M240.2 169.6h0M277 167.5h0M273.4 169.5h0M280.3 169.9h0M258.4 170.3h0M243.9 168.5h0M268.8 170h0M236.2 170.5h0M220.1 168.6h0M278.6 170.2h0M260.1 170.9h0M266.6 169.4h0M265.9 170.4h0M289 170.2h0M257.9 170h0M294.3 168.6h0M249.9 169h0M264.9 167.9h0M268.6 168.2h0M236.4 169.1h0M309.1 165.7h0M246.2 170.1h0M236.3 169.6h0M268.5 166.9h0M266.7 170.4h0M271.1 168.7h0M252.4 168.4h0M254.1 168.8h0M217.2 166.8h0M225.5 168.3h0M252 170h0M247.6 168.9h0M281 169.8h0M279.2 169h0M225.8 166h0M260.9 167.6h0M257.4 167.2h0M293.4 168.4h0M240.9 170.5h0M234 170.4h0M237.2 169.6h0M240.8 169.9h0M221.5 170.9h0M286 169.6h0M264.5 171h0M270.8 170.5h0M236.8 170.2h0M258.5 169.7h0M283.7 169.4h0M254.4 170.9h0M292.2 169.8h0M261.4 166.6h0M239.6 171.1h0M220.1 169.3h0M283.1 168.1h0M316.5 166.6h0M308.6 167.4h0M243.2 167.6h0M293.9 167.9h0M279.6 169.4h0M249.5 170h0M241.6 169.4h0M275.8 169.8h0M248.7 167.2h0M258.2 168.5h0M251.6 169.4h0M265.1 170.5h0M241.2 170.3h0M264.1 170h0M252.2 170.3h0M236.9 170.7h0M296 169.1h0M240.9 169h0M278.9 170.3h0M240.4 168h0M329.8 168h0M285 167.7h0M270.9 167.5h0M249.3 169.9h0M283.7 168.4h0M226.5 171.2h0M216.4 168.6h0M254.9 169.4h0M323 168.7h0M237.9 166.3h0M247.8 169.4h0M301.9 168.1h0M250.5 169.9h0M309 167.7h0M272.2 169.7h0M289.5 170.6h0M279.5 167.8h0M253 169.9h0M248.4 169.6h0M227.5 168.3h0M235.4 167.5h0M238.8 169.2h0M215.6 166.1h0M263.4 167.8h0M320.3 164.8h0M223.2 169.5h0M267 169.5h0M268.5 169.1h0M246.1 169.9h0M254.8 167.8h0M227.1 170.7h0M246.5 170.1h0M314 167.5h0M231.1 170.2h0M224.7 170.2h0M256.9 169.3h0M229 171h0M254.2 170.4h0M210.3 170.6h0M255.7 169.9h0M219.1 168.9h0M226.6 171.1h0M254.6 167.9h0M230.6 168.7h0M323.1 167.6h0M229.4 168.2h0M261.1 170.8h0M269 169.4h0M233 168.4h0M231.6 169.5h0M234.1 171.3h0M218.7 170.7h0M251.3 166.6h0M240.8 169h0M271.6 167.5h0M266.4 169.6h0M273.1 168.8h0M260 170.8h0M249.6 166.7h0M236 167.8h0M257.3 167.9h0M274.9 168.7h0M237.4 168.4h0M258.8 171.2h0M262.8 170.8h0M229.1 165.9h0M224.6 169.5h0M310.8 165.3h0M221.5 170.3h0M256.3 169.8h0M243.5 169.7h0M260.6 170.4h0M222.8 170.1h0M287.2 169.5h0M308.2 166.8h0M307.1 168.6h0M231.1 168.4h0M256.5 169.6h0M305.7 168.8h0M252.2 168.9h0M231.2 168.9h0M219.1 168.6h0M260.1 167.5h0M254.5 169.8h0M241.6 169.3h0M221.1 168h0M223.5 169.3h0M222.6 170.2h0M231.1 169.6h0M276.7 170.5h0M266 170.9h0M319.3 168h0M246 168.8h0M277.8 167.4h0M241.5 169.5h0M217.5 168.1h0M257.7 164.2h0M254.1 169.2h0M215.2 168.4h0M215.3 168.6h0M283.7 168.8h0M214.7 170.9h0M277.3 169h0M276.1 170.2h0M226.9 169.6h0M260.4 167.5h0M265.4 167.4h0M247.8 168h0M288.7 164.8h0M253.1 169.3h0M252.7 169.8h0M241 170.6h0M304.5 168.8h0M220.5 170.2h0M247.6 169.9h0M249.3 170.5h0M287.9 168.3h0M242.8 168.7h0M337.2 161.3h0M263.5 169.6h0M212.5 170.6h0M239.9 167.5h0M254.3 168.5h0M302 168.9h0M240.3 166.1h0M249.2 166.9h0M245.9 170.3h0M338.1 165.8h0M279.3 166.8h0M274.7 170.5h0M306.4 168.7h0M271.5 168.8h0M257 168.3h0M316.8 167.3h0M254.4 168.8h0M226.2 168.3h0M273.3 168.8h0M255.1 169.5h0M235.9 168.9h0M263.6 170.7h0M258.2 170.4h0M244.1 169.5h0M319.8 165.3h0M285.6 169h0M220.3 170.5h0M230.2 169.2h0M252.2 169.7h0M274.5 166h0M282 168.3h0M229.2 167.7h0M257 171h0M253.1 168.2h0M239.8 169.2h0M237.2 170.5h0M321 164.1h0M220 165.1h0M272 170.4h0M229.7 167.8h0M223.1 167.2h0M296.2 168.2h0M233.4 170.4h0M235.2 170.1h0M236.4 171h0M299.9 168.2h0M250 170.5h0M236.1 170.6h0M241.4 169.4h0M326.5 162.8h0M225.6 166.1h0M237.6 170.4h0M225.6 165.7h0M270.7 170.8h0M243.9 168.6h0M255.2 170h0M231.9 170h0M252.9 170.7h0M243.7 170.8h0M251.2 167.7h0M238 168.2h0M209.4 167.9h0M250.5 168.7h0M248.6 167.8h0M229.2 169.9h0M235.3 166.8h0M249.3 168.7h0M286.7 167.9h0M274.2 169.8h0M259.8 171h0M222.6 168.9h0M285.4 170h0M255.8 170.4h0M256.8 166.5h0M250.3 167.7h0M276.8 169.2h0M234.7 170.7h0M229.3 169.9h0M244.8 168.6h0M278.2 170.7h0M303 168.5h0M278.8 169.8h0M295.9 169.7h0M254.6 166.7h0M281.5 169.2h0M321.3 167.8h0M255.2 169.2h0M274.7 168.8h0M271.4 169.7h0M241.3 167.4h0M290.6 168.5h0M229 168.3h0M246.8 170.6h0M253.4 167.8h0M266.3 169.2h0M233.6 169h0M255.2 169.4h0M267.2 170.7h0M246.1 168.1h0M252.2 168.7h0M219.8 169.6h0M225.8 168.1h0M230.8 166.9h0M240.8 168h0M230 169.8h0M270.3 169.7h0M289.9 167.8h0M338.3 165.5h0M224.4 169.4h0M262.7 170.9h0M274.9 170.6h0M236.9 168.7h0M270.9 169.4h0M297.7 167.5h0M314.7 167.4h0M228.1 170.9h0M306.1 165.1h0M256.2 171h0M288.1 169.6h0M234.5 170.8h0M271.9 169h0M229.8 170.4h0M274 164.9h0M277.6 167.4h0M217.6 168.8h0M267.1 169.6h0M262.9 169.4h0M229.6 169.1h0M261.2 170.7h0M266.6 169.3h0M239.1 166.9h0M246.6 168.1h0M253.1 169.6h0M309.5 165.5h0M231.2 168.7h0M326.8 167.6h0M226.4 169h0M229.2 166.9h0M226.8 168.8h0M266.1 168.5h0M263.9 171.1h0M245.9 170h0M279.8 167.1h0M270.3 171.2h0M214.6 168.1h0M297.1 170.2h0M284.2 168.7h0M283.6 169.5h0M304.1 169.1h0M227.3 171.2h0M245.5 169.2h0M267 171.2h0M338.2 165.5h0M225.1 169.7h0M254.7 170.1h0M218.3 169.9h0M274.8 168.8h0M296.2 169.7h0M234.3 169.3h0M292.8 169.9h0M269.6 167.6h0M268.4 168.2h0M279.1 170h0M225.8 170.5h0M261.4 169.2h0M257.1 170.7h0M296.4 168.2h0M328.3 163.5h0M234.9 168.1h0M273.5 169h0M228.6 170.3h0M242.7 168.3h0M227.4 170h0M223.9 170.6h0M264.4 170.2h0M256.4 168.3h0M214.4 165.6h0M260.4 169.1h0M242.2 169.9h0M274.6 169.5h0M239.7 166.9h0M297.1 169.3h0M256.2 169.5h0M252.8 170.2h0M238.1 169.4h0M248 169h0M326 167h0M228.2 170.3h0M219.6 167.1h0M241 170.6h0M271.4 171.3h0M299 169.3h0M279.3 169.8h0M238.3 169h0M209.7 169.2h0M234.8 168.9h0M234.4 168.8h0M223.6 171.1h0M234.9 169.1h0M208.2 168.4h0M280.5 166.3h0M223.7 170h0M249.1 169.8h0M245.3 170.7h0M226.3 170.8h0M246.4 169.1h0M317.5 166.3h0M284.3 170.6h0M312.8 165.4h0M262.7 169.2h0M306.1 169.4h0M250.3 164.7h0M210.1 171.2h0M259.6 170.7h0M233 167.5h0M266.9 170.8h0M264.1 170.3h0M227.8 169.3h0M254.6 168.1h0M239.9 168.2h0M324.6 167.8h0M223.1 170.6h0M211.5 170.2h0M261.1 169.2h0M275.4 170.4h0M275.6 170.8h0M247.8 170.7h0M261.4 169.7h0M255.5 169.9h0M264.7 169.3h0M269.8 171.3h0M284.6 170.5h0M244.4 168.4h0M217.1 169.5h0M240.3 171.1h0M276.7 168.9h0M270.4 170.2h0M243.1 167.6h0M247.7 167.8h0M249.6 169.8h0M228.7 170.3h0M220.1 168.2h0M277.5 170.9h0M274.7 167.4h0M216 168.9h0M316.1 166.3h0M273.1 168.1h0M240.1 168h0M290.6 169.3h0M234.6 167.2h0M278 170.3h0M244.1 166.8h0M231.9 169h0M260.5 169.2h0M233.7 169h0M288.6 169.8h0M253.1 167.2h0M236.2 167.2h0M245.6 171h0M324.9 166.1h0M258.3 169.3h0M241.6 170.7h0M230.2 170h0M277.7 168.7h0M269.7 169.2h0M229 170.2h0M226.7 170.2h0M247 169.3h0M228.7 169.6h0M221 169.9h0M263.2 168h0M227.2 168.6h0M231.7 165.8h0M277 169.6h0M247 168.7h0M274.9 169.2h0M238.8 168.2h0M223.8 170h0M288.8 169.4h0M268 170.6h0M245.2 167.3h0M267.7 168.6h0M268.9 167.2h0M221.4 169.6h0M223.1 167.7h0M275.9 168.7h0M244.6 170.2h0M249.3 170.1h0M290.4 169.5h0M232.9 169.2h0M239.1 169h0M279 168.8h0M252.3 170.3h0M252.5 168.6h0M220.6 170.8h0M290.2 167.9h0M297.1 169h0M243 167.4h0M320.3 165.2h0M267.9 170.2h0M227.7 168.7h0M229.3 171h0M253.4 170.7h0M266.2 169.5h0M326.6 166.2h0M254.3 169.5h0M254 171.2h0M276.4 170.3h0M252.7 170h0M262.6 168.4h0M288.8 167.6h0M236.8 170.2h0M240.3 168.3h0M239.8 168.9h0M291.1 167.8h0M231.2 170.6h0M220.1 170.4h0M304.8 168.3h0M224.6 170.3h0M249.4 170.2h0M222.9 168.2h0M269.5 170.1h0M256.6 167h0M285.1 170.3h0M226.5 168.5h0M231.7 169.5h0M231.1 169.8h0M234.8 168.4h0M248.7 170.2h0M276.9 169h0M238.8 170.8h0M235.9 170.7h0M237.6 167.2h0M314.7 164.6h0M259.2 169.4h0M281.1 169.4h0M228.5 167.5h0M299 167.6h0M248.2 169.8h0M238.2 171.1h0M263.5 168.4h0M256.7 170.9h0M225.3 168.1h0M300.3 165h0M217.2 167.4h0M316.7 168.4h0M241.4 168.7h0M215.2 167.4h0M235.5 167.7h0M230.5 169.1h0M292.1 168.3h0M246.5 170.4h0M267.7 167.5h0M248.2 170.1h0M268 169.5h0M306 166.3h0M244.8 169.1h0M213.4 167.6h0M238.8 169.9h0M339.4 165h0M264.5 168.3h0M321.3 165.5h0M238.9 170h0M265.6 166.3h0M253.9 169.2h0M216.9 168.6h0M237.8 167.2h0M248.9 169.7h0M259.7 170.7h0M260.2 169.2h0M235.3 168.3h0M254.1 169.9h0M255.8 169.3h0M283.6 166.7h0M283.9 170.2h0M283.2 166.6h0M231.4 171h0M219.8 168.5h0M261.1 169.5h0M232.6 169.6h0M243.4 169h0M271.4 167.7h0M247.2 170.8h0M285.5 171.1h0M248.4 170.6h0M261.4 170.1h0M234.4 166.4h0M230.7 169.6h0M278.4 169.1h0M241.4 165.3h0M283.2 170.2h0M308 167.9h0M237.7 169.2h0M281.9 168.2h0M232.3 170.4h0M274.5 171h0M332.4 163.1h0M257.3 168.5h0M250.6 171.2h0M277.3 168.8h0M282 168.8h0M236.3 170.8h0M238.4 169.9h0M301.3 167.8h0M231.7 169.9h0M293.1 169.1h0M267 170.6h0M271.7 168.8h0M259.2 170.9h0M265 170.8h0M240.1 166.9h0M216.4 170.7h0M245.9 171h0M292.6 169.8h0M233.8 170h0M280.6 168.6h0M316.6 165.7h0M292 169.2h0M289.9 168.6h0M253.4 169h0M237.7 167.6h0M267.6 168.6h0M240.6 170.6h0M292.7 168.7h0M254.3 169.9h0M269.4 167.6h0M291 167h0M253.4 168.5h0M270.3 170.5h0M261.2 169.5h0M217.6 171h0M289.9 170.2h0M241.8 170.4h0M219 168.9h0M239.4 170.2h0M243.6 169h0M264.4 169.2h0M293.5 167.2h0M245.2 165.9h0M255 169.1h0M254 168.1h0M254 170.3h0M220.3 167.7h0M271.3 168.4h0M305.8 169.4h0M335.7 164h0M232.2 168.7h0M303.7 164.4h0M250.8 168.9h0M289.1 168.6h0M224.1 166.6h0M236.1 170.1h0M250.5 165.7h0M223.1 170.6h0M221.5 170.7h0M220.8 168.8h0M259.9 169.2h0M250.5 170.1h0M312 168.6h0M253.3 169.6h0M226.1 169.4h0M219.8 168.7h0M252.4 169.5h0M333.2 163.6h0M302.4 168.8h0M269.4 168.2h0M238.7 170.2h0M263.5 168.1h0M241.2 169.6h0M244.5 171.1h0M267 167h0M242.5 167.1h0M240 170.3h0M242.5 169.5h0M315.3 166.7h0M235.9 167.5h0M268.1 170.7h0M257.5 169.5h0M223.2 170.9h0M254 165.3h0M261.2 170.7h0M243.1 165.6h0M240.6 170.4h0M303.5 165.5h0M283.5 169h0M250.8 170h0M304.9 168.6h0M282.5 170.3h0M240.3 168.8h0M255.9 167.7h0M215.3 167.7h0M256.4 168.4h0M275.9 169.3h0M269 170.4h0M267.9 169.8h0M246.8 170.1h0M292.5 169.9h0M253.5 165.6h0M244.1 168.2h0M235.1 170.3h0M262.5 171.1h0M260.3 168.1h0M251.8 169.4h0M268.9 169.7h0M253.3 170.7h0M272.3 168.6h0M246.6 170.1h0M240.6 168.7h0M260.1 169.3h0M252.5 170.3h0M269.4 168.7h0M276.6 167.9h0M256.8 171.1h0M239.7 168.3h0M293.1 168.5h0M234.9 170h0M237.8 169.2h0M298.2 166.5h0M269.5 169.6h0M246.9 170.4h0M235.2 169.9h0M251.9 168.8h0M240.5 170.9h0M225.2 171.2h0M309.8 164.7h0M278.2 169.8h0M247.6 165.5h0M234.4 168.2h0M283.8 166.4h0M268.2 164.8h0M221.9 169.9h0M244 168.3h0M298.1 168h0M269 169.2h0M241.8 170h0M218.6 169h0M286.8 167.6h0M226.7 170.5h0M240.6 169.4h0M271.4 164h0M253 170.6h0M228.8 168.1h0M292.7 167.2h0M230.3 170.6h0M253.6 169.2h0M231.6 168.1h0M235.9 167.7h0M241.7 169.9h0M222 170.8h0M215.4 167.9h0M243.2 170.7h0M226.3 166.1h0M242.4 168.4h0M292.6 167.5h0M253.4 170.9h0M251.3 164.7h0M253.6 169.9h0M236.9 169.8h0M236.7 170.1h0M236.5 171.3h0M320.2 168.2h0M234.9 168.4h0M306.2 165.1h0M253.9 169.8h0M260 167.8h0M239.9 170.2h0M252.2 170.1h0M271.3 169.4h0M315.3 167.6h0M227.5 167h0M216.6 166.9h0M263.8 168.9h0M239.4 167.9h0M236 167.8h0M236.1 168h0M235.9 169.2h0M233.3 168.7h0M312.5 166.1h0M255.3 170.3h0M219.8 170.1h0M218.7 168.9h0M247.2 167.7h0M246.7 169.2h0M210.5 167.8h0M260.6 167.3h0M234.5 169.6h0M253.3 167h0M297.9 168.4h0M260.3 167h0M238.8 170.6h0M232 168.7h0M227.5 169.2h0M291.8 167.1h0M251.7 170.5h0M274.9 169.2h0M249.5 167.8h0M268.5 169.3h0M247.5 165.5h0M234.2 169.3h0M225.1 170.9h0M317.9 164.6h0M245.9 170.4h0M258.6 169.6h0M235.8 169.3h0M232.1 169.3h0M252.7 169.1h0M232.5 168.4h0M242.5 168.2h0M248.7 167.9h0M234.7 169.2h0M253.8 169.2h0M247.1 169h0M234 169.7h0M256.4 169.4h0M242.4 168.6h0M267.6 169.4h0M334.7 160.4h0M248.2 169.5h0M275.2 165.6h0M232.1 170.8h0M296 167.3h0M232.2 170.9h0M232.8 170.7h0M253.9 169.8h0M232 170.1h0M335.1 166.7h0M245.6 169.3h0M224 169.3h0M220.8 168.3h0M227.9 170.4h0M262.3 171.2h0M268.3 169.2h0M318.2 166h0M272.6 170.6h0M251.9 170.9h0M278.3 170.8h0M280.6 170.4h0M273.8 169.3h0M319.2 166.9h0M240.6 169.1h0M253.8 168.8h0M247.3 170.3h0M256.2 170.4h0M316.2 167h0M251.8 169.7h0M277.1 167.7h0M223.1 168.7h0M232.6 170h0M251 168.9h0M232.2 169.7h0M276.1 169.3h0M245.4 170h0M237.8 171h0M241.5 169.2h0M282.7 168.8h0M267.8 170.6h0M218.1 169.5h0M262.7 170.3h0M214.9 168.6h0M295 167.7h0M305.5 168.5h0M254.7 169.6h0M228.9 170.1h0M245.2 169.7h0M243.1 167.4h0M284.5 170.6h0M292 169.5h0M262.1 167.6h0M232.5 170.4h0M326.9 166.8h0M273 168.1h0M226.6 169.2h0M239 167.9h0M319.1 165.8h0M231.8 168.9h0M281.8 170.9h0M238.9 168.8h0M287.1 168.6h0M250.2 166.4h0M278.5 171h0M222.9 169.6h0M238.7 167.2h0M268.6 170.9h0M261.8 166.8h0M335.7 167.3h0M256 168h0M237.4 169.7h0M248.6 169.2h0M212.9 166.7h0M242.7 167.3h0M266 168.7h0M274.9 167.1h0M279.7 170.3h0M246.8 170.5h0M269.6 170.5h0M254.6 170.3h0M230.6 171h0M237.8 168.7h0M251.2 170h0M230.5 171h0M269.7 164.1h0M242.6 169.3h0M238.6 170.9h0M239 169.7h0M332.1 165.8h0M286.1 167h0M249.3 169.3h0M257.8 168.5h0M232.5 169.8h0M255.7 167.3h0M233.7 167.3h0M252.4 169.2h0M232.5 167.9h0M236.9 169.1h0M257.9 169.5h0M261.2 170h0M272.1 169.8h0M258.8 169.2h0M276.6 170.4h0M308.7 166.9h0M254.8 168.8h0M228.4 169.5h0M280.6 169.2h0M246.4 170h0M223.7 168.2h0M283.7 166.5h0M232.2 169.7h0M294.7 168.5h0M247.3 169.2h0M250.1 168h0M228.2 170.7h0M255.6 169.3h0M214.9 167.4h0M221.7 170.2h0M267.2 166.8h0M259.8 169.8h0M234 168.4h0M226.9 169.7h0M238.4 168h0M228.1 169.3h0M252.6 168.6h0M214.6 170.4h0M256.1 167.8h0M261.5 168.1h0M234.5 168.1h0M272.7 169.2h0M258.3 170.3h0M320.2 166.9h0M259.6 169.5h0M229.1 170.7h0M258 166h0M225.4 167.5h0M246.9 168.4h0M222.6 170.2h0M297.1 169.2h0M312 162.9h0M241.6 168.1h0M225.9 168.8h0M248.3 169.9h0M246 170.3h0M216.2 164.3h0M258.4 170.5h0M264.3 169.9h0M244.2 169.4h0M231.7 170.9h0M256.6 166.7h0M259.3 169.5h0M226.2 167.8h0M270.8 165.9h0M261.8 169h0M291.9 166.7h0M252.7 169.6h0M285.4 167.1h0M254.8 169.7h0M232 167.4h0M298.1 169.9h0M253 166.2h0M260.2 169.6h0M299.3 168.1h0M230.4 170h0M295.6 168.2h0M231.6 170.5h0M305.7 167.8h0M236 169.8h0M254.1 169.9h0M296.3 169.6h0M264.1 165.4h0M277.1 167.1h0M266 169.4h0M255.7 169.2h0M258.5 170h0M252.1 169.8h0M246.1 170.7h0M231.5 169h0M250.6 168.8h0M313.6 166.4h0M230.4 170h0M290.6 168.1h0M301.6 169.4h0M242.4 169h0M231.8 169.8h0M237.8 169.8h0M282.6 169.7h0M239.5 169h0M267 169.4h0M241.6 170h0M305.5 165.8h0M302.9 168.2h0M247.9 170.2h0M238.6 168.3h0M305.4 166.9h0M224.4 169.4h0M263.5 169.8h0M256.4 167.8h0M240.3 167.8h0M267.1 169.3h0M252 168.4h0M275.2 169.2h0M226.9 167.8h0M275.8 168.7h0M270.8 169.1h0M229.8 169.1h0M299.3 166.7h0M261.5 170.4h0M236.5 168.4h0M243.5 169.5h0M286.5 169.4h0M223.7 165.6h0M272.5 169.6h0M284 169.4h0M236.3 170.7h0M237.7 169.1h0M228.3 167.2h0M284.7 169.5h0M268.2 170.7h0M283 170.3h0M272 165.6h0M235.1 167.6h0M313.7 168.2h0M230 168.1h0M280.6 170h0M218.9 164h0M224.8 170.9h0M274.2 169.4h0M299.6 167.9h0M241.6 169.7h0M243.7 170.3h0M235.1 168.3h0M228.8 170.1h0M255.1 168.6h0M302 169.5h0M239.9 170.9h0M314.6 167.9h0M247.2 168.7h0M266.4 169.8h0M251.3 168.4h0M265.2 171h0M214.8 169.7h0M257.6 170.4h0M263.1 169.2h0M273.1 168h0M250.2 169.9h0M221.8 169h0M233.1 167.5h0M216.2 171.1h0M219.3 167.3h0M284.9 170h0M240.2 169h0M223.1 168.4h0M297.4 169h0M236.8 167.5h0M261.7 169.8h0M263.6 171h0M282.7 169.7h0M325.2 168h0M280 168.7h0M248.1 169h0M249.4 168.8h0M280.4 169.2h0M257.2 169.5h0M236.2 168h0M243.5 170.2h0M241.4 167h0M253.6 168.5h0M282.5 169.9h0M276.6 169.5h0M262.1 170.2h0M228.8 170.9h0M234.1 170.2h0M270 169.4h0M241.1 168.6h0M256 170.5h0M232.5 169.4h0M321.2 167.7h0M326.5 166.8h0M285.5 168.8h0M312.7 165.8h0M257.3 171.1h0M263.6 169.1h0M289.3 168.4h0M254.8 170.6h0M215.6 169h0M226.9 168h0M240 168.6h0M253.4 170.7h0M255.7 169.7h0M323.5 167.3h0M302 165.7h0M290.9 165.5h0M262.8 169.5h0M267 169.7h0M268.6 169h0M264 167.9h0M254.8 169.8h0M284.3 168h0M252 168.2h0M221.5 169.8h0M332.6 165.2h0M244.3 169.6h0M271.9 169.7h0M270.9 167.9h0M284.4 171h0M223.1 168.2h0M226.4 169.1h0M321.6 163.6h0M242 166.4h0M227.4 169.5h0M252.7 170.7h0M284.2 165.9h0M244 169.4h0M230.9 167h0M240.5 167.3h0M216.6 170h0M253.8 169h0M258.2 168.9h0M299.2 166.4h0M313.8 168.1h0M248.3 169.5h0M228.2 169.6h0M232.4 168.5h0M240.9 169.8h0M292 169.5h0M302.1 167.9h0M301.3 167.9h0M236.8 168.3h0M304.8 168.2h0M225 170.3h0M253.1 168.7h0M309.4 166.6h0M264.6 169.1h0M249.2 170.5h0M221.9 171h0M252.2 170.7h0M237.1 168.1h0M295.3 169.3h0M265.1 169.1h0M284.9 169.2h0M275.2 169.1h0M242.7 169.8h0M298.7 167.4h0M308 168.6h0M229.9 169.3h0M231 169.7h0M246.6 171.3h0M238.6 171.3h0M250.1 169.6h0M239.6 170.7h0M244.2 170h0M232.7 170h0M232.7 170.7h0M265.3 169.6h0M283.5 169.2h0M240.8 170.1h0M262.5 169.2h0M324.5 163h0M221.7 168.3h0M288.1 170.2h0M236.6 169.8h0M250.5 169.6h0M303.8 167.8h0M210.8 170.2h0M268.8 169.9h0M313.7 169h0M303.7 167.2h0M314.4 167h0M330.6 167.9h0M277.7 170.4h0M278.9 171.1h0M225.5 169.6h0M278.3 170.5h0M249.2 169.5h0M240.3 170.3h0M300.9 169.5h0M239.6 165.7h0M324.3 166.4h0M244.1 168.9h0M234.5 167.5h0M223.1 166.9h0M247.3 170.1h0M244.9 168.3h0M259 170.9h0M337.7 167.4h0M252.2 171.2h0M245.9 167.6h0M236.9 169.1h0M228.6 170.4h0M253.8 170.5h0M322.5 167.8h0M329 167.1h0M262.8 168.5h0M248.1 168.4h0M225.3 168.3h0M280.4 166.1h0M285.7 168.7h0M315 168.8h0M230.9 168.7h0M251.2 168.8h0M215.8 169.3h0M276.1 170.1h0M231.1 168.2h0M288 166.4h0M245.8 170.6h0M228 166.7h0M255.5 168.8h0M228.6 167.1h0M210.9 169.8h0M241.7 170.7h0M310.3 168.5h0M265 170.3h0M264.3 169.3h0M295.9 168.5h0M283.1 168.3h0M246.2 167.9h0M264.4 169.8h0M226.4 170.7h0M247.6 169.7h0M234.7 167.4h0M326.2 162.8h0M231 170.2h0M237.2 168.1h0M270.8 169.6h0M267.2 168.9h0M217.9 167.7h0M260.4 166h0M226.9 168.4h0M240.9 170.3h0M232.6 169.5h0M238 168.6h0M257.1 170.6h0M283 170.7h0M242.8 168.5h0M274.8 169.5h0M229.5 169.5h0M268.2 169.6h0M221.2 168.5h0M239.9 167.1h0M231.6 170.7h0M233.8 169.7h0M257.4 170.4h0M228.6 167.7h0M306.8 168.7h0M244.7 169.2h0M249.9 170.2h0M254.3 167.6h0M235.1 169.7h0M240 170.4h0M262.5 168.4h0M250.7 167.8h0M301.9 168.4h0M233.5 170.4h0M310 164.5h0M264.6 169.9h0M272.9 169.4h0M291.8 168.4h0M327 165.1h0M257.4 169.3h0M230.1 171h0M318 168.4h0M257.9 168.4h0M319.3 165.4h0M236.9 169.5h0M238 169h0M219.5 170.3h0M272.3 171.2h0M271.6 170.5h0M278.3 168.6h0M294.9 169.5h0M244.3 168.9h0M227.4 169.4h0M225.1 168.7h0M302.3 166.7h0M241.8 168.3h0M234.5 170.4h0M319.2 164.1h0M288.9 168.1h0M222.6 169.5h0M305.9 168.2h0M251.9 170.6h0M274.2 168.1h0M269.9 169.9h0M231 169.4h0M241.7 170.7h0M259.9 169.2h0M263.2 171.2h0M305.6 168.9h0M253.7 170.6h0M246 166.4h0M269.6 166.4h0M217.3 170.1h0M296.5 169.4h0M231.8 170.1h0M223 169h0M259.8 169.6h0M233.6 171.2h0M242 169.1h0M248.6 170.6h0M272.5 169.6h0M245.9 169.8h0M305 168h0M326.4 165.2h0M274.3 169h0M255.1 170.3h0M231.9 169.2h0M235.2 169.3h0M261.7 168.5h0M229.1 167.2h0M243.5 169.3h0M251.3 170.4h0M328.8 163.9h0M286.1 168.8h0M274.7 170.6h0M264.5 167.8h0M262.8 169.6h0M224.4 171h0M316.3 163.5h0M233.9 170.9h0M294.9 169.1h0M257.6 170.6h0M274.6 169.2h0M307 168.8h0M238.5 166h0M282 168.5h0M233.8 166.9h0M225.7 167.3h0M266.2 169.7h0M275.4 169h0M283.6 168h0M237.7 169.9h0M224.7 170.8h0M229.3 169.5h0M221.9 170.4h0M218 168.7h0M270.3 169.2h0M277 169.2h0M263.3 169.6h0M272.4 169.1h0M216 169.7h0M219.5 167.9h0M292.4 169.8h0M243.9 169.8h0M284.4 169.8h0M317.2 167.3h0M278.7 166.6h0M250.2 169h0M293.7 169.2h0M255.4 166.2h0M224 167.7h0M224.2 169h0M220.2 168.9h0M250.9 168.2h0M232.4 169.6h0M226.6 168.1h0M260.2 169.1h0M252.5 170.2h0M257.4 168.7h0M233.1 169.2h0M296.7 169.2h0M234.7 167h0M265.3 169.3h0M241.2 168.3h0M323.2 165.6h0M319 160h0M254.7 168h0M248.3 168.6h0M304.2 167.5h0M290.7 169.5h0M246.7 163.5h0M264.4 169.9h0M261.3 170.9h0M282.4 169.8h0M239.4 170.2h0M275.9 167.9h0M299.4 168.8h0M253.6 170.5h0M268.4 170.2h0M306.5 166.4h0M312.8 168.1h0M224.2 170.2h0M275.1 167.9h0M275.6 168.9h0M291.9 168.8h0M248.8 170.8h0M284.4 169.7h0M313.9 168.3h0M224.8 168.8h0M269.5 168h0M262.9 167h0M260.4 169.8h0M273.8 167.5h0M311.9 168h0M254.9 171.2h0M316.6 166.1h0M249.2 169.8h0M245.8 169.8h0M219.1 170h0M224.9 169.8h0M235.3 169.5h0M329.3 166.6h0M239.8 170.1h0M275.9 169.7h0M250.1 170.2h0M238.5 169.9h0M230.2 169h0M324.8 164.6h0M259.2 170.8h0M250.9 169.6h0M255.1 169h0M251.2 167.2h0M241.6 169.7h0M218.3 164.8h0M254.4 167.8h0M270.6 168.3h0M231.4 167.2h0M290.7 169.7h0M256.9 170.7h0M278.2 170.7h0M239.7 170.5h0M240.1 168.1h0M307.1 167.6h0M261 167.3h0M223.7 168.4h0M248 169.3h0M219.6 171.3h0M222 168.9h0M251.9 170.5h0M285.8 167h0M231.1 167.6h0M246.4 170.7h0M306.9 166.4h0M279.6 168.4h0M283.6 169.3h0M267 166h0M244.6 170.6h0M307.9 167.2h0M217.4 167.3h0M293.4 166.1h0M284.9 170.3h0M252.1 169.1h0M232.3 167.5h0M228.7 170.9h0M313.5 163.4h0M249.3 170h0M225.4 167.7h0M299.3 168.8h0M234.5 170.4h0M242.2 169.6h0M229.7 168.8h0M318.8 168.4h0M248.4 167.1h0M239.9 168.9h0M270.9 169.5h0M216.7 170.2h0M267.9 169.5h0M241.7 168.6h0M237.8 166h0M216.3 170.7h0M243.4 170.2h0M219.5 170.1h0M237.7 170h0M223.2 169.1h0M288.4 169h0M269.2 166.6h0M282.7 167.9h0M292 167.1h0M236.2 171.3h0M236 170.7h0M269.7 170.4h0M220.1 171.2h0M234.8 169.9h0M257.3 170.2h0M251.5 167.1h0M220.3 169.1h0M260.7 168.7h0M302.8 166.9h0M257.8 170h0M242.9 167.5h0M285.2 168.4h0M239 170.6h0M263.2 169.1h0M280.9 171.2h0M241 168.4h0M265.1 168.3h0M238.5 169.3h0M279.7 170h0M252.3 169.7h0M233.7 168.6h0M261.9 171.2h0M305.4 169h0M234.5 167.9h0M298.8 170.1h0M240.7 169.5h0M295.1 169.4h0M249.8 169.2h0M293.7 165.3h0M250.9 169.2h0M262.7 168h0M238.9 170.9h0M271.6 169.9h0M255 169.4h0M266.7 168h0M275.8 170.1h0M285.7 169.8h0M294.6 170.1h0M240.7 170.4h0M242.5 168.7h0M236.1 170.1h0M261.5 168.8h0M239.6 168.6h0M234.2 168.7h0M251.6 171.1h0M239.8 165.9h0M249.2 169.5h0M240.8 169.2h0M222.6 169.8h0M296.5 168.2h0M223.1 168.3h0M211.7 171.1h0M272.1 170.8h0M277.1 170.9h0M252.6 169h0M281.5 170.7h0M219.1 168.9h0M242.3 170.2h0M274.9 167.1h0M240.9 169.8h0M221.3 170.7h0M288.3 165.5h0M259.7 170.3h0M268.9 170.1h0M249.1 165.8h0M245 169.1h0M231.9 168.3h0M211.3 169.4h0M326.1 165.7h0M276.4 169h0M316.7 165.8h0M257.3 168.7h0M245 169h0M258.8 167.9h0M284.3 169.8h0M278.5 170.8h0M269.2 169.9h0M289.8 170h0M288 169.7h0M311.8 166.9h0M244.7 169.5h0M319.7 167.8h0M243.7 168.4h0M275.4 167.5h0M239.5 170h0M223.3 168.7h0M328.8 166.2h0M296.1 169.8h0M250.8 169.1h0M252.4 169.3h0M265.1 168.6h0M242.2 167.6h0M245 168.8h0M245.7 168.8h0M257.6 169.9h0M271.8 168.3h0M228 163.1h0M217.5 163.1h0M227.4 160.9h0M296.7 164.8h0M266.1 159.5h0M279.2 165.2h0M308.8 163.9h0M330 161.6h0M299.6 166.8h0M268.7 167.7h0M281.2 161.9h0M236.5 163h0M283.2 162.4h0M305.6 166.4h0M316.2 159.3h0M288.5 164.9h0M334.3 164.6h0M284.1 164.8h0M324 166h0M221.2 166.8h0M299 160.8h0M276.1 165.6h0M236.2 166.6h0M235.2 162.5h0M309.4 166h0M269.6 166.9h0M225.8 163.1h0M334 164.8h0M247.3 165.6h0M260.2 166.5h0M239.5 157.7h0M270.7 167.1h0M244.7 166.5h0M327.1 166.2h0M330.9 166.2h0M312.1 165.3h0M269.2 165.6h0M279.9 162.3h0M297.3 164.5h0M302.2 166.8h0M266.2 163.8h0M278.9 167.5h0M283 162h0M289.4 163.2h0M229.9 165.3h0M325.9 161.5h0M256.8 160.9h0M286.8 166.7h0M303.4 164.8h0M264.1 167.3h0M241.5 165.7h0M281.1 154.2h0M216.5 168.5h0M246.3 165.3h0M271.4 163.5h0M324.1 165.9h0M260.9 165.9h0M311.4 159.5h0M246.3 165.3h0M286.4 165.9h0M319.1 165.5h0M324.6 166.1h0M324.6 166.4h0M320.2 166.5h0M235 161.3h0M281.3 163.9h0M224.7 164h0M326 165.6h0M270.3 163.7h0M228.6 163.3h0M320.1 164.3h0M267.1 167.5h0M312.3 164.6h0M229.1 162.2h0M291.8 158.7h0M273.1 166.7h0M289.1 162.4h0M275.5 165.6h0M267 166.2h0M242.4 164h0M237.5 150.8h0M316.3 164.9h0M302.9 165.6h0M237.1 167h0M263.4 167.8h0M288.9 163.6h0M234.4 167.5h0M299.6 163.9h0M299.4 166.9h0M298.9 163.3h0M241.3 163.9h0M297.7 165.9h0M225.9 167.9h0M220.2 153.6h0M282.5 165.3h0M239.1 168h0M249.9 166.2h0M210.2 160.7h0M240.5 165.3h0M301.2 163.1h0M277.2 164.3h0M332.3 163.3h0M270.8 165.1h0M322.1 165.4h0M250.6 163.7h0M243.8 167.8h0M209.4 167.4h0M270.5 165.9h0M295.2 164.2h0M227.2 168.3h0M220 166.2h0M222.6 165.9h0M304.4 164.9h0M309.2 164.1h0M285.4 167.3h0M244.9 161.1h0M228.9 158.2h0M265 167.3h0M289.1 160.4h0M315.3 149.4h0M246.2 155.5h0M292.2 165.1h0M303.3 163.9h0M288.3 163.5h0M284.6 165.7h0M336.3 166.4h0M209.5 166.8h0M282.9 164.8h0M212.7 166.6h0M220.4 165.3h0M260.4 166.6h0M233.2 163.4h0M316.4 166.5h0M329.5 157.1h0M332.4 163.8h0M239 160.5h0M264.6 166.1h0M336.9 162h0M319.4 166.1h0M235.2 165.8h0M214.6 168.5h0M301.4 165.1h0M280.1 165.6h0M316.4 162.7h0M268.2 158.3h0M256.3 165.8h0M225.8 164.7h0M319.5 156.5h0M310.5 166.2h0M330.2 164.3h0M300.3 166.5h0M269.7 164.9h0M334.4 163.1h0M238 167.1h0M338.5 162.1h0M208.5 167.6h0M247.5 167.4h0M283.2 154.9h0M239.1 167.1h0M260.4 165.3h0M335.1 164.2h0M238.6 164.1h0M223.5 159.7h0M302.3 163.6h0M298.1 167h0M233.5 164h0M255.3 167.6h0M243.1 149.8h0M320.8 166.2h0M309.8 164.3h0M214.3 166.9h0M233.2 168.2h0M337.1 160.2h0M236.5 164.7h0M326.2 166.4h0M256.6 164.8h0M243.1 167.2h0M332.4 161.6h0M231 164.5h0M307.3 165h0M276.6 153.2h0M276.6 160.4h0M224.1 168.2h0M239.8 163.4h0M224.7 168.4h0M271.5 167.5h0M306.2 162.3h0M289.4 161.1h0M314 165.8h0M251.1 167h0M331.5 163.4h0M239.8 159.3h0M244.9 165h0M299.9 162.1h0M295.8 159.4h0M245.9 164.5h0M227.5 168.4h0M329.2 165.8h0M327.4 165.7h0M308.6 165.1h0M338.7 158.5h0M338.6 167.2h0M338.9 163.6h0M339.2 162.4h0M338.7 164.2h0M338.8 162.9h0M339.3 164.2h0M338.6 160.6h0M339.3 166.4h0M338.9 157.8h0M339.3 163.8h0M338.7 156.3h0M338.9 160.6h0M338.9 156.7h0M339.4 160.2h0M338.9 161h0M338.7 159.2h0M338.8 165h0M339.2 163.9h0M339 162.9h0M338.7 156.1h0M339 158.2h0M339.2 160.5h0M339.1 158.5h0M338.8 164.7h0M339.4 158.5h0M338.7 162.9h0M338.8 160h0M339.2 163.9h0M338.8 166.3h0M339.1 161.8h0M338.7 161h0M338.6 161.9h0M339 160.1h0M338.6 165.7h0M220 101.9h0M239.4 62h0M233.3 48.3h0M295.2 108.2h0M224.4 106.3h0M300.9 125.8h0M313.4 137.9h0M243.3 46.3h0M325.6 30.5h0M231.1 27.6h0" stroke="#000" stroke-width="1.25" stroke-linecap="round" fill="none" opacity="1"/>
<path d="M222.5 132.2L226.5 131.2" stroke="#000" stroke-width="1.1"/>
<text x="206.5" y="140" class="sr" font-size="8.5">N</text>
<text x="266" y="159.8" class="sr" font-size="8.5">I</text>
<text x="318.2" y="29.4" font-family='"Liberation Sans", Arial, Helvetica, sans-serif' font-weight="bold" font-size="9.5">T=0s</text>
<g transform="matrix(1 0.007 -0.0198 1 370.2 174.9)">
<rect x="0" y="-156.3" width="144.3" height="156.3" fill="none" stroke="#000" stroke-width="1.3"/>
<path d="M0 0v3.2M0 0h-3.2M5.6 0v2M0 -6.1h-2M11.2 0v2M0 -12.2h-2M16.8 0v2M0 -18.3h-2M22.4 0v2M0 -24.4h-2M28 0v3.2M0 -30.5h-3.2M33.6 0v2M0 -36.6h-2M39.2 0v2M0 -42.7h-2M44.8 0v2M0 -48.8h-2M50.4 0v2M0 -54.9h-2M56 0v3.2M0 -61h-3.2M61.6 0v2M0 -67.1h-2M67.2 0v2M0 -73.2h-2M72.9 0v2M0 -79.2h-2M78.5 0v2M0 -85.3h-2M84.1 0v3.2M0 -91.4h-3.2M89.7 0v2M0 -97.5h-2M95.3 0v2M0 -103.6h-2M100.9 0v2M0 -109.7h-2M106.5 0v2M0 -115.8h-2M112.1 0v3.2M0 -121.9h-3.2M117.7 0v2M0 -128h-2M123.3 0v2M0 -134.1h-2M128.9 0v2M0 -140.2h-2M134.5 0v2M0 -146.3h-2M140.1 0v3.2M0 -152.4h-3.2" stroke="#000" stroke-width="1.1" fill="none"/>
<text transform="translate(0 10.5) scale(0.88 1)" text-anchor="middle" class="tk">0</text>
<text transform="translate(-5.4 0) rotate(-90) scale(0.88 1)" text-anchor="middle" class="tk">0</text>
<text transform="translate(28 10.5) scale(0.88 1)" text-anchor="middle" class="tk">200</text>
<text transform="translate(-5.4 -30.5) rotate(-90) scale(0.88 1)" text-anchor="middle" class="tk">200</text>
<text transform="translate(56 10.5) scale(0.88 1)" text-anchor="middle" class="tk">400</text>
<text transform="translate(-5.4 -61) rotate(-90) scale(0.88 1)" text-anchor="middle" class="tk">400</text>
<text transform="translate(84.1 10.5) scale(0.88 1)" text-anchor="middle" class="tk">600</text>
<text transform="translate(-5.4 -91.4) rotate(-90) scale(0.88 1)" text-anchor="middle" class="tk">600</text>
<text transform="translate(112.1 10.5) scale(0.88 1)" text-anchor="middle" class="tk">800</text>
<text transform="translate(-5.4 -121.9) rotate(-90) scale(0.88 1)" text-anchor="middle" class="tk">800</text>
<text transform="translate(138.9 10.5) scale(0.88 1)" text-anchor="middle" class="tk">1000</text>
<text transform="translate(-5.4 -152.4) rotate(-90) scale(0.88 1)" text-anchor="middle" class="tk">1000</text>
</g>
<path d="M380.6 139.3h0M372.7 138.4h0M379.4 135.8h0M375 140.8h0M376.5 143.6h0M380.2 135.3h0M374 139.5h0M380.1 131.4h0M376.3 132.6h0M379.8 139.8h0M379.7 135.3h0M380.3 141.6h0M376.6 137.2h0M378.4 129.8h0M375.9 136.1h0M377.9 141.1h0M376.6 152.4h0M379.7 139.8h0M385 127.5h0M380 139.7h0M374.9 124.9h0M377.5 144.4h0M377.1 122.2h0M373.8 154.7h0M374.8 145.2h0M378.8 144.7h0M373.9 146h0M383.2 132.6h0M373.1 145.5h0M377.1 150.3h0M381.9 141.2h0M378.7 134.1h0M379.9 150h0M372.4 149.9h0M376.5 138.1h0M373.7 155.3h0M375.7 149.6h0M378 141.7h0M375.1 128.7h0M379.9 148.6h0M374.8 131h0M377.7 142.1h0M376.2 127.1h0M374.8 129.4h0M374.4 144.8h0M375.9 118.1h0M381 144.1h0M374.1 158.8h0M378.5 143.4h0M371.6 139.1h0M379.1 130.7h0M375.3 134.3h0M376.3 149h0M378.4 141.2h0M377.2 138.3h0M378.4 151.8h0M377 140h0M377.9 137.1h0M373.7 130.3h0M376.2 147.9h0M376.4 129.2h0M373.4 142.6h0M378.3 137.9h0M378 148.7h0M374.4 155.1h0M377 156.4h0M378.3 139.9h0M376 132.3h0M378.6 122.6h0M379 158.9h0M374.3 148.9h0M379.5 137h0M381 149h0M375.3 134.4h0M379 145.5h0M372.5 135.7h0M371.2 131.7h0M377.2 138.1h0M374.4 141h0M379.5 148.9h0M381.8 136.3h0M376.5 157.1h0M375.6 141.1h0M378.9 139.7h0M379 128.2h0M378.8 139.9h0M374.9 148.9h0M378.6 133.7h0M377.7 137.6h0M373.5 138.2h0M375.9 148.4h0M379.6 154h0M375.8 135.9h0M372.7 144.8h0M378.8 141.5h0M379.4 125.6h0M375.9 148.9h0M376.8 137.5h0M377.9 142.2h0M374.6 132.2h0M377.7 146.4h0M380.7 124.9h0M379.1 147.8h0M377.4 153.1h0M376.1 140.2h0M383.1 127.6h0M372.6 153.9h0M376.8 137.1h0M375.3 135.5h0M374.8 161.3h0M376.6 132.2h0M376.4 135.8h0M380.9 137.8h0M381.5 139.2h0M380.4 128.7h0M378.8 156.3h0M376.1 126.1h0M375.9 134.6h0M381.4 140.6h0M378.8 142h0M372.3 134.6h0M375.9 131.3h0M373.5 139.4h0M377.5 131.7h0M379.8 140.3h0M380.6 128.1h0M377 136h0M377.3 149.4h0M376.7 142.9h0M373 151.5h0M375.8 151h0M376.8 147.5h0M377.9 139.8h0M378.5 139.7h0M376.8 131.7h0M378.4 158.9h0M373 157h0M377 153.2h0M381.9 131.2h0M375.6 130.7h0M380.2 135.7h0M376.9 134.1h0M377.6 134.1h0M378 128.6h0M379.5 157.2h0M373.2 148.2h0M372.1 155.9h0M380.5 140.4h0M379.3 135.8h0M380.4 140.3h0M376.4 113.4h0M380.7 124.8h0M372.2 126.2h0M371.5 137h0M380.3 142.3h0M377.6 147.1h0M378.5 149.1h0M375.9 141.4h0M374.7 137.7h0M378.4 121.1h0M374.4 135.4h0M376.7 134.1h0M377.2 137h0M381.4 144.6h0M380.1 131.9h0M378.1 145.9h0M378 143.8h0M372.5 148.4h0M379.4 133.5h0M378.4 159.8h0M378.8 140.5h0M376.8 136.6h0M376.9 155h0M379.1 151.2h0M376.7 145.3h0M375.3 141.4h0M377.5 138.4h0M377.3 141.4h0M375.7 148.8h0M373.3 138h0M380.1 150.3h0M372.6 137.3h0M380.8 143.7h0M377.4 147.1h0M377.2 138.9h0M376.6 147.1h0M376.4 145.5h0M375 134.5h0M376.5 134h0M375.4 141.7h0M379.2 152.7h0M372.8 158.2h0M375.3 133.3h0M375.5 143.2h0M381.7 149.9h0M378.7 141.4h0M378 151.9h0M380.6 136.1h0M375.6 134.7h0M374.7 138h0M379.2 137.2h0M376.6 141.4h0M383.1 128h0M378 138.8h0M380 135.4h0M377.1 155.4h0M376.9 140.6h0M378.1 135.9h0M381.5 143.2h0M378.1 154.9h0M381.1 124.1h0M377.1 137.8h0M375.8 137.7h0M376 139.9h0M378.3 149.7h0M376.8 143.2h0M375.5 146.7h0M378 147.7h0M376.9 135.9h0M380.4 127.7h0M375.6 138.5h0M381.4 137.5h0M380 134.9h0M380.5 134.9h0M379.4 137.3h0M381.9 140.2h0M378 143.5h0M376 150h0M373.2 143.8h0M379.9 136.8h0M380.1 137.6h0M378.6 139.7h0M377.3 140.1h0M379.2 142.3h0M378.5 148.2h0M375 135.4h0M381 145.7h0M377.4 126.8h0M377 145.4h0M378.5 148.5h0M382 130.4h0M376.1 149.7h0M377.1 142.1h0M376.4 141.7h0M375.1 142.2h0M372.9 146.7h0M379.3 129.6h0M375.9 141.7h0M378.6 128.9h0M381.8 133.2h0M378 144.3h0M377.6 125.5h0M375.7 147.5h0M377.8 144.9h0M374.4 133.4h0M373.4 135.5h0M375.3 135.2h0M377.6 138.9h0M376.4 152.8h0M376.9 157.5h0M375.5 137.7h0M375.1 134.7h0M379 133.8h0M379.8 139.6h0M380.2 138.3h0M379.4 144.5h0M377.2 155.2h0M377 141.6h0M373.4 136.3h0M372.7 136.5h0M377.7 127.2h0M375.9 147.7h0M375.8 133.3h0M379.9 139.2h0M377.8 139.7h0M376.3 144.1h0M375.6 134.6h0M375.7 125.1h0M379.5 151.2h0M377.4 139.1h0M380.5 134.1h0M372.5 154.7h0M379.1 123.9h0M377.4 142.4h0M377.4 123.6h0M379.3 142.8h0M374.7 144.7h0M376.8 130.7h0M377.2 130.9h0M379 138.9h0M377.6 141.3h0M377.4 142.4h0M373.1 139.7h0M376.7 138.8h0M377.1 141.5h0M378.5 145.7h0M372.9 160.5h0M378.5 138.4h0M379.9 145.3h0M378.9 136.5h0M378.2 135.9h0M378.1 156.5h0M376.7 138.4h0M373.3 157h0M376 147.7h0M377.8 151.1h0M375.7 131h0M379 126.9h0M379 156.2h0M373.4 138.7h0M378.8 135.7h0M381.9 137.7h0M375.3 141.1h0M378.7 125h0M379.8 152.2h0M374.4 140.1h0M378.2 147.8h0M379.7 155.6h0M376 145.2h0M378.6 131.3h0M378.2 145.9h0M379.8 136.3h0M375.3 142.4h0M378.9 141h0M382.3 139.3h0M373.5 132h0M379.1 123.8h0M382.2 143.2h0M379 132.7h0M379.3 143.5h0M379.1 133.9h0M375.6 137.4h0M373.7 151.3h0M375.1 127.3h0M377.4 135.2h0M378.5 141.7h0M376 142.6h0M379.9 133h0M380.3 136.8h0M376.2 126h0M376.9 154.9h0M371.4 134.1h0M377.1 144.8h0M377.8 128.8h0M382.9 132.8h0M376 133.7h0M381 130.8h0M379.7 130.9h0M379 144.7h0M379.7 135.2h0M380 126.2h0M377.8 148.8h0M380.2 145.9h0M372.4 143.1h0M378 142.9h0M378.1 141.2h0M381.7 129.9h0M379.3 146.4h0M376.9 142.8h0M376.2 141h0M375.9 145.1h0M380.3 140.2h0M376 133h0M377.6 146.7h0M372.9 134h0M375.3 127.7h0M375.7 149.7h0M381.8 131.9h0M377.8 139.4h0M375.7 151.3h0M377.1 140.4h0M384 141h0M377.2 131.9h0M380.3 130h0M375.4 130h0M376.7 143h0M376 136h0M376.1 134.5h0M382.2 141.1h0M376.3 128.7h0M379.3 143.2h0M375.2 149.4h0M376.2 147.7h0M376.8 151.8h0M379 139.1h0M377.5 132.5h0M374.5 140.6h0M375.8 135.6h0M377.7 128.2h0M375.2 147.5h0M379.5 136.3h0M374.4 146.5h0M374.1 150.1h0M382.3 128.3h0M382.9 131.9h0M381.1 139.8h0M375.9 132.4h0M379.2 142.3h0M372.3 142.6h0M375.8 136.6h0M384.1 137.7h0M379.4 126.6h0M378.3 129.4h0M377.7 143.3h0M378.6 127.9h0M378 140.7h0M373.4 143.7h0M383.7 129.2h0M377.7 127h0M376.8 147.7h0M375.8 151.4h0M375.4 158.3h0M377.8 143.7h0M378.5 146.7h0M374.5 129.8h0M377.4 134h0M374.6 144.9h0M382.6 131.4h0M380.9 139.7h0M376.2 151.9h0M377.9 136.4h0M378.5 137.6h0M374.8 137.3h0M381.1 142.2h0M378.9 144.8h0M374.7 144h0M376.4 132.4h0M377.2 130.5h0M375.6 149.4h0M374.9 160.1h0M375.3 149.9h0M373.8 162.3h0M380.6 133.1h0M377.9 143.4h0M372.9 125.3h0M375.3 150.3h0M377.5 143.4h0M378.4 132.3h0M380.2 129.1h0M378.2 133.6h0M381.1 141.6h0M379.7 136.2h0M378.5 135.8h0M376.9 132.2h0M383.3 139.1h0M379.1 139.5h0M377.6 138.5h0M378.2 126.2h0M378.9 149.7h0M379.6 128.6h0M378.1 140.3h0M373.1 143.1h0M378.8 136.7h0M374.1 137h0M379.3 147.9h0M380.2 128.3h0M378.6 149.6h0M378 124.5h0M376.2 133.5h0M375.3 143.5h0M373.4 154.4h0M379.2 164.7h0M379.9 123h0M376.2 132.1h0M379.5 143.4h0M379.2 148.6h0M377.7 141.4h0M373.4 158.8h0M378.9 143.6h0M377.5 133.9h0M382.4 125.7h0M378.5 132.4h0M376.3 144.8h0M381.8 141.3h0M376.6 164.4h0M376.7 161.8h0M375.9 167.5h0M376.6 162.4h0M372.2 172.9h0M377.9 160.6h0M374.6 170.4h0M382.1 166.5h0M374.4 172.5h0M373.8 163.6h0M378 162.7h0M378.3 163.9h0M382.7 170.7h0M375.1 163.5h0M378.1 165.8h0M373.3 169.4h0M378.1 163.7h0M377.8 169.3h0M375.4 171.1h0M380.2 156.2h0M378 173.4h0M379.2 165.5h0M377.4 167.1h0M377.4 172h0M376.7 165.1h0M377.9 170.9h0M379.7 170.6h0M374 164.6h0M377.4 171.7h0M377.4 171.8h0M374.7 165.3h0M375.2 169.5h0M383.3 166.6h0M377.1 156.7h0M376.2 162.1h0M377.5 166h0M379.9 161.4h0M373.6 162.3h0M376.3 165.4h0M378.9 161.6h0M377.6 168.9h0M376.1 169.4h0M375.3 166h0M374.9 168.6h0M378.4 171.4h0M373.1 166.9h0M373.4 172.5h0M377 161.9h0M380.5 159.9h0M374.5 160.4h0M375.9 168.1h0M373.5 167.2h0M377 173.8h0M376.4 164.7h0M378.9 168.6h0M374.6 167.3h0M375.1 162.4h0M378 164.4h0M374.9 173.3h0M374.9 158h0M379.6 170.9h0M375.7 165.1h0M379.3 165.2h0M373.3 164.7h0M377.9 167.7h0M378.6 166.5h0M373.4 167.4h0M376.3 165h0M371.8 154.1h0M381.1 165.1h0M376.1 166.3h0M374.8 168.9h0M374.3 172.2h0M380.9 164.5h0M377.8 168.3h0M379.5 167.4h0M377.9 169.7h0M376.6 172.6h0M377.7 171.4h0M376.4 168.2h0M377.7 162.7h0M377 170.1h0M378.4 172.4h0M376.2 162.4h0M377.8 161.7h0M378 159.4h0M373.9 169.4h0M375.8 165h0M379.5 172.5h0M378.4 168.1h0M380.1 168.8h0M377.7 166h0M381.4 167.3h0M378.1 167.3h0M379.1 165.4h0M380 167.8h0M376.7 162.3h0M372.1 172.7h0M376.5 168.7h0M379.8 170.7h0M375.1 159.5h0M374.2 168h0M374.1 165.8h0M381.4 164.2h0M375.8 159.8h0M374.5 163.8h0M375.2 165.8h0M377.6 168.2h0M375.9 164.2h0M378.3 159.9h0M375.9 165.7h0M376.3 164h0M377.6 164.1h0M381.1 165.3h0M374.8 169.7h0M372.7 163.8h0M381.1 167h0M380.5 169.8h0M376 165.9h0M378.9 168.7h0M377.3 163.7h0M378.7 163.3h0M373.1 166.8h0M377.5 161.1h0M377.7 103.7h0M376.3 123.5h0M379 131.5h0M380.2 96.2h0M379 124h0M378.7 143.1h0M383.7 103.9h0M383.2 121.2h0M377.4 117.7h0M376.9 144h0M378.1 135.7h0M380.8 131.7h0M372.8 149h0M380 123.6h0M378.6 108.8h0M383.5 95.7h0M377.9 123.1h0M374.3 116.9h0M383 127.5h0M385.6 125.6h0M387.2 126.6h0M378.7 143.4h0M380.5 109.7h0M375.1 105h0M383.7 103.3h0M389.8 103.8h0M383.6 96.3h0M377.1 144.3h0M382.9 105h0M380.7 124.8h0M383.9 110.8h0M377.2 107.8h0M375.8 139.1h0M376.5 118.5h0M381.9 122.9h0M372 133.6h0M371.5 120.6h0M377.7 134.4h0M380.8 109.5h0M382 123.9h0M378.5 113.9h0M376.5 130.3h0M379.9 122.7h0M373.6 121.8h0M380 132.4h0M376.7 111.7h0M446.4 155.3h0M412.8 138.6h0M424.6 135.2h0M431.7 145h0M407.9 147.2h0M448.6 132.9h0M386 140.9h0M450.3 150.6h0M450.2 132.4h0M506.8 131.6h0M417.3 141.1h0M409.5 138h0M442.8 140.1h0M434.1 135h0M437.4 131.5h0M414 132.1h0M451.2 135.2h0M463 118.9h0M452.7 139.2h0M434.1 151.4h0M432.8 129.3h0M467.6 124.4h0M492.8 147.5h0M468.7 140.8h0M436 138.4h0M455.6 126.3h0M427.8 123.5h0M475.1 141.9h0M407.5 142.7h0M394 129.6h0M482.5 141.8h0M430 141.2h0M487.4 136.5h0M437 127.7h0M395.2 129.8h0M447.7 124.8h0M430.8 115.8h0M452.7 115.8h0M422.9 136h0M432.2 139.3h0M427.4 128.6h0M401.9 132.1h0M460.7 149.4h0M438.3 136.2h0M468.3 143.6h0M428.7 146.6h0M459.2 124.9h0M461.5 142.3h0M416.2 121.3h0M427.5 138.8h0M471.2 126.1h0M379.8 141.3h0M441.4 124.8h0M419 127.8h0M417.1 141.7h0M459.4 130.7h0M461.8 131.8h0M455.2 143.7h0M459.2 140.6h0M393.8 129.8h0M442.9 139.5h0M398.1 140.2h0M457.3 133.4h0M453.3 138.5h0M442 138h0M456.5 137.7h0M376.5 140.6h0M450.2 147.4h0M464.6 134.3h0M441.4 140.3h0M454.5 130.6h0M451.8 133.6h0M415.9 142.6h0M413.9 142.3h0M442 151.1h0M423.1 132.5h0M378.2 130.6h0M429.1 123h0M450.7 125.5h0M456.6 128.2h0M432.6 139.6h0M437.8 128.4h0M411.2 139.3h0M449.8 129.5h0M454.1 130.8h0M427.1 144.8h0M449.1 140.6h0M426.4 132.1h0M403.8 144.9h0M456.7 125.8h0M452.1 136.3h0M403.9 123.4h0M439.1 142.6h0M408.7 138.6h0M445.2 131.6h0M432.9 131h0M375.5 144.1h0M430.5 135h0M381.1 126.8h0M407.7 120.6h0M427.3 145h0M410.7 146.7h0M384.5 142.7h0M402.7 139.8h0M438.6 135.7h0M455 132.8h0M399.4 126.6h0M439.1 140h0M431.5 133.2h0M398.2 138.8h0M405.3 134.2h0M394.7 134.4h0M455.8 142.3h0M421 157.2h0M419.5 145.5h0M404.6 131.5h0M417.3 135.1h0M421.7 145.4h0M455.2 154.1h0M449.5 122.8h0M425.2 133.5h0M453.9 120h0M393.6 136.5h0M471.4 133.1h0M443.8 136.4h0M409.1 142.4h0M383.2 123.5h0M451.5 129.4h0M417.6 136.2h0M496.3 130.8h0M463.5 130.4h0M395 122.6h0M430.3 117.7h0M413.6 133h0M445.3 148.4h0M423.4 148.4h0M424.3 155.8h0M435.1 142.8h0M482.9 133.4h0M435.4 120.7h0M469.1 137.9h0M421 129.1h0M437.8 130.7h0M413.6 122.5h0M429.3 124.1h0M417.6 140.9h0M434.9 129.5h0M380.3 131.5h0M435.7 138h0M461.3 144.8h0M400.6 124.2h0M423.6 150h0M444.7 133.8h0M430.8 131h0M451 137.9h0M440.1 119h0M424.3 129.8h0M443.7 134.9h0M492.9 131.6h0M438.8 128.1h0M453.4 138.3h0M443.8 134.8h0M429.4 129.7h0M422.9 128.8h0M371.8 131.5h0M468.4 128.9h0M418.7 144.2h0M448.2 139.8h0M401.5 124.4h0M418 130.3h0M439.4 124.2h0M439.8 138.7h0M465 138.9h0M392.3 132.2h0M409 134.1h0M453.6 138h0M382.2 134.7h0M458.3 145.9h0M446 133.9h0M417.1 142.3h0M411 149.8h0M434.2 123.8h0M410.7 126.9h0M445.7 122.9h0M407.6 129.2h0M430 133.4h0M443.1 137.5h0M435.5 119.9h0M453.2 133.9h0M429 131h0M464.4 143.7h0M408.9 125h0M452.7 137.1h0M428.1 146h0M490.6 138.1h0M399.9 122.9h0M436.5 125.6h0M416 119.6h0M416.8 146.6h0M406.5 134.7h0M453.9 137.9h0M384.4 137h0M403.1 147h0M425.3 131.4h0M419.5 138.3h0M418.9 145.9h0M424.9 130.8h0M432.8 123.6h0M386.3 128.8h0M437 115.1h0M396.1 124.5h0M430.7 132h0M430.9 129.7h0M373.4 131.9h0M398.5 130.1h0M402.1 125h0M372.4 141.1h0M460.1 122.3h0M402 125.9h0M434.5 128.3h0M412 138h0M390.4 134.4h0M448.5 128.8h0M432.8 129.3h0M393.6 142.2h0M418 145.5h0M444.1 133.4h0M396 126.5h0M446.6 136.6h0M424.8 148h0M460.5 129.3h0M473.1 137.7h0M396.8 124.6h0M451.6 133.5h0M437.2 140.7h0M400.5 136.1h0M459.7 127.2h0M398.4 130.5h0M433.9 130.5h0M423.7 138.1h0M428.9 132.6h0M433.9 143.2h0M439.5 144h0M401.9 136.4h0M417.1 144.3h0M447.6 138.3h0M448.3 139.8h0M445.5 149.7h0M460.4 127.4h0M404.3 140.3h0M417.6 118.2h0M424.3 127.5h0M440.8 134.4h0M444.6 134.7h0M456.4 146.2h0M438.1 135.6h0M432.6 148.3h0M401.9 127.5h0M431.6 134.1h0M401 128.9h0M402.1 115.2h0M414.8 130.1h0M440.5 135.1h0M468.8 129.2h0M401.2 127.2h0M402.1 127.5h0M477.3 126.3h0M501.6 130.4h0M431.5 120.8h0M455.9 135.5h0M458 112.5h0M450.4 118h0M415 130.7h0M446.1 137.2h0M423.8 130.6h0M416.2 120.8h0M466.9 131.8h0M423.9 121h0M425.7 136.5h0M417.2 146.9h0M449.7 136.5h0M419.2 124.8h0M427.7 138.2h0M431.9 144.4h0M433.5 124.6h0M432.2 140h0M435.6 130.1h0M431.6 136.9h0M400 138.8h0M457.4 126h0M419.1 121.9h0M424.7 153.6h0M401.4 147h0M415.5 145.8h0M414 137.2h0M430.1 136.2h0M409.6 138.5h0M426.9 131h0M373.6 132.3h0M456.5 138.5h0M466.8 138.9h0M404.3 131.7h0M394.2 129.4h0M459.6 147.3h0M424.5 131.3h0M464.7 135.2h0M389.2 129.1h0M452.6 119.2h0M483.9 123.4h0M437.3 111.2h0M420.3 118.9h0M408.8 142.3h0M388 130.6h0M434.8 106.7h0M417.1 127.1h0M398.7 143.7h0M443.5 120.5h0M428.4 141.2h0M411.8 123.1h0M445.5 128.8h0M385.7 128.6h0M432.7 139.4h0M410.2 126.3h0M418.3 130.1h0M410 124.5h0M452.6 140.9h0M465.3 135.1h0M394.8 120.6h0M446.4 125.4h0M441.2 129h0M428.4 130.2h0M461.3 131.5h0M479.1 135.9h0M380.4 131.6h0M432.9 142h0M445.1 125.6h0M424.2 135.5h0M394.2 143.6h0M423.4 138.8h0M387.9 138h0M430 130.9h0M450 124.6h0M476.2 119.6h0M413.3 126.8h0M440.2 126.6h0M434.9 144.4h0M425.8 123.4h0M462.9 137.8h0M411.1 134.4h0M442.1 149.4h0M469.3 125.3h0M446.1 145.1h0M389.2 120.7h0M423.6 138.4h0M449.3 145.7h0M430 128.4h0M414.6 135.9h0M416.4 141.6h0M407.8 126.1h0M456.7 124.9h0M414.3 120.2h0M447.9 133.1h0M445.7 124.6h0M463.3 148.4h0M482 134.1h0M418.6 142.6h0M396.9 133.2h0M430.7 151.7h0M475 145.5h0M446.9 131.4h0M426.2 133.7h0M479.1 116.4h0M435.4 136h0M430.3 124.7h0M491.2 141.2h0M411.3 139.8h0M428.3 126.6h0M460.4 142.1h0M428 123.4h0M432.1 125.7h0M436 116.9h0M416.3 127.5h0M416.2 126.8h0M472.9 138.6h0M437.4 140.6h0M381 129.7h0M435.8 142h0M405.9 143.6h0M408 114h0M476 130.7h0M454 131.5h0M440.5 148.2h0M431.2 139.6h0M398.3 135.3h0M421.5 127.7h0M443.6 137.7h0M446.6 144.7h0M376.4 131.4h0M416.5 124.2h0M418.4 141.4h0M444 120.3h0M405 130.1h0M426.7 141.2h0M381.4 124.6h0M398.7 131.3h0M433.6 121.8h0M439.7 147.5h0M433.5 132.9h0M422.7 137.9h0M389.2 127.8h0M412.3 149.4h0M422.5 145.2h0M420.4 134.1h0M416.7 137.6h0M448.6 119.3h0M414.7 135.3h0M424.8 144.1h0M436.8 129.2h0M450.5 131.2h0M457.9 130.5h0M392.4 136.7h0M458.3 135.5h0M440 119.1h0M445.4 139.7h0M449.3 130h0M408.7 132.6h0M430.8 129.7h0M484.8 129h0M491.3 135.8h0M479 132.2h0M410.7 142.7h0M419.2 129.9h0M450.2 131.3h0M444.6 131.7h0M398.2 133.3h0M448.7 129.7h0M439.5 146.1h0M374.6 135h0M412.1 133.6h0M444.1 136.7h0M457.3 140h0M408.4 142.8h0M439.2 132.4h0M428.5 134.5h0M399 135.4h0M445.6 128.7h0M423.2 128h0M428.8 132.1h0M390.5 136.1h0M394.7 132.4h0M437.7 112.9h0M418.8 123.1h0M469.4 135.1h0M454.2 129.9h0M447.5 133.4h0M435.2 129.1h0M444.3 142.4h0M428 137h0M436.8 139.8h0M474.6 123.8h0M485.3 143.4h0M482.8 128.4h0M413.3 149.2h0M400.5 129.4h0M424.5 131.9h0M453.4 118h0M442.1 135.4h0M439.1 125.8h0M475.7 128.4h0M404.3 139.7h0M454.6 152.5h0M427.9 128.5h0M422.5 122.5h0M451.2 115.1h0M407.7 127.5h0M434.7 136.3h0M408.7 121.4h0M402.2 124.3h0M464 145.5h0M420.9 142.6h0M474.4 144h0M404.6 124h0M419.3 126.5h0M421.6 123.9h0M442.7 130.6h0M382.5 130.1h0M415.4 136.9h0M385 138.4h0M395.5 137.5h0M432.2 140.3h0M432.3 141.6h0M471.8 131.3h0M479.4 131.6h0M440.7 127.6h0M428.7 151.2h0M465.7 132.9h0M433.4 126.1h0M455.5 126.8h0M418.8 130.1h0M441.1 132.6h0M403.2 133.5h0M441.5 147.6h0M440.1 127.8h0M445.6 134.5h0M440.3 145.1h0M443.5 122.3h0M421.3 124.5h0M458.7 143.3h0M434.8 124.2h0M400.2 136.6h0M427.9 125.9h0M469.2 140.5h0M445.1 149.1h0M454.2 128h0M445.2 125.7h0M412 133.6h0M490.9 125.4h0M450 123.3h0M482.6 127.4h0M391.7 130.6h0M386.6 146.4h0M423.9 140.3h0M469.6 143.4h0M471.9 142.2h0M459.6 131.6h0M458.6 124.4h0M441.1 139.6h0M417.8 125.9h0M442.8 145.1h0M431.1 130.8h0M450 127.5h0M454 138h0M414.1 136.1h0M417.2 137.9h0M481.2 130.1h0M400.7 135.9h0M441.5 121.8h0M405.7 137h0M437.6 120.8h0M449.6 136.2h0M406.2 136.2h0M438.4 142.8h0M440.5 137.8h0M406.1 125h0M480.3 131.9h0M431 140.5h0M482.8 141.4h0M391.6 128.3h0M389.4 137h0M420.3 145.8h0M458.4 128h0M441.7 138.2h0M439.6 138.1h0M409.4 132.4h0M430.6 136.4h0M450.3 146.6h0M458.3 138h0M427.9 135.4h0M419.2 132.7h0M434.7 130.9h0M481.3 124.4h0M461.4 125.4h0M435.5 121.2h0M404.3 131.1h0M435.6 125.5h0M423 119.5h0M416.2 143h0M477 142.4h0M401.5 144.7h0M434.5 146.6h0M428 133.2h0M438.9 113.6h0M397.9 137.1h0M416.2 132.9h0M410 120.5h0M469.1 112.9h0M409.6 142.4h0M390.9 142.2h0M392.8 144.1h0M453.6 146.4h0M444.6 144.2h0M407 136.7h0M424.5 142.3h0M396.9 138h0M443.6 135.4h0M438.4 139.4h0M479.5 130.4h0M410.2 126.8h0M443.8 151h0M443.6 136.6h0M431.8 137.1h0M407.4 137.7h0M412.2 144.7h0M428.7 134.9h0M422.8 137.4h0M415.1 138.3h0M438.1 140.1h0M417.8 134.9h0M417.1 141.9h0M417.1 133.2h0M409.2 135.9h0M428.4 128.3h0M396.6 136h0M417.5 135.2h0M425.6 134.5h0M436.2 133.4h0M424.7 138.5h0M402.8 139h0M426.8 147.8h0M426.3 133.6h0M418.1 138.8h0M410.1 138.4h0M402 141.5h0M412.9 133.4h0M419.5 133.2h0M450.3 137.2h0M423.2 133.5h0M418.9 136.2h0M396.4 131.9h0M402.5 135.8h0M409.6 140.6h0M415.2 136.3h0M415.3 137.9h0M429.7 140h0M435.3 140.3h0M432.1 138.2h0M408.8 128.4h0M411.5 130.6h0M406.8 142.1h0M398.9 131.8h0M400.9 134.6h0M421.6 140.8h0M407 131.5h0M424.4 126.7h0M413.5 131.7h0M410.7 139.3h0M417.4 140.3h0M417.9 138.7h0M451.4 147.4h0M408.5 141.1h0M420.5 127.3h0M400.3 126.9h0M412.1 134.8h0M434.4 128.1h0M424 140.3h0M439.5 127.4h0M396.3 135h0M406.4 130.6h0M418.5 138.4h0M404 144.4h0M408.5 135.7h0M400.3 123.6h0M425 132.8h0M411.9 131.8h0M415.7 135.8h0M401 141.8h0M411.7 133.4h0M437.1 133.1h0M425.7 129.4h0M416.8 128.3h0M406.2 129.3h0M413.2 134.6h0M417.5 138.4h0M440 137.3h0M419.1 133.1h0M413.8 137h0M414.4 132.3h0M403.6 139.7h0M419.5 129.7h0M404.1 127.5h0M407.7 135.7h0M411.4 132.4h0M442.8 142.7h0M437.6 133.6h0M414.1 137h0M426.7 137.5h0M419 141.3h0M424.3 141.8h0M415.9 129.6h0M426 126.9h0M437.5 132.9h0M416.3 138.3h0M432.5 140h0M417.1 132.9h0M427.4 144.7h0M404.1 134.6h0M424.3 142.2h0M407.1 135h0M408.2 129h0M418.2 133.4h0M444.5 140.8h0M421.3 140.7h0M431.5 137h0M424.4 145.7h0M413.7 137h0M402.5 138.4h0M404.9 138.1h0M395.2 133.9h0M422 131h0M427 136.8h0M488.5 131.6h0M429 153.3h0M501.5 148.6h0M419.6 113.5h0M398.3 112.4h0M420.8 115.8h0M488.5 124.3h0M493.1 123.8h0M483.1 132.2h0M511.4 122.6h0M468 142.9h0M429.8 119.1h0M444.9 114.5h0M397.3 121h0M402.8 138.6h0M498.5 132.5h0M433 117.4h0M398.7 122.2h0M501.9 119.1h0M405.1 124.6h0M466.6 121.7h0M444 112.5h0M424.1 134.2h0M410.9 121.3h0M462.1 111.8h0M457 153.6h0M446.2 125.7h0M511.4 126.5h0M506.4 148.3h0M471.9 136.2h0M415.2 147.5h0M398.1 146h0M418.4 137.8h0M422.6 138.8h0M476.6 117.1h0M498 124.2h0M511.1 132.5h0M436.4 151.1h0M401.7 143.8h0M445.3 112.4h0M502.5 130.2h0M470.1 123.9h0M495.7 131.5h0M464.1 132.7h0M419.8 155.6h0M483.1 128h0M499.9 151.7h0M486 137.1h0M415.8 118.8h0M392.1 110.8h0M414.2 112.3h0M419.7 136.9h0M398.3 152.4h0M466 133.4h0M423.8 119h0M404.8 144.4h0M435.7 140.9h0M453.6 137h0M462.6 112.8h0M503.4 124.9h0M438.2 111.4h0M459.9 145.3h0M409 129.1h0M414.6 113.1h0M423.6 133.5h0M456.1 117.3h0M422 133.5h0M485.3 116.2h0M434.7 114.4h0M437.5 154.7h0M392.9 110.4h0M475.8 152h0M434.1 110.9h0M496.5 143h0M475.1 111.1h0M471.2 145.8h0M417.2 132.2h0M474.2 153.4h0M476.6 152.7h0M423.5 118.5h0M460.9 146h0M394.3 146.6h0M456.8 120.1h0M394.4 134h0M431.8 120.4h0M410 142.4h0M462.6 153.8h0M431.3 122.7h0M411.6 152.9h0M395.1 137.7h0M475.2 125.7h0M431.4 128.5h0M453.1 115.3h0M473 147.5h0M488.3 132.9h0M510.7 151.3h0M413.2 145.2h0M430.9 143.7h0M452.4 136.6h0M438.7 115.6h0M449.6 122.3h0M440.5 125.1h0M460 112.3h0M451.8 117.3h0M461.5 142.2h0M473.6 112.7h0M433.7 128.4h0M444.6 112.2h0M425.3 111h0M415.4 123.8h0M487.1 127.5h0M496.7 146.7h0M473.7 152.3h0M434 125.6h0M470 155.8h0M439.3 137h0M428.1 146.9h0M480.1 141.3h0M398.8 118.6h0M434.9 143.8h0M421.4 121.1h0M442.8 143.1h0M454.5 152.4h0M443.9 139.2h0M453 150.2h0M512.6 136.8h0M496.3 149.4h0M422 115.5h0M419.3 144h0M493 141h0M395.9 122.2h0M423.3 155.4h0M440.5 116h0M406.8 115h0M449 119.1h0M415.3 134.6h0M428.2 140.3h0M411.9 119.2h0M479.5 140.9h0M404.6 130.8h0M425.7 131.4h0M442.3 140h0M420.6 119.6h0M448.4 124.3h0M505.5 132.4h0M471.8 116h0M493.9 124.9h0M500.7 147.9h0M484.1 135.8h0M456.6 154.9h0M397.6 126.5h0M455.9 114.9h0M482.7 128h0M411.4 126.9h0M485.1 112.2h0M483.4 126.6h0M500.2 147.3h0M407.6 130.8h0M401.1 132.4h0M504.4 131.6h0M437 136.7h0M422.8 116.2h0M511 142.6h0M466.3 150.8h0M398 110.6h0M418 135.3h0M495.5 126.1h0M392.2 135.6h0M496.3 137.5h0M443.2 119.6h0M456 142.9h0M420.3 124.5h0M414.4 145.8h0M411 145.4h0M465.5 129.3h0M506.7 138.8h0M509.1 150h0M456.4 150.8h0M487.3 119.5h0M483.2 120.1h0M421.2 122.2h0M489.6 149.9h0M483.2 135.5h0M496 128.8h0M512.5 131.6h0M412.6 139.9h0M406.6 153.9h0M483.8 112.5h0M405.7 151.9h0M453.8 129.4h0M452.5 127.2h0M498.7 127.8h0M397.3 151.2h0M456 129.7h0M406.8 97.4h0M477.4 95h0M399.8 100.3h0M503.7 102.8h0M437.2 100.6h0M491.1 95.1h0M447.3 66.1h0M485.2 99.8h0M404.7 105.9h0M471.1 89.7h0M447 98.1h0M467.2 107.2h0M493.9 102.7h0M429.6 62.4h0M506.1 93.1h0M428.4 96.1h0M408.3 52.3h0M476.2 106.1h0M422.7 105.2h0M488.5 80h0M498.5 83.3h0M445.1 20.8h0M402 83.7h0M416.1 107.5h0M485 95.9h0M508 46.5h0M451.1 103.5h0M443.9 103.7h0M478.7 91.9h0M438.1 101.1h0M419.7 97.9h0M408.3 96.2h0M464.2 103.2h0M487.3 80.8h0M420.2 98.8h0M448.7 82.3h0M474.5 75.1h0M464.4 101.2h0M446.6 97.8h0M395.8 91.9h0M449 95.8h0M419.5 105h0M501.6 96.9h0M483.9 93.4h0M467.9 69.2h0M469.4 79.2h0M431.2 91h0M464.4 91.9h0M445.4 81.4h0M493.8 100.8h0M493.4 96.2h0M493.8 99.7h0M492.8 106.4h0M442.3 94.3h0M435.8 107.8h0M430 83.8h0M447.7 99.7h0M409.8 107.3h0M504.2 99.3h0M426.4 106.3h0M450.3 107.8h0M421.7 104.1h0M400.3 106.6h0M446.4 88.5h0M471.6 93.6h0M475.7 103.2h0M425.5 104.5h0M402.5 91.3h0M473.3 107.8h0M500 103.9h0M470.7 86.3h0M456 104.6h0M482.9 103.4h0M490.4 94.3h0M413.1 67.9h0M407.1 89.7h0M445.3 94.2h0M406.4 89.9h0M449.2 101.2h0M448.3 82.1h0M432.8 62.4h0M447 107.5h0M444.6 77.7h0M431.3 97.8h0M510.4 107.3h0M511.2 101.6h0M399.3 87.2h0M446.6 87h0M428.4 106.8h0M394.9 102.1h0M453.2 71h0M437.4 95.1h0M411.9 95.3h0M503.1 75.7h0M451.4 103.3h0M435.8 104.4h0M422.3 97.8h0M452.4 101.2h0M503.7 106.2h0M441.5 96.7h0M438.6 72.1h0M412.2 100.8h0M486.8 97.9h0M411.8 107.7h0M441 81.4h0M451.3 106.7h0M434.2 95.7h0M424 32.4h0M432.4 25.5h0M430.8 33.6h0M465.3 38.1h0M507.8 33.8h0M472 54.2h0M474 38.1h0M419 58.1h0M480.8 25.5h0M457.7 58.8h0M494.2 55.7h0M450.6 49.9h0M473.2 35.6h0M475.3 49.7h0M428.2 23.2h0M420.1 41.2h0M437.6 62.2h0M401.6 56.7h0M431.3 51.2h0M458.4 32.8h0M441.6 41h0M500.8 55.4h0M432.6 171.7h0M472.9 172.5h0M435.8 172.7h0M431.5 172.4h0M454.9 170.8h0M480.4 172.7h0M412.9 169h0M468.9 171.9h0M429.9 172.7h0M390.8 170.7h0M468.7 171.5h0M427.9 171.8h0M453.3 170.8h0M469.1 167.9h0M422.6 169.4h0M439.8 171.9h0M418.4 169.7h0M431.7 170.1h0M417.7 170.4h0M493.5 171.2h0M402.6 172.3h0M401 171.5h0M426.3 170.8h0M413.6 169.7h0M429.7 170.9h0M465.3 169.5h0M398.3 172.7h0M426 172.3h0M451.8 170.8h0M480.6 171h0M465.8 171.5h0M453.4 172.4h0M445.6 170.4h0M473.3 170.9h0M445.1 172.8h0M445.1 172h0M469.3 170.1h0M421.4 169.7h0M469.5 171.8h0M460.5 170.5h0M401.1 169.9h0M401.8 172h0M419.4 173.3h0M420.3 168.9h0M409.3 170.8h0M466.5 172.8h0M417.5 169.5h0M430.1 172.6h0M419.3 172.5h0M479.3 168.7h0M436 171.8h0M404.1 172.2h0M468.6 170.7h0M472.8 172.8h0M466.7 169.8h0M454.2 171.1h0M439.8 169.7h0M431.3 169.9h0M473.3 169.9h0M397 172.7h0M455.3 172.7h0M391.4 169.3h0M466.8 172.2h0M479.6 171.2h0M467.4 172.1h0M460.3 171.8h0M408.4 172.3h0M458.2 173.2h0M446.3 169.8h0M421.5 173.4h0M455 170.1h0M402.9 170h0M427.1 170.6h0M394 172.8h0M419.2 168.1h0M466.8 172.9h0M392.7 173.1h0M455.9 172.6h0M447.1 169.8h0M389.8 172.7h0M466.1 167.1h0M463.5 172.2h0M457.7 173.4h0M434.1 171.2h0M470 170.8h0M444.5 172.3h0M414.9 172h0M412.1 171.8h0M418 171.1h0M462.5 171.4h0M396.4 170.9h0M481.1 173.5h0M469.2 172.7h0M498.2 170.4h0M467.1 170.2h0M427.2 172.6h0M412.7 171h0M444.3 171h0M414.4 172.4h0M407.7 172.3h0M439.6 171.6h0M437.4 171.3h0M466.7 172.6h0M467.4 172.3h0M503.1 171.9h0M478.7 170.2h0M397.3 171.1h0M434.1 169.6h0M411.9 171h0M429.5 170h0M442.3 171.5h0M404.9 170.4h0M411.2 170.5h0M450 170.4h0M469.6 169.6h0M447.6 173.3h0M463.4 171.2h0M473.9 171.1h0M394.4 172.2h0M446.2 173h0M462.7 172.8h0M463 172.1h0M458.6 173.3h0M453.5 172.8h0M413.9 170.9h0M444.7 168.7h0M440 170.9h0M420.5 170.5h0M468.7 168.8h0M476.7 171.6h0M447 172.2h0M404.8 172.8h0M461.6 172.6h0M417.7 170h0M467.9 171.7h0M476.3 171.2h0M461.6 170.3h0M474 172h0M468.1 171.6h0M404.2 170.2h0M436.5 171h0M407.6 172.7h0M420.3 172.3h0M471.9 171.5h0M388.2 172.9h0M417.4 169h0M419.6 172h0M435.2 168.8h0M456.6 172.7h0M423.4 173h0M455 171.7h0M432.2 171.1h0M397.9 170h0M471.5 171.9h0M445.2 173.2h0M395.4 169.6h0M473 169.4h0M445.8 171.1h0M461.2 171.1h0M398.4 170.9h0M400.3 171.7h0M430.9 170.2h0M439.9 167.1h0M390.7 170.8h0M470.8 173h0M456.7 168.3h0M454.4 170.7h0M431 172.3h0M431.4 166.4h0M440.6 169.8h0M428.2 172.7h0M433.4 170.1h0M434.1 172.3h0M448.8 172.4h0M464.5 170.1h0M415.9 170.3h0M458.8 169.8h0M425.1 171.2h0M467.2 170.9h0M392 170h0M395.9 171.9h0M440.1 172.9h0M477.2 169.5h0M388.8 171.7h0M444.2 168.6h0M425.2 170.6h0M432.7 172.9h0M413.1 169h0M387.2 171.7h0M422.9 169.6h0M417 171.6h0M422 170.5h0M458.1 169h0M452.8 171.2h0M436.6 173.1h0M442.5 172.5h0M401.3 172.4h0M397.1 171.8h0M403.3 168.8h0M412 168.9h0M387.4 172h0M424.2 172.4h0M461.8 171.3h0M454.2 172.7h0M453.7 168.2h0M412.3 167.4h0M438.5 169.4h0M477.8 172.2h0M459.6 171.8h0M477.7 171.1h0M408.9 171.9h0M397 171.7h0M453.2 172.9h0M483 169.6h0M470.6 171.2h0M458.4 170.8h0M407.7 170.1h0M461.4 169h0M441.6 171.9h0M466.1 172.6h0M435.5 171h0M411.4 170.7h0M419.2 169.4h0M457.9 172.1h0M467.5 171.8h0M449 170.8h0M473.9 169h0M441.7 170.2h0M406.8 168.6h0M439.8 170.3h0M405 169h0M426.2 172.2h0M465.3 172.4h0M453.9 171.9h0M410.5 172.2h0M466.9 172.3h0M466.1 172.2h0M392.4 172.7h0M480 171.8h0M409.8 172.3h0M470.6 169.8h0M444.1 168.4h0M454.9 171.5h0M418.6 165.9h0M438.1 172.5h0M403.5 171.9h0M461.7 172h0M439.9 171.4h0M429.6 171.9h0M464.4 170.6h0M470.3 166.4h0M391.4 169.3h0M393.8 171h0M466.3 171.9h0M469 171.2h0M397.4 170.9h0M429.2 171.5h0M407.5 169.4h0M387 171.6h0M448.3 171.5h0M457.3 172.3h0M477.8 169.1h0M441 171h0M471.8 170.9h0M453.2 171.5h0M475.5 172h0M442.7 169.9h0M475.8 170.8h0M459.4 170.9h0M482.5 173.2h0M479.1 172h0M462.4 170.2h0M411.2 170.9h0M466.5 172.5h0M463.6 169.5h0M481.8 167.7h0M392.8 171.4h0M409.2 172.4h0M488.1 173.1h0M468.4 170.1h0M425.1 172.4h0M474.8 171.5h0M466 170.5h0M473.1 172.7h0M437.7 171.6h0M413.4 171.2h0M463.9 172.7h0M448.5 172.1h0M443.9 170.9h0M464.5 171.1h0M427.3 172.6h0M491.7 169.9h0M463.9 169.6h0M466.2 172.3h0M471.9 169.9h0M464 170.3h0M421.4 172.7h0M502.4 166h0M450.1 169.6h0M466.7 169.5h0M462.3 172.5h0M391.9 170.3h0M405.3 172.9h0M475.7 168.7h0M445.6 173.2h0M467.5 172.8h0M426.4 170.7h0M440.3 170.6h0M460 169.5h0M407.3 172.4h0M465.8 172.5h0M459.9 172h0M429.1 167.5h0M392.9 173h0M494.1 171.7h0M472.9 173.2h0M416.2 171.7h0M426.1 170.4h0M467.5 168.4h0M436.8 171h0M406.3 169.5h0M468.1 170.2h0M395 172.8h0M442.5 173.4h0M470.9 171.8h0M471.1 172.2h0M454.6 170.5h0M466.9 171.8h0M469.4 171.2h0M394.9 172.8h0M461.8 172.8h0M470.7 170.8h0M441.5 172.1h0M483.8 170.7h0M416 172.3h0M459.8 172h0M445 173.2h0M473.4 169.5h0M393.4 170.3h0M493.6 170.8h0M415.6 171.8h0M422.7 171.1h0M442.8 169.8h0M407.6 169h0M473.7 172.4h0M416.5 172.5h0M419.8 171h0M402.6 172h0M444.9 170h0M398.9 166.1h0M420.4 170.9h0M432.9 168.6h0M409 171.1h0M422 167.4h0M417.6 170.4h0M473.7 172.8h0M411.1 171.6h0M457.9 172.4h0M399.1 170.8h0M397 168.5h0M432 169.7h0M407.9 168.5h0M453.1 172.1h0M433.9 168.9h0M424.8 172h0M428.8 170.8h0M441.6 172.3h0M428 168.5h0M389 172.8h0M418.8 172.5h0M426.1 173.4h0M390.5 169.4h0M429.4 172.2h0M409.3 171.6h0M425.1 169.8h0M460.7 169.2h0M402.1 172h0M467.3 171h0M400.6 170.6h0M467.7 172.5h0M413.4 173h0M440 172.6h0M392.5 170.5h0M481.9 169.6h0M430.2 170.5h0M463.9 171h0M455 172.2h0M401.7 171.3h0M394.2 171.8h0M433.9 171.8h0M434.2 170h0M427.9 168.2h0M426.1 169.8h0M398.4 171.8h0M417.2 169.5h0M463.6 170.9h0M457.4 169.6h0M449.3 171.8h0M486.1 170.4h0M424.6 170.3h0M447.6 172.3h0M420.8 173.2h0M462.2 173.3h0M468.1 172.1h0M472.5 169.3h0M465.4 171.2h0M422.8 171.4h0M458.6 169.5h0M428.8 171.3h0M408.9 171h0M433.8 173.1h0M446.5 172.9h0M472.5 171.4h0M466.2 172.9h0M437.5 171.9h0M445.8 165.9h0M450.5 171h0M406.6 171.2h0M407.7 168.2h0M438.5 171.1h0M417.1 172h0M403.3 172.8h0M466.4 172.5h0M393.6 171.7h0M460.5 169.7h0M460.9 171.7h0M480 170.6h0M437 169.4h0M409.8 170.4h0M400.9 170.3h0M417.7 170.1h0M484.1 167.9h0M464.1 169.6h0M447.4 171.1h0M406.4 171.2h0M454.5 170.3h0M470.7 172.4h0M458.7 170.9h0M467.2 173.2h0M479.7 171.8h0M400.7 168.4h0M436.4 173.2h0M424.9 171.7h0M467.2 170.4h0M430.6 169.9h0M391 171h0M438.6 169.3h0M413.4 168.5h0M438.8 172.1h0M466.3 173.2h0M405.1 173h0M466.1 168.8h0M428.6 171.6h0M441.9 170.8h0M455.5 169h0M406.2 167.8h0M429.1 172.4h0M417.9 168.6h0M475.6 170h0M437.1 171.6h0M468.3 172.3h0M444.6 169.8h0M470.1 169h0M452.4 171.9h0M394.1 170.8h0M393.3 171.8h0M468.5 171.7h0M465.6 172.2h0M429.3 170.8h0M431.5 169.9h0M408 172h0M424.5 171.3h0M443.6 171.6h0M448 164.7h0M456.1 171.4h0M417.7 170.9h0M403.8 170.6h0M393.4 167.9h0M467.1 171.5h0M407.2 172.7h0M470.3 171.9h0M438.5 172.5h0M454.9 169h0M473 170.7h0M410.2 173h0M468.3 173.1h0M453.6 172.2h0M403.9 169.6h0M467.9 172.1h0M491 168.3h0M458.7 171.3h0M409.1 171.2h0M396.2 172.6h0M415.1 170.2h0M408.4 172.2h0M429.9 170.4h0M406.9 172h0M475.7 169.5h0M464.6 171.4h0M443.6 170.8h0M442.6 170.7h0M444.8 170.5h0M421.4 170.4h0M424.1 170.5h0M393.5 170.1h0M485.8 165.1h0M412.7 171.3h0M421.1 169.8h0M437.1 168.9h0M407.1 172.8h0M430.1 170.3h0M448.2 172.5h0M446.7 170.9h0M430 171.9h0M394.6 172.7h0M476.4 170.7h0M470.4 172.9h0M429.4 173h0M409.4 172.1h0M480.9 169.8h0M398.6 171.5h0M466.2 171.6h0M411.6 172.2h0M445.4 168h0M399.4 172.2h0M398.1 171.4h0M400.3 170.8h0M487.8 169.7h0M471 172.3h0M477.2 171.3h0M472.8 172.9h0M446.2 172.2h0M461.8 172.9h0M455.6 172.2h0M513.1 171h0M468 173.5h0M476.2 169.8h0M427.8 168.6h0M412 172.3h0M421.2 172.5h0M421.3 172.4h0M423.3 170.8h0M411.4 172.1h0M472.3 172.9h0M500.5 170.2h0M397.6 171.1h0M470 170.2h0M482.7 172.4h0M389.6 170.9h0M471.6 171.3h0M445.8 171.5h0M460.2 172.6h0M441.6 171h0M423.7 170.5h0M405.3 168.1h0M458 167.6h0M478 166.4h0M471.8 171.3h0M403.2 172.2h0M403.9 172.8h0M413.4 172.1h0M460.9 171.9h0M434.5 172h0M472.1 172.4h0M423.7 172.2h0M409.2 168.3h0M434.5 170.9h0M417.3 172.9h0M413.8 169.7h0M407.8 170h0M390.5 169.9h0M396.7 170h0M486.1 170h0M440.7 168.1h0M422.1 172.2h0M396.8 170.4h0M417.3 172.7h0M408.7 170.5h0M403.2 171.4h0M458.3 169.1h0M473.6 170.7h0M390 171.2h0M448.9 171.6h0M479.7 168h0M411.5 171.5h0M413.6 168.9h0M416.2 171h0M418.3 172.3h0M504 169.8h0M464.7 170.6h0M435.4 170.8h0M458.8 170.7h0M399 168.2h0M398.5 171.4h0M429.8 172.7h0M470.2 173.2h0M395.4 172.3h0M463.5 171.9h0M417.9 171.3h0M433.9 170.9h0M388.6 172.8h0M404.7 170.3h0M468.8 172.1h0M434.4 169h0M488.9 170.5h0M410.8 170.1h0M405.2 172.2h0M415 171.8h0M401.3 170.7h0M411.2 172.5h0M396.3 172.9h0M438.1 173.1h0M465.4 171.6h0M400.7 171.1h0M419.1 171.6h0M387.8 169.9h0M435.8 171.2h0M444.9 172.5h0M445.4 172.1h0M396.5 167.9h0M453.5 170.8h0M465.8 173h0M425.9 172.6h0M481.8 172.1h0M462.9 168.9h0M470.7 172.1h0M404.7 171.5h0M438.5 172.3h0M403.3 171.7h0M458.8 169.6h0M397.2 170.7h0M415.4 171.9h0M395.2 172.8h0M456.5 170.3h0M431.7 171.3h0M469.5 172.6h0M391 170h0M461 172.6h0M434.8 170.6h0M445.8 169.4h0M406.8 171.5h0M388.9 170.3h0M469.7 171.3h0M396.2 169.4h0M446.9 171.7h0M405.6 171.7h0M394.1 172.6h0M461.1 172.4h0M423.1 171.4h0M412.6 170.7h0M442.5 171h0M422.6 172.6h0M457.7 171.1h0M416 168.9h0M429.8 173.3h0M467.8 172.4h0M434.6 169.3h0M398.2 170h0M395.6 171.7h0M433.5 172.5h0M467.5 172h0M475.2 172.1h0M402.2 170.4h0M404.3 171.2h0M417.5 171.3h0M469.8 172.8h0M425.2 168.6h0M417.9 169.1h0M406.4 173.1h0M469.2 169.3h0M464 171.8h0M439.5 173.3h0M397.6 172h0M511.3 167.9h0M430.1 172.3h0M470.4 172h0M397 169.1h0M427.5 172.2h0M459.1 170.1h0M411.9 169.3h0M416.6 171.3h0M426.5 171.2h0M471.1 169.5h0M401.1 169.8h0M455.8 172.6h0M414.8 172.6h0M411.3 170h0M469.8 171.1h0M468 171.5h0M424.2 170h0M472.3 172.2h0M467.7 170.9h0M433.5 172.2h0M432.4 171h0M432.2 172.5h0M460.9 171.7h0M414.9 173.3h0M397.6 169.5h0M430.2 172.3h0M466.5 173.5h0M467 169.8h0M443.2 168.9h0M485.7 170.8h0M408 172h0M451.4 173h0M446.4 173.1h0M448.5 170.6h0M479.3 173.6h0M468 171.9h0M454.8 171.9h0M462.2 170.9h0M386.5 171h0M391.4 172.4h0M448.3 170.3h0M475.3 170.2h0M499.2 173.2h0M420.7 171.6h0M466.9 169.8h0M441 172.9h0M397.8 172.8h0M446.8 171.9h0M468.4 168.3h0M469.9 169h0M395 171.8h0M460.6 168.6h0M426.7 171.8h0M445.2 172.5h0M464.2 171.8h0M422.3 168.8h0M409.5 171.7h0M424.2 173h0M438.9 172.8h0M409.9 171.8h0M398.1 168.8h0M436.1 169.8h0M461.6 172h0M451.8 168.9h0M465.1 168.8h0M430.4 171.8h0M394.7 171.6h0M443.7 172.8h0M387.1 169.8h0M425.9 172.8h0M408 173h0M474.9 172.9h0M426.8 171.7h0M452.8 170.6h0M426.1 170.1h0M470.9 171.1h0M427.8 171.6h0M454.7 170.9h0M445.4 173.1h0M467.1 170.4h0M395.9 170.5h0M430.7 167.4h0M441.5 170.7h0M421.5 171.6h0M429 172.3h0M476.7 170h0M444.4 171.9h0M473.4 171.1h0M419.9 169.9h0M466.5 171.1h0M412 171.3h0M395.2 168.7h0M466.3 170.9h0M469.6 169.1h0M444.7 172.9h0M437.5 171.1h0M467.7 173.2h0M469.1 172.6h0M411 171h0M471.6 169.4h0M413.1 170.8h0M453.4 168.1h0M401.6 167.8h0M457.9 171.1h0M397.2 171.1h0M465.1 172h0M392.4 170.1h0M448.1 170.7h0M444 171.7h0M438.9 170.7h0M394.3 168.8h0M470.8 172.1h0M463.6 169.4h0M444.8 169h0M416.9 170.2h0M484.7 173h0M456 172.1h0M410.1 170.8h0M453.4 172.8h0M391.9 172.3h0M510.9 167.9h0M428.1 170.5h0M468.4 169.3h0M478.5 168.5h0M412.4 170.2h0M464.4 170h0M473.8 172.8h0M464.2 172.3h0M422.3 171h0M404.1 169.8h0M424.5 172.1h0M491.7 168.4h0M494.7 171h0M447.1 172.6h0M438.2 169.3h0M425.5 169h0M403.8 170.6h0M409.9 171.6h0M441.7 170.8h0M473.6 170.6h0M397.2 171.8h0M431.6 171.2h0M432.4 170.8h0M468 172.4h0M437.8 170.1h0M394.1 172.8h0M475.4 173.1h0M443.5 170.6h0M470.1 169.7h0M455.8 171.2h0M470.2 170.7h0M428.1 171.7h0M415.8 171.8h0M450.9 171.3h0M467.9 170h0M433 168.5h0M431.1 171.1h0M479 169.6h0M390.8 170.2h0M452.1 172.1h0M451.9 171.6h0M438.9 170.9h0M457.4 173.1h0M389.3 171.9h0M459.2 172.3h0M447.8 170.5h0M450 172h0M485.8 173.4h0M469.6 170h0M475.9 172.3h0M410.9 169.7h0M412.5 170.3h0M419.6 172.9h0M406.8 169.5h0M424.9 170.9h0M470.4 171.1h0M443.9 169.8h0M436.8 172h0M484.2 173.5h0M415.3 167.9h0M425.4 173h0M470 173.3h0M450.5 172.6h0M475.6 171.8h0M446.6 172.8h0M407 168.8h0M390.8 170.2h0M399.9 171h0M441.8 172.7h0M451.6 172.8h0M399.1 170.6h0M464.7 173.5h0M428.3 171.2h0M403.1 171.1h0M449.4 171.3h0M418.3 170.4h0M460.5 171.1h0M452.9 172.1h0M409.8 172.7h0M417.5 170.4h0M456.3 171.7h0M469.2 172.3h0M425.3 170h0M422.3 171.7h0M466.4 169.8h0M426.9 172.9h0M422.8 172.1h0M487 170.4h0M447.2 172.7h0M394.6 171.9h0M391.5 172.5h0M414.2 169.7h0M468.2 169.5h0M409.1 172.8h0M481.3 172.4h0M407 171.1h0M442.9 172.2h0M456.5 172.9h0M465.2 171.6h0M422.3 171.6h0M447.3 168.7h0M404.9 172.1h0M414.9 171.5h0M419 169.8h0M471.5 171.8h0M466.1 172.5h0M464.7 172.6h0M432.2 172.1h0M463.4 170.7h0M445.1 171.6h0M449 171.7h0M396.1 168.3h0M467.1 172.3h0M417.3 171h0M458 169.5h0M416.1 170.3h0M479.8 170.6h0M433.6 172.7h0M424 171.4h0M408.2 171.6h0M478 171.9h0M483.1 172.3h0M443.3 170.7h0M412.3 171.8h0M433.5 172.6h0M404.7 169.5h0M478.4 170.2h0M450.1 171.5h0M453 172.5h0M444.9 171.6h0M465.4 170.5h0M467.7 167.6h0M480.1 173.3h0M399.6 171.9h0M418.6 171.9h0M444 172.1h0M392.1 171.2h0M474 171.5h0M424.8 172.2h0M467.1 170.8h0M396.7 172h0M441.6 172.8h0M463.2 170.3h0M483 172.1h0M423.1 170.6h0M412 171.1h0M438.5 172.9h0M409.6 172.9h0M467 168.7h0M465.2 171.9h0M399.7 171.3h0M458.9 171.5h0M450.1 167.8h0M406.6 172.9h0M421.5 172.7h0M406.2 168.7h0M408.4 172.1h0M409.4 173.3h0M470.1 169.9h0M437.1 169.9h0M448.4 167h0M465.4 173.5h0M414 173.1h0M426.2 170.9h0M469.9 172.9h0M403.2 172.2h0M445.6 171h0M454.7 165.5h0M438.3 170.2h0M452.7 171.6h0M450.6 168.4h0M477.5 172.6h0M470.7 172.8h0M437.1 173.3h0M420.4 173.3h0M412.3 170.7h0M412.6 168.7h0M431.2 171.9h0M436.3 170.8h0M458.4 168h0M466.4 170.8h0M419 172.3h0M407.5 171.8h0M410 172h0M438.6 172.5h0M471.4 170.9h0M405.4 170.5h0M408.9 170h0M435.5 172.1h0M439 172.8h0M402.8 171.5h0M478.8 169.1h0M396.3 170h0M424.8 171.5h0M414.3 170.3h0M411.5 172.3h0M452.2 171.3h0M467.2 170.5h0M443.8 169.6h0M455 168.5h0M461.7 171.9h0M445.5 173.2h0M460.4 171.2h0M472.2 169.1h0M435.3 171.6h0M447.3 171.1h0M468.7 173.3h0M406.3 168.2h0M471.4 172.5h0M429.4 169.9h0M421.3 171.7h0M470.3 166h0M417.4 170.7h0M490.5 171.3h0M469.5 172.1h0M425.5 173h0M420.4 172.5h0M397.4 170.8h0M467.9 173.1h0M419.1 172.7h0M473.4 171.3h0M406.2 171.8h0M481.1 173.2h0M436.4 170.3h0M467.7 173.1h0M449.4 173.5h0M396.5 172h0M392.1 172.9h0M388.5 172.7h0M489.8 173.6h0M444.6 173h0M395.8 171h0M466.2 172.1h0M473.5 168.7h0M431.5 170.2h0M430.1 173.2h0M436.5 170.3h0M400.9 171.9h0M440 167.4h0M418.1 169.3h0M442.3 170.4h0M419.8 172.1h0M440.1 170.9h0M400.8 170.5h0M451.7 170.8h0M467.6 171.2h0M409.7 172.5h0M412.4 171.3h0M387.8 169.2h0M426.9 171.8h0M417.7 169.6h0M447.8 169.4h0M462.9 171h0M471.6 169.3h0M442.1 172.9h0M414.5 171h0M416.4 169.4h0M451 170.5h0M431.7 171.7h0M493.6 170.7h0M487.4 171.8h0M457.3 171.5h0M467.5 172.9h0M398.3 170.4h0M417.6 172.7h0M413.3 170.9h0M416.9 173.2h0M433.9 172.4h0M469.3 172.7h0M446.6 171.2h0M436 171.6h0M444.4 172.1h0M434.6 169h0M394.3 172.8h0M467.1 171.7h0M430.2 172.2h0M438.7 170.4h0M457.2 171.5h0M425.7 165.9h0M460.9 171.8h0M392.2 171.5h0M409.3 170.7h0M435.7 172.1h0M469.9 172.3h0M406.9 170.3h0M427 172.5h0M455.9 172.9h0M456.3 170h0M467.1 170.8h0M447.5 171.1h0M398.1 172.9h0M399.9 169.3h0M467.9 173.2h0M442.6 171.9h0M434.6 170.4h0M451.9 170.4h0M415.4 170.2h0M406.1 167.8h0M439.7 173h0M396.6 169.1h0M422.3 169.9h0M421.2 169.1h0M467.2 171.5h0M422.4 173.3h0M409.4 171.1h0M428.8 169.7h0M461.5 172.7h0M439 169.1h0M425.4 170h0M402.5 170.7h0M473.3 167.1h0M435.6 167h0M469.9 171h0M450.2 172.5h0M457 171.3h0M447 171.5h0M444 171.1h0M470.3 170h0M429 171.4h0M409.1 171.6h0M482 173.1h0M450.5 172.4h0M461.9 171.6h0M431.8 167.6h0M475.2 171.1h0M475.5 173.5h0M411.7 172.2h0M430.1 169.8h0M435.7 170.5h0M418.2 173.1h0M462.3 171.9h0M401.8 172.1h0M407.1 173h0M415.5 170.9h0M410.2 170.8h0M450 171.9h0M437.7 172.1h0M441.8 169.1h0M452.9 172.8h0M414.9 170.2h0M491.9 168.2h0M457 168.7h0M397.1 171.9h0M413.7 171.4h0M408.1 169.6h0M399.8 172.1h0M442.5 169.5h0M417.7 168.3h0M467.2 171.1h0M455.7 168.3h0M420.4 169.3h0M438 168.6h0M426.8 172.5h0M421.1 168.8h0M407.3 169.7h0M407.3 170.3h0M465.5 170.8h0M467.4 171h0M488.5 173.5h0M392.8 170h0M427.8 169.8h0M471.8 171.9h0M447.3 168.4h0M399.8 172.3h0M463.6 170.7h0M412.3 171.3h0M432.2 172.2h0M416.2 170.6h0M446.8 170.7h0M417.6 172.8h0M447.8 172.9h0M445.3 169.2h0M477.8 169.8h0M447.1 170.6h0M438.2 168.5h0M392.9 169.6h0M448.1 171.4h0M442.3 171.4h0M395.6 170.7h0M447.5 171h0M403.7 171.7h0M415.9 171.1h0M403.4 172.5h0M390.6 171.4h0M465.9 167.5h0M467.1 172.1h0M452.5 172.4h0M462.7 170.7h0M423.2 171.9h0M458 173.3h0M427.6 170.9h0M440.5 168.6h0M467.7 172.5h0M453.1 170.6h0M466.5 172.7h0M447.6 171.3h0M421.1 172.3h0M410.3 172.9h0M443.6 171.2h0M436.6 172h0M395 172h0M468.7 173h0M442 173.1h0M409.5 170.2h0M431.9 171.3h0M424.6 168.9h0M406.3 171.1h0M438.7 172.1h0M468.7 173h0M421.3 171.9h0M457.5 171.6h0M429.8 173.4h0M468.8 172.2h0M442.3 169.3h0M480 172h0M478.2 172.4h0M424.6 171.4h0M462.6 168.8h0M396.1 167.6h0M417.5 171h0M414.2 171.8h0M430.5 171.8h0M411 170.4h0M467.2 171.5h0M428.5 172.3h0M439.9 171.5h0M457.5 171.2h0M431.3 171.7h0M469.1 173h0M460.6 172.4h0M431 170.1h0M443.1 172.9h0M452.4 173.3h0M476 168.6h0M421.1 173.1h0M428.8 171.8h0M415.7 171.5h0M471.3 171.5h0M430.6 172.4h0M475.9 171.7h0M468.4 172.3h0M447.8 171.6h0M480 172.5h0M452.7 170.5h0M489.2 172.8h0M434.3 169.3h0M466.4 172.9h0M445.6 172.6h0M467.3 170.3h0M420.2 171.7h0M398.4 172.8h0M490.4 170.3h0M412.1 170.3h0M478.1 170.1h0M450.5 171.4h0M436.4 172.2h0M461.4 170.7h0M405.5 170.1h0M470 173.1h0M494.7 169h0M487.1 170.7h0M462.8 170.3h0M404.1 164.3h0M457.4 170.7h0M466.2 171.7h0M441.4 169.6h0M455.8 170.6h0M465.7 173.2h0M469.9 170.5h0M428.4 173.2h0M394.2 170.7h0M431.2 171h0M461.4 171.8h0M410.1 170.4h0M435.9 171h0M405.3 168.9h0M402.6 173.1h0M403.5 172.9h0M397.1 170.3h0M433 173h0M408 173.1h0M441.2 172.7h0M475.5 171.8h0M396.4 170.8h0M398.1 171h0M398.2 171.2h0M433.3 172h0M452.4 171.9h0M426.9 169.2h0M416.9 170.2h0M466.3 172h0M470.4 170h0M446.6 171.1h0M389.4 171.8h0M468.4 171.1h0M433.2 171.5h0M467.9 168.5h0M421.6 170.5h0M431.3 173h0M466.6 171.6h0M405.7 171.5h0M458.8 172.9h0M436.2 172.9h0M487.4 171.8h0M409.8 169.1h0M411.5 171.2h0M443 171.8h0M431.3 171.4h0M440.4 170.4h0M499.2 173.4h0M478.2 171.2h0M408.1 172.3h0M450.3 168.1h0M431.6 172.4h0M469.3 172.7h0M402.7 173h0M480.5 173.1h0M396.8 172.5h0M485.1 173.2h0M453 172.2h0M412.2 171.4h0M460.2 170.9h0M446.9 172.5h0M457 172.5h0M410.2 170.9h0M452.5 173.1h0M455.5 170.9h0M493.3 172.4h0M428.8 171.8h0M431.2 173h0M417.2 172.7h0M431.1 172.4h0M466.9 172.7h0M459 170.3h0M488.7 171.6h0M483.8 173.7h0M488.3 172.4h0M453.1 170.5h0M459.1 172.4h0M434.1 171.8h0M425.6 171.1h0M403.5 171.2h0M406.5 171.8h0M446.3 172.1h0M471.6 171.8h0M489.9 173.6h0M411.5 171.2h0M386 171h0M423.6 172.6h0M455.8 171.9h0M468.3 172.5h0M435.8 171.8h0M393.7 172.2h0M456.2 172.2h0M425.5 171.6h0M411.8 170.7h0M477.4 173.2h0M447.8 170.4h0M426.9 172.3h0M468.6 172h0M488.1 168.9h0M454.7 170.7h0M447.4 169.8h0M440 172.2h0M441.6 169.3h0M467.6 171.2h0M447.6 171.5h0M399.1 170.6h0M466.4 169.6h0M473.9 171.9h0M449.8 171.6h0M394.2 170.6h0M449.2 170.9h0M445.4 171.7h0M467.8 172.6h0M475.3 171.5h0M431.4 172.4h0M475.7 172.9h0M439.5 171.7h0M470.2 170.8h0M470.7 171.7h0M487.3 170.4h0M420.9 169.1h0M446.7 170h0M395.4 171.1h0M460.5 172.9h0M419.5 171h0M417.3 172.4h0M396.4 171.7h0M416 170.4h0M436.9 172.2h0M415.3 170.1h0M421 173h0M470.2 170.3h0M496.9 171.1h0M429 168.1h0M432.1 172.5h0M395.4 172h0M474 172.5h0M408.7 172.3h0M416 170.4h0M388.2 172.1h0M420 172.2h0M465 172.8h0M431.4 172.4h0M468.5 171.7h0M444.1 169.8h0M437.3 171.8h0M414.2 172.8h0M471.7 171.7h0M465.3 172.3h0M449.7 172.4h0M473.5 172.4h0M426.3 171.5h0M396.5 172.9h0M406.8 170.9h0M451.8 171.7h0M463.1 172.6h0M467.8 173.1h0M442.5 172.9h0M467.3 170.4h0M471.9 170.9h0M412.2 171.2h0M444.4 171.7h0M468.6 172.4h0M448.1 170.2h0M407.1 170.8h0M467.1 173.1h0M439.7 171.7h0M416.3 172.3h0M404.2 172.9h0M395.1 167.9h0M465.6 172.4h0M450.1 171.6h0M466.9 171.3h0M417.4 170.7h0M444.3 170.2h0M418.9 172.6h0M396 171.6h0M452 167.9h0M416.7 170.2h0M451.4 171.1h0M445.8 172.8h0M472.8 171.2h0M435 172.2h0M410 171.7h0M461 171.2h0M460.3 173.1h0M406.1 167.5h0M443.2 172.5h0M459.1 171.7h0M469.8 172.1h0M455.7 171.8h0M398.6 169.3h0M470.7 171.6h0M443.9 171.8h0M394.5 170.8h0M411.8 166.2h0M430.1 171.4h0M404 171.8h0M478.8 173.3h0M461.5 172.2h0M473.1 170.9h0M387.5 172.7h0M472 171.1h0M465 171.2h0M469.4 166.8h0M438.1 171h0M447.7 169.9h0M471.2 172.3h0M446.6 167.5h0M473.5 169.7h0M446 170.7h0M467.1 171.4h0M455.8 168.2h0M409.4 171.1h0M406.7 172.9h0M387.2 170.8h0M429.1 173.2h0M466.2 172.7h0M471.9 170.3h0M421.9 171.8h0M473.2 172.3h0M404.4 171.1h0M458.3 172.1h0M438.8 169.2h0M467.2 172.5h0M400.1 172.4h0M470.3 172.3h0M428.9 170.7h0M455.8 172.7h0M427.7 169.5h0M491.1 172.3h0M413.1 172.8h0M452 170.4h0M387.5 172.6h0M444.2 171.1h0M488.6 168.7h0M413.3 170.5h0M474.2 170.3h0M435.1 170h0M490.5 171.4h0M431.3 169.9h0M499.5 172.3h0M464.3 170.4h0M469.4 170.3h0M417.6 171.4h0M433.8 170.4h0M458.3 169.8h0M452.5 169.9h0M454.5 172.4h0M390.1 170.6h0M460.1 172.9h0M394.7 171.1h0M433.8 170.7h0M459.8 173.1h0M404 170.3h0M407.6 171.8h0M468.2 172.8h0M409.3 171.5h0M471.2 173.5h0M423.2 172h0M441.8 171.9h0M415.9 168.9h0M420.6 170h0M450.1 168.3h0M427 170.2h0M421.2 171.4h0M412.7 172.6h0M429.7 171.6h0M466.4 171.4h0M464.4 172.8h0M470.8 169.4h0M416.3 172.8h0M467.4 171.8h0M459.7 171.3h0M412 170.7h0M410 170.4h0M444.8 169.2h0M403.2 172.7h0M434.5 170.4h0M451.6 172.3h0M467.2 172.1h0M466 169.8h0M413.3 171.8h0M430.4 171.8h0M405.8 168.8h0M467.6 173.5h0M456.2 171.6h0M388.8 169.2h0M411.2 172.2h0M489.8 172.5h0M470 172.6h0M409 172.1h0M471.9 172.4h0M470.4 170.1h0M471 167.9h0M478.6 168.6h0M441.4 170.8h0M396.2 170.9h0M402.2 167.4h0M448.6 171.1h0M453.8 172.9h0M390.1 172.2h0M425 165.8h0M449.1 172.6h0M491.1 166.6h0M391.1 170.4h0M406.2 172.6h0M459.6 171.7h0M400.5 171h0M407.9 168.6h0M445.5 171.7h0M394.8 171.7h0M446.7 169.9h0M444 170h0M485.9 171.6h0M452.8 173.6h0M386.9 172.6h0M416.4 172.2h0M404.8 171.8h0M408.6 171.8h0M427.8 170.4h0M398.7 170.7h0M433.5 172.4h0M425.7 170.4h0M455.3 169.1h0M417.5 173h0M409.3 173h0M398.6 170.2h0M419.2 171.7h0M448.1 172h0M433.5 171.9h0M407.1 170.3h0M437.9 172.6h0M422.1 171.2h0M496.8 172.6h0M464.7 172.5h0M466.2 173h0M428.2 171.7h0M386.8 168.9h0M477.3 170.9h0M448.6 168.9h0M443.6 173.3h0M455 172.7h0M410.6 171.8h0M471.2 171.4h0M434 171.8h0M391.7 172.2h0M398.5 168h0M468.2 172.1h0M457.2 171.2h0M437.8 171.8h0M464.9 173.1h0M442.8 170.3h0M456.3 170.5h0M453.3 171.8h0M438.3 172h0M390.1 170.3h0M423 169.6h0M404.7 170.3h0M446.5 171.9h0M488 169h0M467.7 172.9h0M449 172.4h0M403.9 172.9h0M433.6 172.8h0M442.7 171.9h0M427.8 171.8h0M514.6 173.5h0M454.7 172.7h0M495.3 173.2h0M461.5 170.4h0M418.2 172h0M468.9 170.8h0M395.7 169.4h0M451.5 170.3h0M457.8 170.9h0M468.9 172.8h0M409.1 170.7h0M468.1 172.2h0M466.7 171.6h0M433.7 170.9h0M423.7 169.6h0M407.7 170.7h0M454.8 170.4h0M437.4 172.3h0M447.5 171.9h0M481.8 167.9h0M413.2 172h0M425.9 169.3h0M410.3 171.4h0M434.3 172.6h0M425.1 172.8h0M435.4 172.4h0M471.2 172.2h0M452 172.6h0M446.1 170.1h0M447.2 168h0M416.8 172.7h0M504.2 168.8h0M412.1 173.1h0M407.9 172.4h0M402.1 172.9h0M444 170h0M474.6 170.4h0M464.8 169.6h0M405.3 171.2h0M406.7 170.5h0M413.2 168.7h0M439.7 169.1h0M451.8 171.6h0M421.4 172.4h0M432.4 171.5h0M412.7 170.5h0M447.6 171.9h0M456.3 172.5h0M470 167.1h0M424.9 171.2h0M433.5 172.3h0M439 170.7h0M448.2 167.5h0M475.6 167.7h0M438.5 171.1h0M418.3 169.8h0M465.1 170.5h0M473.1 173h0M464.5 171.1h0M395.1 172.2h0M395.5 169.4h0M416.6 171.1h0M435.7 173.1h0M476.3 170.3h0M443.3 169.1h0M423.7 170.8h0M501.7 172h0M430.3 169.5h0M422.5 168.5h0M444.4 172.8h0M465.8 167.5h0M454.9 170.1h0M472.1 171.6h0M458.2 173h0M460.4 172.3h0M471.1 170h0M423.2 172.8h0M387.1 170.1h0M451.4 173.2h0M472.5 170.7h0M423.3 171.8h0M441.6 173.4h0M490.8 169.7h0M451.6 171.5h0M458.7 169.9h0M441.7 170.4h0M462.2 171.4h0M494.4 169.5h0M450.8 169.7h0M386.4 171.8h0M470.5 172.6h0M399 172.4h0M462.7 170.9h0M425.2 171h0M471.8 173.5h0M474.2 172.6h0M454.4 171.9h0M449.2 167.2h0M428.8 172.4h0M438 172.6h0M423.9 172.7h0M396 171.1h0M470.1 169h0M468.9 172.5h0M413.3 173h0M472.6 170.5h0M469.2 170.4h0M402 172.5h0M419 169.6h0M398.6 169.6h0M429.2 169.8h0M419.7 172.3h0M468.9 170.5h0M409.8 169.1h0M467.3 170.6h0M436.7 171.8h0M391.4 169.7h0M435.4 171.6h0M472.5 171.6h0M424.9 172.3h0M473.1 171.1h0M415.3 171.2h0M400.9 172.9h0M393.1 168.3h0M428.9 169.8h0M416.7 171.7h0M418.9 170.9h0M445.5 171.2h0M434.6 172.8h0M439.6 173.1h0M421.8 167.5h0M491.3 170h0M447.2 172.5h0M408.3 170.3h0M387.1 168.6h0M434.1 172.8h0M436.3 170.7h0M404.9 170.2h0M478.8 170.9h0M457 170.3h0M401.7 171.9h0M510.2 173.6h0M469.2 172.3h0M410.7 172.5h0M394 172.5h0M467.8 169.9h0M466.2 170.7h0M422.8 170.7h0M404.3 171.8h0M427.2 171.9h0M496.4 169.1h0M472.2 169.8h0M502.4 170.4h0M395 170.2h0M407.2 169h0M398.7 169.6h0M457.9 170.1h0M441.9 171.8h0M468.8 170.2h0M466.4 172.9h0M456.8 169.3h0M486.6 171.4h0M430.2 173h0M455.9 170.3h0M442.2 170.1h0M409.9 170.9h0M427 172.5h0M488.6 170.8h0M405.3 171h0M446.7 170.3h0M445.6 167.7h0M439.9 172.4h0M396.2 170.7h0M482.5 170.8h0M474.2 171.5h0M406.7 170.5h0M470.4 171.4h0M428.2 171.8h0M479.7 173.1h0M452.4 172.2h0M422.7 171.6h0M466.5 172h0M421.4 165.8h0M447.9 167.9h0M402.9 170.1h0M394.9 172.2h0M421.4 172.8h0M460.6 170.6h0M450.2 172.3h0M460 165.1h0M472 172h0M469.6 172.1h0M429.4 168.7h0M396 170.4h0M470.4 172.6h0M470.1 171.6h0M450.4 170.3h0M465.1 169.5h0M452.9 172.1h0M410.6 169.4h0M414.8 172.2h0M389 171.2h0M438.9 170.1h0M408 170.8h0M418.8 171.1h0M408.3 171.1h0M432.6 170.5h0M459.6 170.3h0M456.2 169.1h0M478.5 173.2h0M471.2 171h0M471.5 168.8h0M468.3 172.5h0M418.3 170.8h0M399.8 172.1h0M414.6 169h0M426.2 172.4h0M449.4 171.1h0M418.5 170.5h0M437.7 173.4h0M405.5 169.1h0M406.7 170h0M391.6 170.4h0M455.3 173.3h0M392 172.4h0M439.4 172.5h0M421.1 164.9h0M411.3 172.1h0M480.7 173.6h0M438.6 172.9h0M390.9 171.9h0M416 173h0M478.2 170.4h0M411.3 172.5h0M414.6 171.5h0M390.7 172.2h0M433.9 172.1h0M402.8 171.4h0M425.4 171.5h0M458.6 168.8h0M460.4 169.6h0M476.7 172.2h0M421.7 171.1h0M386 171.4h0M466.8 168.7h0M440.1 170.5h0M467.8 170h0M451 171.7h0M475.2 172.2h0M438 170.9h0M390.3 169.1h0M413 172h0M483.9 170.1h0M457 172.8h0M433.4 168.1h0M476.7 172.6h0M406 172.4h0M434.1 172.7h0M405.5 172.1h0M450 168.4h0M477.7 172.8h0M455 170.8h0M432.2 171.9h0M413.5 172.1h0M432.4 170.5h0M434 167.1h0M433.8 171h0M390.2 172h0M398 170.8h0M468.2 171.8h0M403.9 171.3h0M459.7 172h0M468.1 171.9h0M471.7 172.7h0M392.6 171.6h0M477.9 173.2h0M429 170.6h0M454.7 169.2h0M457.5 173.2h0M469.6 172h0M425 170.4h0M443.8 170.2h0M406 171.5h0M470.7 171.1h0M456.3 169.7h0M471.1 170.5h0M426.3 171.9h0M406 171.1h0M440.2 169.5h0M386.8 169h0M472.4 169.5h0M466.5 172.6h0M495.6 172.8h0M444.3 170.8h0M413.1 170.5h0M418.2 173h0M446.7 169.7h0M390.1 171h0M400.1 172.1h0M451.1 171.7h0M401.4 170.4h0M471.8 172.5h0M392.9 168.3h0M414.6 169h0M426.2 168.9h0M413 171.6h0M410.7 169.3h0M390.9 170h0M448.9 171h0M410 170.5h0M469.6 170.9h0M391.9 171.8h0M478.1 172.6h0M447.9 169.2h0M394.2 168.3h0M411.8 172h0M450.2 173.5h0M485.9 170.7h0M401.4 169.3h0M484.3 168.9h0M411.9 170.1h0M402.2 170.4h0M464.1 172.7h0M470.2 172.7h0M468.5 167.8h0M401.7 171.2h0M459.8 170.8h0M433.8 172.3h0M432 171.3h0M393.6 171.8h0M451.9 171.3h0M395.3 169.7h0M398.2 171.2h0M452.3 171.3h0M416.2 170h0M442 169.3h0M417.9 171.2h0M413 172.4h0M414.1 169.6h0M412.2 172.8h0M416 170.4h0M404.3 170.5h0M462.1 172.4h0M466 171.6h0M475 168.3h0M484.6 172.5h0M447.2 170.1h0M453.7 171.4h0M454.5 169h0M453 172h0M466.4 172.4h0M453.8 173.3h0M467.9 171.3h0M428.9 173.2h0M442.1 173.1h0M412.3 171.4h0M402.7 170.5h0M408.6 172.4h0M396.5 172h0M425.2 170.8h0M456.8 169.7h0M401.1 171.9h0M457.7 171.2h0M399.3 170.5h0M439.3 171.7h0M407.2 168.2h0M409.2 173h0M447.1 170.8h0M448.4 173.1h0M405.2 168.5h0M417.5 167.5h0M478.5 170.9h0M440.1 168.9h0M505.6 166.8h0M405.9 164h0M397.5 167.4h0M472.6 166.7h0M392.4 166h0M492.6 163.1h0M384 170.2h0M491.4 169.4h0M399.5 169.5h0M445.1 167.8h0M447.2 160h0M462.1 165.4h0M441.4 162.1h0M398.2 163.2h0M391.7 168.4h0M413.5 167.8h0M437.8 164.8h0M419.3 170.7h0M510.8 170.5h0M448.4 170.8h0M389.8 170.6h0M440.9 161.1h0M414.4 163.5h0M454.8 168.9h0M414.6 170.5h0M499.3 153.3h0M433 165.6h0M427 170.1h0M410.6 163.5h0M511.9 159h0M399.1 155.9h0M479.2 167.4h0M409 166.4h0M439.6 170.2h0M443.6 168.3h0M476.3 160.3h0M502 162.8h0M401.2 164.2h0M441.2 170.8h0M443 160.4h0M430.1 168.2h0M498.2 162h0M460.6 167.6h0M504.3 166.6h0M493.2 170.6h0M406.1 169h0M413.5 159.8h0M487.5 170.7h0M393 167.9h0M464.1 160h0M393.2 164.4h0M398.6 167.8h0M451.3 161.9h0M458.7 164.8h0M411.3 168.2h0M402.5 161.4h0M491.1 168.4h0M503.7 170.9h0M496.7 168.3h0M470.1 170.8h0M419.6 165.2h0M457.1 166.2h0M503.2 170.7h0M455.1 169h0M426 167.5h0M418.8 165.7h0M421.2 165.4h0M481.5 166h0M431.4 165h0M456.6 167.2h0M412 167.4h0M447.4 167.8h0M396.7 165.4h0M503.2 148.1h0M443.3 169.9h0M407.9 161.8h0M456.8 165.9h0M445.7 168.8h0M402.5 154.1h0M457.7 165.2h0M447 144.5h0M433.1 169.3h0M505.5 168.4h0M474.9 164.2h0M433.7 169.7h0M393.4 170.3h0M485.8 168.6h0M451.8 163.6h0M444.5 158.5h0M435.5 166.7h0M454.6 167.6h0M385.6 162.4h0M440.3 170.1h0M418 169.6h0M481.2 168.4h0M413.9 165.1h0M442.7 170.5h0M502.8 166h0M439 162.7h0M445.6 160.8h0M433.9 166.6h0M428.3 169.5h0M412.9 170.3h0M497.6 165.9h0M386.5 161h0M435.7 168h0M404.1 168.7h0M403.6 169.4h0M412.1 167.7h0M410.2 164.6h0M484.3 169h0M430.2 167.7h0M474.6 169.3h0M439.4 167.5h0M411.8 167.3h0M509.9 165.4h0M485.1 163.8h0M475.9 158.3h0M489 170.6h0M460.1 164.9h0M415.7 161.9h0M402.4 169.7h0M495.1 169.1h0M421.4 159.7h0M485.9 170.6h0M486.5 167.9h0M492.1 168.6h0M416.3 166.9h0M462.9 170h0M493 164.3h0M456.2 169.6h0M512.4 170.3h0M398.3 167.7h0M501.2 162.1h0M418.9 168.3h0M384.1 152.2h0M484.7 166.4h0M412.7 164.3h0M456.7 170.5h0M425.9 158.4h0M418.1 163.5h0M466.5 162.1h0M485 170.7h0M459.3 168h0M476.6 169h0M496.6 163.5h0M467.9 170.8h0M446.3 164.4h0M431.5 162.6h0M462.7 169.3h0M502.4 163.9h0M432.6 170.3h0M413.1 165.4h0M476.3 169.8h0M467 169.1h0M508.4 170.9h0M504.9 168.2h0M422.3 164.3h0M500.8 169.7h0M499.6 169.9h0M385.2 165.9h0M407.8 165.3h0M397.4 167.5h0M476.7 170.6h0M454.4 165.3h0M435.2 167.2h0M475 164.6h0M431.9 170.5h0M498.3 165.6h0M413.8 163.2h0M447.5 163.2h0M464.8 148h0M489.6 165.2h0M495.9 167.2h0M488.1 170h0M465.2 164.4h0M385 168.7h0M448.5 164.4h0M451.8 162.7h0M399.4 170.2h0M409.1 170h0M407 166.8h0M470.5 155.8h0M506.6 165.5h0M420 157.8h0M422.1 170.4h0M388.3 163.6h0M399.3 169.9h0M399.9 167.5h0M425.5 170.2h0M447.6 170.2h0M407.6 167.2h0M462.1 170.4h0M408.3 161.6h0M503.4 165.2h0M497.8 145.3h0M450.6 165.1h0M496.7 165.1h0M435 167.5h0M458.5 166.8h0M454.3 170.8h0M466.7 162h0M479.2 163.4h0M468.1 168h0M444.6 166.2h0M424.6 169.4h0M412.5 168.7h0M426.7 169.7h0M420.8 169.3h0M459.2 158.8h0M502.4 170.9h0M502.7 165.8h0M415.1 170.5h0M422.9 169.1h0M496.3 170.3h0M504.3 168h0M400.3 169.5h0M406 170.4h0M469.9 169.7h0M452 166.1h0M487.7 168.2h0M485.1 170.4h0M409.7 168.2h0M438.2 163.2h0M468.2 161.9h0M403 161.5h0M494.6 170.5h0M509 165.1h0M417.7 170.4h0M422.8 169.3h0M486.8 156.1h0M509.6 167.8h0M433.9 163.4h0M512.9 161.4h0M507.2 170h0M471.9 168.7h0M496.5 163.3h0M499.4 158h0M441.5 170.7h0M476.5 170.3h0M508.4 167.6h0M512.2 170.9h0M389.8 168.3h0M464.4 160.7h0M462.6 170.5h0M493.3 163.5h0M483.5 170.3h0M406.6 165h0M424.7 166.1h0M513.5 169.8h0M389.4 167.7h0M497.1 165.1h0M471 169.6h0M455.8 163.9h0M416.6 150.5h0M469.7 167.1h0M502.7 170.9h0M419.9 169.5h0M402.4 170.2h0M442 170.8h0M394.7 170.3h0M402.7 170.8h0M433.8 170.2h0M451.4 164.7h0M484.4 163.8h0M479.7 170.6h0M485.4 170.7h0M481.5 165.7h0M428.8 167.2h0M508.5 168.4h0M445.3 168.5h0M504.8 163.2h0M453.8 170.7h0M496.8 170.6h0M478.5 164.1h0M504.2 170.7h0M442.5 169.5h0M508.8 169h0M508.6 170.9h0M421.4 169.4h0M463.3 170.3h0M505 166.5h0M495 168.6h0M478.9 164.3h0M494.3 159h0M413.8 168.5h0M507.8 163.6h0M509.1 156.5h0M463.3 170.5h0M450.8 150.9h0M421.2 165.3h0M474.6 169.6h0M463.7 169.6h0M473.1 163.1h0M506.3 168.6h0M461.7 166.2h0" stroke="#000" stroke-width="1.25" stroke-linecap="round" fill="none" opacity="1"/>
<path d="M396.7 18.8L384.5 158.4L380.9 174.9M392.5 66.9L517 63.6M388.7 110L516 106M370.4 159.3L514.7 151.4" stroke="#000" stroke-width="1.25" fill="none"/>
<text x="376.9" y="38.8" font-family='"Liberation Sans", Arial, Helvetica, sans-serif' font-size="9">N<tspan dy="3" font-size="8.5">3</tspan><tspan dy="-6.2" dx="0.6" font-size="8">+</tspan></text>
<text x="375.7" y="77.6" font-family='"Liberation Sans", Arial, Helvetica, sans-serif' font-size="9">N<tspan dy="3" font-size="8.5">2</tspan></text>
<text x="377.6" y="119.6" font-family='"Liberation Sans", Arial, Helvetica, sans-serif' font-size="9">N<tspan dy="3" font-size="8.5">1</tspan></text>
<text x="492" y="55" font-family='"Liberation Sans", Arial, Helvetica, sans-serif' font-size="9">IN<tspan dy="3" font-size="8.5">3</tspan><tspan dy="-6.2" dx="0.6" font-size="8">+</tspan></text>
<text x="493" y="76" font-family='"Liberation Sans", Arial, Helvetica, sans-serif' font-size="9">IN<tspan dy="3" font-size="8.5">2</tspan></text>
<text x="495.5" y="119.6" font-family='"Liberation Sans", Arial, Helvetica, sans-serif' font-size="9">IN<tspan dy="3" font-size="8.5">1</tspan></text>
<text x="500" y="161" font-family='"Liberation Sans", Arial, Helvetica, sans-serif' font-size="9">I</text>
<text x="487" y="31.8" font-family='"Liberation Sans", Arial, Helvetica, sans-serif' font-size="9.6">T=90s</text>
<text x="28" y="12.3" class="pl">A</text>
<text x="198.8" y="14.4" class="pl">B</text>
<text x="372.8" y="15.8" class="pl">C</text>
<text x="26" y="228" class="pl">D</text>
<text x="205.5" y="228.6" class="pl">E</text>
<text x="375.8" y="229.6" class="pl">F</text>
<text x="59.9" y="192.5" class="sb" font-size="10.2">Forward Scatter</text>
<text transform="matrix(1 0.003 0 1 265.2 203)" class="sb" font-size="10.28">E3-ICAM Fluorescence (LDS, Red)</text>
<text transform="matrix(1 0 -0.02 1 9.4 120.4) rotate(-90)" class="sb" font-size="10.4">Side Scatter</text>
<text transform="matrix(1 0 -0.02 1 182.7 185.3) rotate(-90)" class="sb" font-size="10.67">Neut. Fluorescence (CD45-FITC, Green)</text>
<text transform="matrix(1 0 -0.031 1 354.3 190.3) rotate(-90)" class="sb" font-size="10.38">Neut. Fluorescence (CD45-FITC, Green)</text>
<text transform="matrix(1 0 -0.02 1 8.1 378.5) rotate(-90)" class="sb" font-size="10.65">% Neutrophils in Aggregates</text>
<text transform="matrix(1 0 -0.02 1 186.4 377.4) rotate(-90)" class="sb" font-size="10.55">% Neutrophils in Aggregates</text>
<text transform="matrix(1 0 -0.02 1 355.5 355.7) rotate(-90)" class="sb" font-size="10.5">Adhesion Efficiency</text>
<g transform="matrix(1 0.002 -0.02 1 27.5 377.4)">
<path d="M0 -146.1V0.2M-3.4 0H139.3M0 -7.3h-2M0 -14.6h-2M0 -21.9h-2M0 -29.2h-3.6M0 -36.5h-2M0 -43.8h-2M0 -51.1h-2M0 -58.4h-3.6M0 -65.7h-2M0 -73h-2M0 -80.4h-2M0 -87.7h-3.6M0 -95h-2M0 -102.3h-2M0 -109.6h-2M0 -116.9h-3.6M0 -124.2h-2M0 -131.5h-2M0 -138.8h-2M0 -146.1h-3.6M0 0v3.2M6.9 0v2.1M13.8 0v2.1M20.7 0v2.1M27.6 0v2.1M34.4 0v3.2M41.3 0v2.1M48.2 0v2.1M55.1 0v2.1M62 0v2.1M68.9 0v3.2M75.8 0v2.1M82.7 0v2.1M89.6 0v2.1M96.5 0v2.1M103.3 0v3.2M110.2 0v2.1M117.1 0v2.1M124 0v2.1M130.9 0v2.1M137.8 0v3.2" stroke="#000" stroke-width="1.25" fill="none"/>
<text x="-6.8" y="3.9" text-anchor="end" class="tk2">0</text>
<text x="-6.8" y="-25.3" text-anchor="end" class="tk2">20</text>
<text x="-6.8" y="-54.5" text-anchor="end" class="tk2">40</text>
<text x="-6.8" y="-83.8" text-anchor="end" class="tk2">60</text>
<text x="-6.8" y="-113" text-anchor="end" class="tk2">80</text>
<text x="-6.8" y="-142.2" text-anchor="end" class="tk2">100</text>
<text x="-0.6" y="16.6" text-anchor="middle" class="tk2">0</text>
<text x="33.8" y="16.6" text-anchor="middle" class="tk2">50</text>
<text x="68.3" y="16.6" text-anchor="middle" class="tk2">100</text>
<text x="102.8" y="16.6" text-anchor="middle" class="tk2">150</text>
<text x="137.2" y="16.6" text-anchor="middle" class="tk2">200</text>
</g>
<path d="M27.7 372L35.4 321.3L50.4 285.8L71.3 269.2L92 278.3L154.6 294.8" stroke="#000" stroke-width="1.55" fill="none" stroke-dasharray="7.5 5" stroke-dashoffset="-2"/>
<path d="M33.1 319.6l4.6 3.4M33.1 323l4.6 -3.4M48.1 284.1l4.6 3.4M48.1 287.5l4.6 -3.4M69 267.5l4.6 3.4M69 270.9l4.6 -3.4M89.7 276.6l4.6 3.4M89.7 280l4.6 -3.4M152.3 293.1l4.6 3.4M152.3 296.5l4.6 -3.4" stroke="#000" stroke-width="1.2" fill="none"/>
<path d="M27.7 372L34.6 361.7L48.4 368L69.2 373.3L89.5 375.8L152.5 374.2" stroke="#000" stroke-width="1.65" fill="none" stroke-linejoin="round"/>
<circle cx="27.7" cy="372" r="1.95"/><circle cx="34.6" cy="361.7" r="1.95"/><circle cx="48.4" cy="368" r="1.95"/><circle cx="69.2" cy="373.3" r="1.95"/><circle cx="89.5" cy="375.8" r="1.95"/><circle cx="152.5" cy="374.2" r="1.95"/>
<text x="48.3" y="263" class="lb">Neut-E3-ICAM</text>
<text x="55.6" y="366.2" class="lb">Neut-Neut</text>
<g transform="matrix(1 0.002 -0.0255 1 205.6 378.4)">
<path d="M0 -146.6V0.2M-3.4 0H142.5M0 -7.3h-2M0 -14.7h-2M0 -22h-2M0 -29.3h-3.6M0 -36.6h-2M0 -44h-2M0 -51.3h-2M0 -58.6h-3.6M0 -66h-2M0 -73.3h-2M0 -80.6h-2M0 -88h-3.6M0 -95.3h-2M0 -102.6h-2M0 -110h-2M0 -117.3h-3.6M0 -124.6h-2M0 -131.9h-2M0 -139.3h-2M0 -146.6h-3.6M0 0v3.2M7 0v2.1M14.1 0v2.1M21.1 0v2.1M28.2 0v2.1M35.2 0v3.2M42.3 0v2.1M49.3 0v2.1M56.4 0v2.1M63.4 0v2.1M70.5 0v3.2M77.5 0v2.1M84.6 0v2.1M91.6 0v2.1M98.7 0v2.1M105.8 0v3.2M112.8 0v2.1M119.8 0v2.1M126.9 0v2.1M133.9 0v2.1M141 0v3.2" stroke="#000" stroke-width="1.25" fill="none"/>
<text x="-6.8" y="3.9" text-anchor="end" class="tk2">0</text>
<text x="-6.8" y="-25.4" text-anchor="end" class="tk2">20</text>
<text x="-6.8" y="-54.7" text-anchor="end" class="tk2">40</text>
<text x="-6.8" y="-84.1" text-anchor="end" class="tk2">60</text>
<text x="-6.8" y="-113.4" text-anchor="end" class="tk2">80</text>
<text x="-6.8" y="-142.7" text-anchor="end" class="tk2">100</text>
<text x="0.3" y="15.8" text-anchor="middle" class="tk2">0</text>
<text x="35.1" y="15.8" text-anchor="middle" class="tk2">50</text>
<text x="70" y="15.8" text-anchor="middle" class="tk2">100</text>
<text x="104.8" y="15.8" text-anchor="middle" class="tk2">150</text>
<text x="139.7" y="15.8" text-anchor="middle" class="tk2">200</text>
</g>
<path d="M205.4 378.3L212.9 365.8L228.3 344.2L250 302L272 287.5L333.8 302.2" stroke="#000" stroke-width="1.55" fill="none" stroke-dasharray="7.5 5" stroke-dashoffset="-3"/>
<path d="M210.6 364.1l4.6 3.4M210.6 367.5l4.6 -3.4M226 342.5l4.6 3.4M226 345.9l4.6 -3.4M247.7 300.3l4.6 3.4M247.7 303.7l4.6 -3.4M269.7 285.8l4.6 3.4M269.7 289.2l4.6 -3.4M331.5 300.5l4.6 3.4M331.5 303.9l4.6 -3.4" stroke="#000" stroke-width="1.2" fill="none"/>
<path d="M205.5 369L213.2 336.7L228.4 322.2L248.4 343L269.2 353.3L332.5 356.7" stroke="#000" stroke-width="1.65" fill="none" stroke-linejoin="round"/>
<circle cx="205.5" cy="369" r="1.95"/><circle cx="213.2" cy="336.7" r="1.95"/><circle cx="228.4" cy="322.2" r="1.95"/><circle cx="248.4" cy="343" r="1.95"/><circle cx="269.2" cy="353.3" r="1.95"/><circle cx="332.5" cy="356.7" r="1.95"/>
<text x="249.2" y="281" class="lb">Neut-E3-ICAM</text>
<text x="256.7" y="344.2" class="lb">Neut-Neut</text>
<text x="125.3" y="255" class="sr" font-size="8.6" text-anchor="middle">[N]</text><path d="M119.2 256h12.2" stroke="#000" stroke-width="0.8"/><text x="123.3" y="264.2" class="sr" font-size="8.6" text-anchor="middle">[I]</text><text x="131.6" y="258.8" font-family='"Liberation Sans", Arial, Helvetica, sans-serif' font-size="9.6">=0.5</text>
<text x="307.3" y="256.8" class="sr" font-size="8.6" text-anchor="middle">[N]</text><path d="M301.2 257.8h12.2" stroke="#000" stroke-width="0.8"/><text x="305.3" y="266" class="sr" font-size="8.6" text-anchor="middle">[I]</text><text x="313.6" y="260.6" font-family='"Liberation Sans", Arial, Helvetica, sans-serif' font-size="9.6">=2</text>
<text x="76.3" y="403.8" class="sb" font-size="10.15">Time, s</text>
<text x="250.4" y="404" class="sb" font-size="10.15">Time, s</text>
<g transform="matrix(1 0.002 -0.023 1 376.4 380.1)">
<path d="M0 -147V0.2M-3.4 0H141.5M0 -4.9h-2M0 -9.8h-2M0 -14.7h-2M0 -19.6h-2M0 -24.5h-3.6M0 -29.4h-2M0 -34.3h-2M0 -39.2h-2M0 -44.1h-2M0 -49h-3.6M0 -53.9h-2M0 -58.8h-2M0 -63.7h-2M0 -68.6h-2M0 -73.5h-3.6M0 -78.4h-2M0 -83.3h-2M0 -88.2h-2M0 -93.1h-2M0 -98h-3.6M0 -102.9h-2M0 -107.8h-2M0 -112.7h-2M0 -117.6h-2M0 -122.5h-3.6M0 -127.4h-2M0 -132.3h-2M0 -137.2h-2M0 -142.1h-2M0 -147h-3.6M0 0v3.2M70 0v3.6M141 0v3.4" stroke="#000" stroke-width="1.25" fill="none"/>
<text x="-5.6" y="4.9" text-anchor="end" class="tk3">0</text>
<text x="-5.6" y="-19.6" text-anchor="end" class="tk3">0.05</text>
<text x="-5.6" y="-44.1" text-anchor="end" class="tk3">0.1</text>
<text x="-5.6" y="-68.6" text-anchor="end" class="tk3">0.15</text>
<text x="-5.6" y="-93.1" text-anchor="end" class="tk3">0.2</text>
<text x="-5.6" y="-117.6" text-anchor="end" class="tk3">0.25</text>
<text x="-5.6" y="-142.1" text-anchor="end" class="tk3">0.3</text>
<rect x="14.3" y="-121.3" width="43.2" height="121.3"/>
<rect x="84.2" y="-38.5" width="44.2" height="38.5"/>
<path d="M36.8 -121.3V-131.5M33.8 -131.5h6M106.6 -38.5V-45.7M104.8 -45.7h3.6" stroke="#000" stroke-width="1.1" fill="none"/>
</g>
<text x="389.8" y="400" class="sb" font-size="9.8">Neut-Neut</text>
<text x="451.9" y="399.2" class="sb" font-size="9.75">Neut-E3-ICAM</text>
</svg>
</body></html>
